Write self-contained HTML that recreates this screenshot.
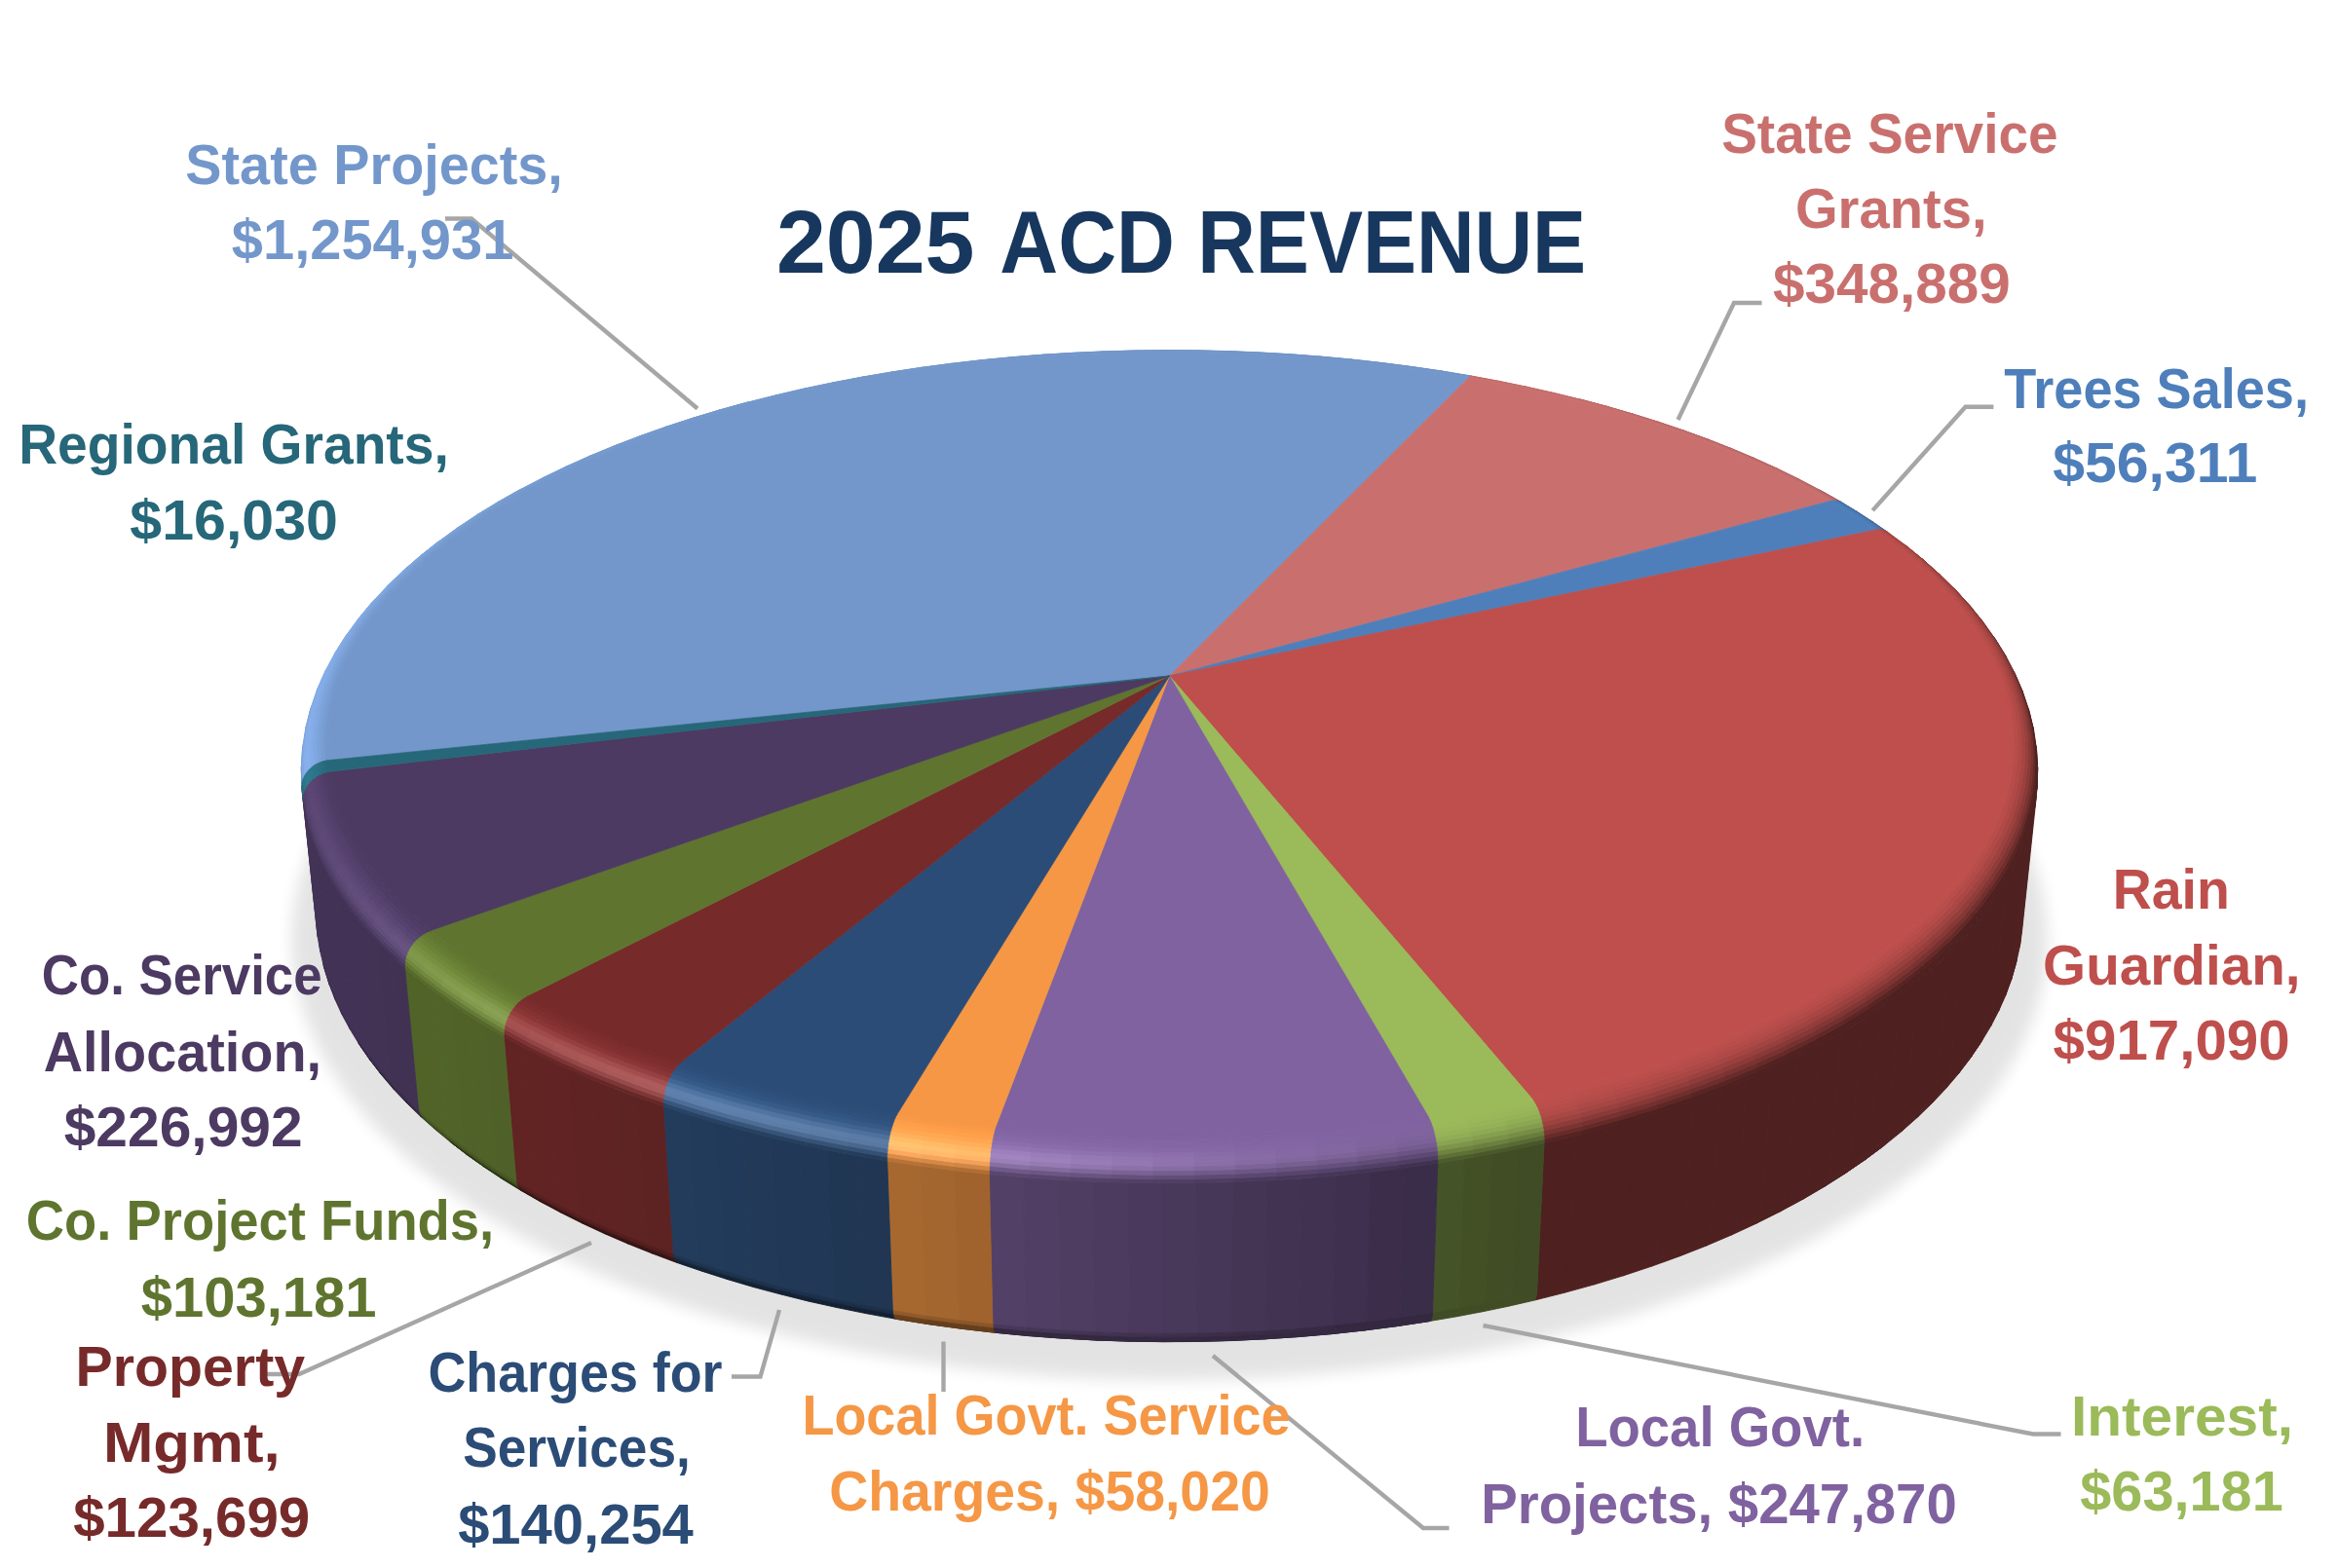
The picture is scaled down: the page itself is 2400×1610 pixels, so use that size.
<!DOCTYPE html>
<html lang="en"><head><meta charset="utf-8"><title>2025 ACD Revenue</title>
<style>html,body{margin:0;padding:0;background:#fff}svg{display:block}</style></head>
<body>
<svg width="2400" height="1610" viewBox="0 0 2400 1610">
<defs>
<filter id="fsh" x="-10%" y="-10%" width="120%" height="130%"><feGaussianBlur stdDeviation="8"/></filter>
</defs>
<rect width="2400" height="1610" fill="#fff"/>
<path d="M2061.8,870.1L2059.1,862.7L2056.1,855.3L2052.9,848.0L2049.4,840.7L2045.7,833.5L2041.7,826.4L2037.6,819.3L2033.2,812.2L2028.6,805.2L2023.8,798.3L2018.7,791.5L2013.5,784.7L2008.0,777.9L2002.3,771.3L1996.5,764.6L1990.4,758.1L1984.1,751.6L1977.7,745.3L1971.0,738.9L1964.2,732.7L1957.2,726.5L1950.0,720.4L1942.7,714.4L1935.1,708.4L1927.4,702.5L1919.5,696.7L1911.5,691.0L1903.3,685.4L1895.0,679.8L1886.5,674.3L1877.8,668.9L1869.0,663.6L1860.1,658.4L1851.0,653.2L1841.7,648.1L1832.4,643.2L1822.9,638.3L1813.3,633.4L1803.5,628.7L1793.6,624.1L1783.7,619.5L1773.5,615.0L1763.3,610.7L1753.0,606.4L1742.5,602.2L1732.0,598.0L1721.3,594.0L1710.6,590.1L1699.7,586.2L1688.7,582.5L1677.7,578.8L1666.6,575.2L1655.3,571.7L1644.0,568.3L1632.6,565.0L1621.2,561.8L1609.6,558.7L1598.0,555.7L1586.3,552.7L1574.5,549.9L1562.7,547.1L1550.8,544.5L1538.8,541.9L1526.8,539.4L1514.7,537.0L1502.6,534.7L1490.4,532.5L1478.1,530.4L1465.9,528.4L1453.5,526.5L1441.1,524.7L1428.7,522.9L1416.2,521.3L1403.7,519.7L1391.2,518.3L1378.6,516.9L1366.0,515.7L1353.4,514.5L1340.8,513.4L1328.1,512.4L1315.4,511.5L1302.7,510.7L1289.9,510.0L1277.2,509.4L1264.4,508.9L1251.7,508.5L1238.9,508.1L1226.1,507.9L1213.3,507.8L1200.5,507.7L1187.7,507.8L1174.9,507.9L1162.1,508.1L1149.3,508.5L1136.6,508.9L1123.8,509.4L1111.1,510.0L1098.3,510.7L1085.6,511.5L1072.9,512.4L1060.2,513.4L1047.6,514.5L1035.0,515.7L1022.4,516.9L1009.8,518.3L997.3,519.7L984.8,521.3L972.3,522.9L959.9,524.7L947.5,526.5L935.1,528.4L922.9,530.4L910.6,532.5L898.4,534.7L886.3,537.0L874.2,539.4L862.2,541.9L850.2,544.5L838.3,547.1L826.5,549.9L814.7,552.7L803.0,555.7L791.4,558.7L779.8,561.8L768.4,565.0L757.0,568.3L745.7,571.7L734.4,575.2L723.3,578.8L712.3,582.5L701.3,586.2L690.4,590.1L679.7,594.0L669.0,598.0L658.5,602.2L648.0,606.4L637.7,610.7L627.5,615.0L617.3,619.5L607.4,624.1L597.5,628.7L587.7,633.4L578.1,638.3L568.6,643.2L559.3,648.1L550.0,653.2L540.9,658.4L532.0,663.6L523.2,668.9L514.5,674.3L506.0,679.8L497.7,685.4L489.5,691.0L481.5,696.7L473.6,702.5L465.9,708.4L458.3,714.4L451.0,720.4L443.8,726.5L436.8,732.7L430.0,738.9L423.3,745.3L416.9,751.6L410.6,758.1L404.5,764.6L398.7,771.3L393.0,777.9L387.5,784.7L382.3,791.5L377.2,798.3L372.4,805.2L367.8,812.2L363.4,819.3L359.3,826.4L355.3,833.5L351.6,840.7L348.1,848.0L344.9,855.3L341.9,862.7L339.2,870.1L336.6,877.5L334.4,885.0L332.4,892.5L330.6,900.1L329.2,907.7L327.9,915.4L327.0,923.1L326.3,930.8L325.8,938.5L325.7,946.3L325.8,954.1L326.2,961.9L326.9,969.7L327.8,977.6L329.1,985.5L330.6,993.3L332.4,1001.2L334.5,1009.1L336.9,1017.0L339.6,1024.9L342.6,1032.8L345.9,1040.7L349.5,1048.6L353.4,1056.5L357.6,1064.3L362.0,1072.2L366.8,1080.0L371.9,1087.8L377.4,1095.6L383.1,1103.3L389.1,1111.0L395.4,1118.7L402.1,1126.3L409.0,1133.9L416.3,1141.5L423.8,1149.0L431.7,1156.4L439.8,1163.8L448.3,1171.1L457.1,1178.4L466.2,1185.6L475.6,1192.7L485.2,1199.7L495.2,1206.7L505.5,1213.6L516.1,1220.4L526.9,1227.1L538.0,1233.7L549.5,1240.2L561.2,1246.6L573.2,1252.9L585.4,1259.1L598.0,1265.2L610.8,1271.2L623.8,1277.1L637.2,1282.8L650.7,1288.5L664.6,1294.0L678.6,1299.3L693.0,1304.5L707.5,1309.6L722.3,1314.6L737.3,1319.4L752.5,1324.1L767.9,1328.6L783.5,1332.9L799.4,1337.1L815.4,1341.2L831.6,1345.1L848.0,1348.8L864.5,1352.3L881.2,1355.7L898.1,1358.9L915.1,1362.0L932.3,1364.9L949.5,1367.5L966.9,1370.1L984.5,1372.4L1002.1,1374.6L1019.8,1376.5L1037.6,1378.3L1055.5,1379.9L1073.5,1381.4L1091.5,1382.6L1109.6,1383.6L1127.7,1384.5L1145.9,1385.2L1164.1,1385.6L1182.3,1385.9L1200.5,1386.0L1218.7,1385.9L1236.9,1385.6L1255.1,1385.2L1273.3,1384.5L1291.4,1383.6L1309.5,1382.6L1327.5,1381.4L1345.5,1379.9L1363.4,1378.3L1381.2,1376.5L1398.9,1374.6L1416.5,1372.4L1434.1,1370.1L1451.5,1367.5L1468.7,1364.9L1485.9,1362.0L1502.9,1358.9L1519.8,1355.7L1536.5,1352.3L1553.0,1348.8L1569.4,1345.1L1585.6,1341.2L1601.6,1337.1L1617.5,1332.9L1633.1,1328.6L1648.5,1324.1L1663.7,1319.4L1678.7,1314.6L1693.5,1309.6L1708.0,1304.5L1722.4,1299.3L1736.4,1294.0L1750.3,1288.5L1763.8,1282.8L1777.2,1277.1L1790.2,1271.2L1803.0,1265.2L1815.6,1259.1L1827.8,1252.9L1839.8,1246.6L1851.5,1240.2L1863.0,1233.7L1874.1,1227.1L1884.9,1220.4L1895.5,1213.6L1905.8,1206.7L1915.8,1199.7L1925.4,1192.7L1934.8,1185.6L1943.9,1178.4L1952.7,1171.1L1961.2,1163.8L1969.3,1156.4L1977.2,1149.0L1984.7,1141.5L1992.0,1133.9L1998.9,1126.3L2005.6,1118.7L2011.9,1111.0L2017.9,1103.3L2023.6,1095.6L2029.1,1087.8L2034.2,1080.0L2039.0,1072.2L2043.4,1064.3L2047.6,1056.5L2051.5,1048.6L2055.1,1040.7L2058.4,1032.8L2061.4,1024.9L2064.1,1017.0L2066.5,1009.1L2068.6,1001.2L2070.4,993.3L2071.9,985.5L2073.2,977.6L2074.1,969.7L2074.8,961.9L2075.2,954.1L2075.3,946.3L2075.2,938.5L2074.7,930.8L2074.0,923.1L2073.1,915.4L2071.8,907.7L2070.4,900.1L2068.6,892.5L2066.6,885.0L2064.4,877.5L2061.8,870.1Z" fill="#000" opacity="0.105" filter="url(#fsh)" transform="translate(1200.5,964.9) scale(1.03) translate(-1200.5,-946.9)"/>
<g stroke-linejoin="round">
<path d="M1585.1,1173.7L1617.4,1166.0L1609.4,1318.8L1577.7,1326.8Z" fill="#4E201F" stroke="#4E201F" stroke-width="0.9"/>
<path d="M1577.7,1326.8L1609.4,1318.8L1608.9,1322.7L1577.2,1330.7Z" fill="#4E201F" stroke="#4E201F" stroke-width="0.9"/>
<path d="M1577.2,1330.7L1608.9,1322.7L1607.7,1325.6L1576.1,1333.6Z" fill="#4E201F" stroke="#4E201F" stroke-width="0.9"/>
<path d="M1576.1,1333.6L1607.7,1325.6L1606.0,1327.3L1574.6,1335.2Z" fill="#4E201F" stroke="#4E201F" stroke-width="0.9"/>
<path d="M1617.4,1166.0L1648.9,1157.8L1640.4,1310.3L1609.4,1318.8Z" fill="#4E201F" stroke="#4E201F" stroke-width="0.9"/>
<path d="M1609.4,1318.8L1640.4,1310.3L1639.8,1314.2L1608.9,1322.7Z" fill="#4E201F" stroke="#4E201F" stroke-width="0.9"/>
<path d="M1608.9,1322.7L1639.8,1314.2L1638.6,1317.1L1607.7,1325.6Z" fill="#4E201F" stroke="#4E201F" stroke-width="0.9"/>
<path d="M1607.7,1325.6L1638.6,1317.1L1636.8,1318.8L1606.0,1327.3Z" fill="#4E201F" stroke="#4E201F" stroke-width="0.9"/>
<path d="M1648.9,1157.8L1679.6,1148.9L1670.5,1301.1L1640.4,1310.3Z" fill="#4E201F" stroke="#4E201F" stroke-width="0.9"/>
<path d="M1640.4,1310.3L1670.5,1301.1L1669.9,1305.0L1639.8,1314.2Z" fill="#4E201F" stroke="#4E201F" stroke-width="0.9"/>
<path d="M1639.8,1314.2L1669.9,1305.0L1668.6,1308.0L1638.6,1317.1Z" fill="#4E201F" stroke="#4E201F" stroke-width="0.9"/>
<path d="M1638.6,1317.1L1668.6,1308.0L1666.7,1309.7L1636.8,1318.8Z" fill="#4E201F" stroke="#4E201F" stroke-width="0.9"/>
<path d="M1679.6,1148.9L1709.5,1139.6L1699.8,1291.4L1670.5,1301.1Z" fill="#4E201F" stroke="#4E201F" stroke-width="0.9"/>
<path d="M1670.5,1301.1L1699.8,1291.4L1699.2,1295.3L1669.9,1305.0Z" fill="#4E201F" stroke="#4E201F" stroke-width="0.9"/>
<path d="M1669.9,1305.0L1699.2,1295.3L1697.8,1298.3L1668.6,1308.0Z" fill="#4E201F" stroke="#4E201F" stroke-width="0.9"/>
<path d="M1668.6,1308.0L1697.8,1298.3L1695.7,1300.1L1666.7,1309.7Z" fill="#4E201F" stroke="#4E201F" stroke-width="0.9"/>
<path d="M1709.5,1139.6L1738.4,1129.7L1728.2,1281.2L1699.8,1291.4Z" fill="#4E201F" stroke="#4E201F" stroke-width="0.9"/>
<path d="M1699.8,1291.4L1728.2,1281.2L1727.5,1285.1L1699.2,1295.3Z" fill="#4E201F" stroke="#4E201F" stroke-width="0.9"/>
<path d="M1699.2,1295.3L1727.5,1285.1L1726.1,1288.1L1697.8,1298.3Z" fill="#4E201F" stroke="#4E201F" stroke-width="0.9"/>
<path d="M1697.8,1298.3L1726.1,1288.1L1723.9,1289.9L1695.7,1300.1Z" fill="#4E201F" stroke="#4E201F" stroke-width="0.9"/>
<path d="M1738.4,1129.7L1766.3,1119.3L1755.7,1270.4L1728.2,1281.2Z" fill="#4E201F" stroke="#4E201F" stroke-width="0.9"/>
<path d="M1728.2,1281.2L1755.7,1270.4L1754.9,1274.3L1727.5,1285.1Z" fill="#4E201F" stroke="#4E201F" stroke-width="0.9"/>
<path d="M1727.5,1285.1L1754.9,1274.3L1753.4,1277.3L1726.1,1288.1Z" fill="#4E201F" stroke="#4E201F" stroke-width="0.9"/>
<path d="M1726.1,1288.1L1753.4,1277.3L1751.2,1279.2L1723.9,1289.9Z" fill="#4E201F" stroke="#4E201F" stroke-width="0.9"/>
<path d="M1766.3,1119.3L1793.2,1108.4L1782.1,1259.2L1755.7,1270.4Z" fill="#4E201F" stroke="#4E201F" stroke-width="0.9"/>
<path d="M1755.7,1270.4L1782.1,1259.2L1781.4,1263.1L1754.9,1274.3Z" fill="#4E201F" stroke="#4E201F" stroke-width="0.9"/>
<path d="M1754.9,1274.3L1781.4,1263.1L1779.8,1266.1L1753.4,1277.3Z" fill="#4E201F" stroke="#4E201F" stroke-width="0.9"/>
<path d="M1753.4,1277.3L1779.8,1266.1L1777.4,1268.0L1751.2,1279.2Z" fill="#4E201F" stroke="#4E201F" stroke-width="0.9"/>
<path d="M1793.2,1108.4L1819.1,1097.1L1807.6,1247.4L1782.1,1259.2Z" fill="#4E201F" stroke="#4E201F" stroke-width="0.9"/>
<path d="M1782.1,1259.2L1807.6,1247.4L1806.8,1251.3L1781.4,1263.1Z" fill="#4E201F" stroke="#4E201F" stroke-width="0.9"/>
<path d="M1781.4,1263.1L1806.8,1251.3L1805.1,1254.4L1779.8,1266.1Z" fill="#4E201F" stroke="#4E201F" stroke-width="0.9"/>
<path d="M1779.8,1266.1L1805.1,1254.4L1802.7,1256.3L1777.4,1268.0Z" fill="#4E201F" stroke="#4E201F" stroke-width="0.9"/>
<path d="M1819.1,1097.1L1843.9,1085.4L1832.0,1235.3L1807.6,1247.4Z" fill="#4E201F" stroke="#4E201F" stroke-width="0.9"/>
<path d="M1807.6,1247.4L1832.0,1235.3L1831.2,1239.2L1806.8,1251.3Z" fill="#4E201F" stroke="#4E201F" stroke-width="0.9"/>
<path d="M1806.8,1251.3L1831.2,1239.2L1829.4,1242.2L1805.1,1254.4Z" fill="#4E201F" stroke="#4E201F" stroke-width="0.9"/>
<path d="M1805.1,1254.4L1829.4,1242.2L1826.9,1244.2L1802.7,1256.3Z" fill="#4E201F" stroke="#4E201F" stroke-width="0.9"/>
<path d="M1843.9,1085.4L1867.6,1073.3L1855.3,1222.7L1832.0,1235.3Z" fill="#4E201F" stroke="#4E201F" stroke-width="0.9"/>
<path d="M1832.0,1235.3L1855.3,1222.7L1854.5,1226.6L1831.2,1239.2Z" fill="#4E201F" stroke="#4E201F" stroke-width="0.9"/>
<path d="M1831.2,1239.2L1854.5,1226.6L1852.7,1229.7L1829.4,1242.2Z" fill="#4E201F" stroke="#4E201F" stroke-width="0.9"/>
<path d="M1829.4,1242.2L1852.7,1229.7L1850.1,1231.7L1826.9,1244.2Z" fill="#4E201F" stroke="#4E201F" stroke-width="0.9"/>
<path d="M1867.6,1073.3L1890.2,1060.8L1877.5,1209.7L1855.3,1222.7Z" fill="#4E201F" stroke="#4E201F" stroke-width="0.9"/>
<path d="M1855.3,1222.7L1877.5,1209.7L1876.7,1213.6L1854.5,1226.6Z" fill="#4E201F" stroke="#4E201F" stroke-width="0.9"/>
<path d="M1854.5,1226.6L1876.7,1213.6L1874.8,1216.7L1852.7,1229.7Z" fill="#4E201F" stroke="#4E201F" stroke-width="0.9"/>
<path d="M1852.7,1229.7L1874.8,1216.7L1872.1,1218.8L1850.1,1231.7Z" fill="#4E201F" stroke="#4E201F" stroke-width="0.9"/>
<path d="M1890.2,1060.8L1911.6,1047.9L1898.6,1196.4L1877.5,1209.7Z" fill="#4E201F" stroke="#4E201F" stroke-width="0.9"/>
<path d="M1877.5,1209.7L1898.6,1196.4L1897.7,1200.3L1876.7,1213.6Z" fill="#4E201F" stroke="#4E201F" stroke-width="0.9"/>
<path d="M1876.7,1213.6L1897.7,1200.3L1895.8,1203.4L1874.8,1216.7Z" fill="#4E201F" stroke="#4E201F" stroke-width="0.9"/>
<path d="M1874.8,1216.7L1895.8,1203.4L1893.1,1205.5L1872.1,1218.8Z" fill="#4E201F" stroke="#4E201F" stroke-width="0.9"/>
<path d="M1911.6,1047.9L1931.8,1034.8L1918.6,1182.8L1898.6,1196.4Z" fill="#4E201F" stroke="#4E201F" stroke-width="0.9"/>
<path d="M1898.6,1196.4L1918.6,1182.8L1917.6,1186.7L1897.7,1200.3Z" fill="#4E201F" stroke="#4E201F" stroke-width="0.9"/>
<path d="M1897.7,1200.3L1917.6,1186.7L1915.7,1189.8L1895.8,1203.4Z" fill="#4E201F" stroke="#4E201F" stroke-width="0.9"/>
<path d="M1895.8,1203.4L1915.7,1189.8L1912.9,1191.9L1893.1,1205.5Z" fill="#4E201F" stroke="#4E201F" stroke-width="0.9"/>
<path d="M1931.8,1034.8L1950.9,1021.3L1937.3,1168.8L1918.6,1182.8Z" fill="#4E201F" stroke="#4E201F" stroke-width="0.9"/>
<path d="M1918.6,1182.8L1937.3,1168.8L1936.4,1172.7L1917.6,1186.7Z" fill="#4E201F" stroke="#4E201F" stroke-width="0.9"/>
<path d="M1917.6,1186.7L1936.4,1172.7L1934.4,1175.9L1915.7,1189.8Z" fill="#4E201F" stroke="#4E201F" stroke-width="0.9"/>
<path d="M1915.7,1189.8L1934.4,1175.9L1931.6,1178.1L1912.9,1191.9Z" fill="#4E201F" stroke="#4E201F" stroke-width="0.9"/>
<path d="M1950.9,1021.3L1968.8,1007.6L1954.9,1154.6L1937.3,1168.8Z" fill="#4E201F" stroke="#4E201F" stroke-width="0.9"/>
<path d="M1937.3,1168.8L1954.9,1154.6L1954.0,1158.5L1936.4,1172.7Z" fill="#4E201F" stroke="#4E201F" stroke-width="0.9"/>
<path d="M1936.4,1172.7L1954.0,1158.5L1952.0,1161.7L1934.4,1175.9Z" fill="#4E201F" stroke="#4E201F" stroke-width="0.9"/>
<path d="M1968.8,1007.6L1985.4,993.7L1971.4,1140.1L1954.9,1154.6Z" fill="#4E201F" stroke="#4E201F" stroke-width="0.9"/>
<path d="M1954.9,1154.6L1971.4,1140.1L1970.4,1144.0L1954.0,1158.5Z" fill="#4E201F" stroke="#4E201F" stroke-width="0.9"/>
<path d="M1954.0,1158.5L1970.4,1144.0L1968.3,1147.2L1952.0,1161.7Z" fill="#4E201F" stroke="#4E201F" stroke-width="0.9"/>
<path d="M1985.4,993.7L2000.8,979.5L1986.6,1125.4L1971.4,1140.1Z" fill="#4E201F" stroke="#4E201F" stroke-width="0.9"/>
<path d="M1971.4,1140.1L1986.6,1125.4L1985.6,1129.3L1970.4,1144.0Z" fill="#4E201F" stroke="#4E201F" stroke-width="0.9"/>
<path d="M1970.4,1144.0L1985.6,1129.3L1983.5,1132.5L1968.3,1147.2Z" fill="#4E201F" stroke="#4E201F" stroke-width="0.9"/>
<path d="M2000.8,979.5L2015.0,965.2L2000.6,1110.5L1986.6,1125.4Z" fill="#4E201F" stroke="#4E201F" stroke-width="0.9"/>
<path d="M1986.6,1125.4L2000.6,1110.5L1999.6,1114.4L1985.6,1129.3Z" fill="#4E201F" stroke="#4E201F" stroke-width="0.9"/>
<path d="M1985.6,1129.3L1999.6,1114.4L1997.5,1117.6L1983.5,1132.5Z" fill="#4E201F" stroke="#4E201F" stroke-width="0.9"/>
<path d="M2015.0,965.2L2028.0,950.7L2013.4,1095.5L2000.6,1110.5Z" fill="#4E201F" stroke="#4E201F" stroke-width="0.9"/>
<path d="M2000.6,1110.5L2013.4,1095.5L2012.4,1099.3L1999.6,1114.4Z" fill="#4E201F" stroke="#4E201F" stroke-width="0.9"/>
<path d="M1999.6,1114.4L2012.4,1099.3L2010.3,1102.6L1997.5,1117.6Z" fill="#4E201F" stroke="#4E201F" stroke-width="0.9"/>
<path d="M2028.0,950.7L2039.7,936.1L2025.0,1080.3L2013.4,1095.5Z" fill="#4E201F" stroke="#4E201F" stroke-width="0.9"/>
<path d="M2013.4,1095.5L2025.0,1080.3L2024.0,1084.1L2012.4,1099.3Z" fill="#4E201F" stroke="#4E201F" stroke-width="0.9"/>
<path d="M2012.4,1099.3L2024.0,1084.1L2021.9,1087.4L2010.3,1102.6Z" fill="#4E201F" stroke="#4E201F" stroke-width="0.9"/>
<path d="M2039.7,936.1L2050.2,921.3L2035.5,1065.0L2025.0,1080.3Z" fill="#4E201F" stroke="#4E201F" stroke-width="0.9"/>
<path d="M2025.0,1080.3L2035.5,1065.0L2034.4,1068.8L2024.0,1084.1Z" fill="#4E201F" stroke="#4E201F" stroke-width="0.9"/>
<path d="M2024.0,1084.1L2034.4,1068.8L2032.3,1072.1L2021.9,1087.4Z" fill="#4E201F" stroke="#4E201F" stroke-width="0.9"/>
<path d="M2050.2,921.3L2059.5,906.5L2044.7,1049.6L2035.5,1065.0Z" fill="#4E201F" stroke="#4E201F" stroke-width="0.9"/>
<path d="M2035.5,1065.0L2044.7,1049.6L2043.7,1053.4L2034.4,1068.8Z" fill="#4E201F" stroke="#4E201F" stroke-width="0.9"/>
<path d="M2059.5,906.5L2067.6,891.6L2052.7,1034.1L2044.7,1049.6Z" fill="#4E201F" stroke="#4E201F" stroke-width="0.9"/>
<path d="M2044.7,1049.6L2052.7,1034.1L2051.7,1037.9L2043.7,1053.4Z" fill="#4E201F" stroke="#4E201F" stroke-width="0.9"/>
<path d="M2067.6,891.6L2074.5,876.7L2059.6,1018.6L2052.7,1034.1Z" fill="#4E201F" stroke="#4E201F" stroke-width="0.9"/>
<path d="M2052.7,1034.1L2059.6,1018.6L2058.6,1022.4L2051.7,1037.9Z" fill="#4E201F" stroke="#4E201F" stroke-width="0.9"/>
<path d="M2074.5,876.7L2080.2,861.8L2065.3,1003.0L2059.6,1018.6Z" fill="#4E201F" stroke="#4E201F" stroke-width="0.9"/>
<path d="M2059.6,1018.6L2065.3,1003.0L2064.3,1006.9L2058.6,1022.4Z" fill="#4E201F" stroke="#4E201F" stroke-width="0.9"/>
<path d="M2080.2,861.8L2084.8,846.9L2069.8,987.5L2065.3,1003.0Z" fill="#4E201F" stroke="#4E201F" stroke-width="0.9"/>
<path d="M2065.3,1003.0L2069.8,987.5L2068.8,991.3L2064.3,1006.9Z" fill="#4E201F" stroke="#4E201F" stroke-width="0.9"/>
<path d="M2084.8,846.9L2088.1,831.9L2073.3,972.0L2069.8,987.5Z" fill="#4E201F" stroke="#4E201F" stroke-width="0.9"/>
<path d="M2088.1,831.9L2090.4,817.1L2075.5,956.5L2073.3,972.0Z" fill="#4E201F" stroke="#4E201F" stroke-width="0.9"/>
<path d="M1475.8,1194.3L1503.7,1189.8L1497.9,1343.4L1470.5,1348.1Z" fill="#455328" stroke="#455328" stroke-width="0.9"/>
<path d="M1470.5,1348.1L1497.9,1343.4L1497.5,1347.3L1470.1,1352.0Z" fill="#404C25" stroke="#404C25" stroke-width="0.9"/>
<path d="M1470.1,1352.0L1497.5,1347.3L1496.6,1350.2L1469.3,1354.8Z" fill="#404C24" stroke="#404C24" stroke-width="0.9"/>
<path d="M1469.3,1354.8L1496.6,1350.2L1495.4,1351.8L1468.2,1356.4Z" fill="#404C24" stroke="#404C24" stroke-width="0.9"/>
<path d="M1503.7,1189.8L1531.2,1184.8L1524.9,1338.3L1497.9,1343.4Z" fill="#435026" stroke="#435026" stroke-width="0.9"/>
<path d="M1497.9,1343.4L1524.9,1338.3L1524.5,1342.2L1497.5,1347.3Z" fill="#404C24" stroke="#404C24" stroke-width="0.9"/>
<path d="M1497.5,1347.3L1524.5,1342.2L1523.5,1345.1L1496.6,1350.2Z" fill="#404C24" stroke="#404C24" stroke-width="0.9"/>
<path d="M1496.6,1350.2L1523.5,1345.1L1522.2,1346.7L1495.4,1351.8Z" fill="#404C24" stroke="#404C24" stroke-width="0.9"/>
<path d="M1531.2,1184.8L1558.4,1179.5L1551.5,1332.7L1524.9,1338.3Z" fill="#414E25" stroke="#414E25" stroke-width="0.9"/>
<path d="M1524.9,1338.3L1551.5,1332.7L1551.0,1336.7L1524.5,1342.2Z" fill="#404C24" stroke="#404C24" stroke-width="0.9"/>
<path d="M1524.5,1342.2L1551.0,1336.7L1550.0,1339.5L1523.5,1345.1Z" fill="#404C24" stroke="#404C24" stroke-width="0.9"/>
<path d="M1523.5,1345.1L1550.0,1339.5L1548.6,1341.2L1522.2,1346.7Z" fill="#404C24" stroke="#404C24" stroke-width="0.9"/>
<path d="M1558.4,1179.5L1585.1,1173.7L1577.7,1326.8L1551.5,1332.7Z" fill="#404C25" stroke="#404C25" stroke-width="0.9"/>
<path d="M1551.5,1332.7L1577.7,1326.8L1577.2,1330.7L1551.0,1336.7Z" fill="#404C24" stroke="#404C24" stroke-width="0.9"/>
<path d="M1551.0,1336.7L1577.2,1330.7L1576.1,1333.6L1550.0,1339.5Z" fill="#404C24" stroke="#404C24" stroke-width="0.9"/>
<path d="M1550.0,1339.5L1576.1,1333.6L1574.6,1335.2L1548.6,1341.2Z" fill="#404C24" stroke="#404C24" stroke-width="0.9"/>
<path d="M1015.4,1205.7L1050.6,1208.8L1053.5,1363.2L1019.0,1359.9Z" fill="#524066" stroke="#524066" stroke-width="0.9"/>
<path d="M1019.0,1359.9L1053.5,1363.2L1053.7,1367.1L1019.2,1363.8Z" fill="#473758" stroke="#473758" stroke-width="0.9"/>
<path d="M1019.2,1363.8L1053.7,1367.1L1054.1,1369.9L1019.8,1366.6Z" fill="#342841" stroke="#342841" stroke-width="0.9"/>
<path d="M1019.8,1366.6L1054.1,1369.9L1054.7,1371.4L1020.5,1368.1Z" fill="#342841" stroke="#342841" stroke-width="0.9"/>
<path d="M1020.5,1368.1L1054.7,1371.4L1055.5,1371.6L1021.5,1368.3Z" fill="#342841" stroke="#342841" stroke-width="0.9"/>
<path d="M1050.6,1208.8L1086.1,1211.3L1088.3,1365.8L1053.5,1363.2Z" fill="#503E64" stroke="#503E64" stroke-width="0.9"/>
<path d="M1053.5,1363.2L1088.3,1365.8L1088.5,1369.7L1053.7,1367.1Z" fill="#453556" stroke="#453556" stroke-width="0.9"/>
<path d="M1053.7,1367.1L1088.5,1369.7L1088.8,1372.5L1054.1,1369.9Z" fill="#342841" stroke="#342841" stroke-width="0.9"/>
<path d="M1054.1,1369.9L1088.8,1372.5L1089.2,1374.0L1054.7,1371.4Z" fill="#342841" stroke="#342841" stroke-width="0.9"/>
<path d="M1054.7,1371.4L1089.2,1374.0L1089.8,1374.1L1055.5,1371.6Z" fill="#342841" stroke="#342841" stroke-width="0.9"/>
<path d="M1086.1,1211.3L1121.8,1213.2L1123.3,1367.7L1088.3,1365.8Z" fill="#4E3D61" stroke="#4E3D61" stroke-width="0.9"/>
<path d="M1088.3,1365.8L1123.3,1367.7L1123.4,1371.6L1088.5,1369.7Z" fill="#433454" stroke="#433454" stroke-width="0.9"/>
<path d="M1088.5,1369.7L1123.4,1371.6L1123.6,1374.4L1088.8,1372.5Z" fill="#342841" stroke="#342841" stroke-width="0.9"/>
<path d="M1088.8,1372.5L1123.6,1374.4L1124.0,1375.9L1089.2,1374.0Z" fill="#342841" stroke="#342841" stroke-width="0.9"/>
<path d="M1089.2,1374.0L1124.0,1375.9L1124.4,1376.0L1089.8,1374.1Z" fill="#342841" stroke="#342841" stroke-width="0.9"/>
<path d="M1121.8,1213.2L1157.6,1214.3L1158.5,1368.9L1123.3,1367.7Z" fill="#4C3B5F" stroke="#4C3B5F" stroke-width="0.9"/>
<path d="M1123.3,1367.7L1158.5,1368.9L1158.5,1372.8L1123.4,1371.6Z" fill="#413252" stroke="#413252" stroke-width="0.9"/>
<path d="M1123.4,1371.6L1158.5,1372.8L1158.6,1375.6L1123.6,1374.4Z" fill="#342841" stroke="#342841" stroke-width="0.9"/>
<path d="M1123.6,1374.4L1158.6,1375.6L1158.8,1377.1L1124.0,1375.9Z" fill="#342841" stroke="#342841" stroke-width="0.9"/>
<path d="M1124.0,1375.9L1158.8,1377.1L1159.0,1377.2L1124.4,1376.0Z" fill="#342841" stroke="#342841" stroke-width="0.9"/>
<path d="M1157.6,1214.3L1193.5,1214.8L1193.7,1369.3L1158.5,1368.9Z" fill="#4A395D" stroke="#4A395D" stroke-width="0.9"/>
<path d="M1158.5,1368.9L1193.7,1369.3L1193.7,1373.2L1158.5,1372.8Z" fill="#40314F" stroke="#40314F" stroke-width="0.9"/>
<path d="M1158.5,1372.8L1193.7,1373.2L1193.7,1376.0L1158.6,1375.6Z" fill="#342841" stroke="#342841" stroke-width="0.9"/>
<path d="M1158.6,1375.6L1193.7,1376.0L1193.7,1377.6L1158.8,1377.1Z" fill="#342841" stroke="#342841" stroke-width="0.9"/>
<path d="M1158.8,1377.1L1193.7,1377.6L1193.8,1377.7L1159.0,1377.2Z" fill="#342841" stroke="#342841" stroke-width="0.9"/>
<path d="M1193.5,1214.8L1229.5,1214.6L1228.9,1369.1L1193.7,1369.3Z" fill="#48385A" stroke="#48385A" stroke-width="0.9"/>
<path d="M1193.7,1369.3L1228.9,1369.1L1228.9,1373.0L1193.7,1373.2Z" fill="#3E304D" stroke="#3E304D" stroke-width="0.9"/>
<path d="M1193.7,1373.2L1228.9,1373.0L1228.8,1375.8L1193.7,1376.0Z" fill="#342841" stroke="#342841" stroke-width="0.9"/>
<path d="M1193.7,1376.0L1228.8,1375.8L1228.7,1377.3L1193.7,1377.6Z" fill="#342841" stroke="#342841" stroke-width="0.9"/>
<path d="M1193.7,1377.6L1228.7,1377.3L1228.5,1377.5L1193.8,1377.7Z" fill="#342841" stroke="#342841" stroke-width="0.9"/>
<path d="M1229.5,1214.6L1265.3,1213.7L1264.1,1368.2L1228.9,1369.1Z" fill="#463658" stroke="#463658" stroke-width="0.9"/>
<path d="M1228.9,1369.1L1264.1,1368.2L1264.0,1372.1L1228.9,1373.0Z" fill="#3C2E4B" stroke="#3C2E4B" stroke-width="0.9"/>
<path d="M1228.9,1373.0L1264.0,1372.1L1263.8,1374.9L1228.8,1375.8Z" fill="#342841" stroke="#342841" stroke-width="0.9"/>
<path d="M1228.8,1375.8L1263.8,1374.9L1263.6,1376.4L1228.7,1377.3Z" fill="#342841" stroke="#342841" stroke-width="0.9"/>
<path d="M1228.7,1377.3L1263.6,1376.4L1263.2,1376.6L1228.5,1377.5Z" fill="#342841" stroke="#342841" stroke-width="0.9"/>
<path d="M1265.3,1213.7L1301.1,1212.1L1299.2,1366.6L1264.1,1368.2Z" fill="#443555" stroke="#443555" stroke-width="0.9"/>
<path d="M1264.1,1368.2L1299.2,1366.6L1299.0,1370.5L1264.0,1372.1Z" fill="#3A2D48" stroke="#3A2D48" stroke-width="0.9"/>
<path d="M1264.0,1372.1L1299.0,1370.5L1298.7,1373.3L1263.8,1374.9Z" fill="#342841" stroke="#342841" stroke-width="0.9"/>
<path d="M1263.8,1374.9L1298.7,1373.3L1298.3,1374.8L1263.6,1376.4Z" fill="#342841" stroke="#342841" stroke-width="0.9"/>
<path d="M1263.6,1376.4L1298.3,1374.8L1297.8,1374.9L1263.2,1376.6Z" fill="#342841" stroke="#342841" stroke-width="0.9"/>
<path d="M1301.1,1212.1L1336.7,1209.9L1334.0,1364.3L1299.2,1366.6Z" fill="#423353" stroke="#423353" stroke-width="0.9"/>
<path d="M1299.2,1366.6L1334.0,1364.3L1333.9,1368.2L1299.0,1370.5Z" fill="#382B46" stroke="#382B46" stroke-width="0.9"/>
<path d="M1299.0,1370.5L1333.9,1368.2L1333.5,1371.0L1298.7,1373.3Z" fill="#342841" stroke="#342841" stroke-width="0.9"/>
<path d="M1298.7,1373.3L1333.5,1371.0L1332.9,1372.5L1298.3,1374.8Z" fill="#342841" stroke="#342841" stroke-width="0.9"/>
<path d="M1298.3,1374.8L1332.9,1372.5L1332.2,1372.6L1297.8,1374.9Z" fill="#342841" stroke="#342841" stroke-width="0.9"/>
<path d="M1336.7,1209.9L1372.0,1207.0L1368.7,1361.2L1334.0,1364.3Z" fill="#403250" stroke="#403250" stroke-width="0.9"/>
<path d="M1334.0,1364.3L1368.7,1361.2L1368.4,1365.1L1333.9,1368.2Z" fill="#362A44" stroke="#362A44" stroke-width="0.9"/>
<path d="M1333.9,1368.2L1368.4,1365.1L1368.0,1368.0L1333.5,1371.0Z" fill="#342841" stroke="#342841" stroke-width="0.9"/>
<path d="M1333.5,1371.0L1368.0,1368.0L1367.3,1369.5L1332.9,1372.5Z" fill="#342841" stroke="#342841" stroke-width="0.9"/>
<path d="M1332.9,1372.5L1367.3,1369.5L1366.4,1369.7L1332.2,1372.6Z" fill="#342841" stroke="#342841" stroke-width="0.9"/>
<path d="M1372.0,1207.0L1407.0,1203.4L1403.0,1357.5L1368.7,1361.2Z" fill="#3E304E" stroke="#3E304E" stroke-width="0.9"/>
<path d="M1368.7,1361.2L1403.0,1357.5L1402.7,1361.4L1368.4,1365.1Z" fill="#342841" stroke="#342841" stroke-width="0.9"/>
<path d="M1368.4,1365.1L1402.7,1361.4L1402.1,1364.3L1368.0,1368.0Z" fill="#342841" stroke="#342841" stroke-width="0.9"/>
<path d="M1368.0,1368.0L1402.1,1364.3L1401.3,1365.8L1367.3,1369.5Z" fill="#342841" stroke="#342841" stroke-width="0.9"/>
<path d="M1367.3,1369.5L1401.3,1365.8L1400.2,1366.0L1366.4,1369.7Z" fill="#342841" stroke="#342841" stroke-width="0.9"/>
<path d="M1407.0,1203.4L1441.6,1199.1L1436.9,1353.1L1403.0,1357.5Z" fill="#3C2E4B" stroke="#3C2E4B" stroke-width="0.9"/>
<path d="M1403.0,1357.5L1436.9,1353.1L1436.6,1357.0L1402.7,1361.4Z" fill="#342841" stroke="#342841" stroke-width="0.9"/>
<path d="M1402.7,1361.4L1436.6,1357.0L1435.9,1359.9L1402.1,1364.3Z" fill="#342841" stroke="#342841" stroke-width="0.9"/>
<path d="M1402.1,1364.3L1435.9,1359.9L1435.0,1361.4L1401.3,1365.8Z" fill="#342841" stroke="#342841" stroke-width="0.9"/>
<path d="M1401.3,1365.8L1435.0,1361.4L1433.7,1361.7L1400.2,1366.0Z" fill="#342841" stroke="#342841" stroke-width="0.9"/>
<path d="M1441.6,1199.1L1475.8,1194.3L1470.5,1348.1L1436.9,1353.1Z" fill="#3A2D49" stroke="#3A2D49" stroke-width="0.9"/>
<path d="M1436.9,1353.1L1470.5,1348.1L1470.1,1352.0L1436.6,1357.0Z" fill="#342841" stroke="#342841" stroke-width="0.9"/>
<path d="M1436.6,1357.0L1470.1,1352.0L1469.3,1354.8L1435.9,1359.9Z" fill="#342841" stroke="#342841" stroke-width="0.9"/>
<path d="M1435.9,1359.9L1469.3,1354.8L1468.2,1356.4L1435.0,1361.4Z" fill="#342841" stroke="#342841" stroke-width="0.9"/>
<path d="M1435.0,1361.4L1468.2,1356.4L1466.8,1356.7L1433.7,1361.7Z" fill="#342841" stroke="#342841" stroke-width="0.9"/>
<path d="M910.7,1192.0L945.1,1197.2L950.1,1351.1L916.3,1345.7Z" fill="#A76830" stroke="#A76830" stroke-width="0.9"/>
<path d="M916.3,1345.7L950.1,1351.1L950.4,1355.0L916.6,1349.6Z" fill="#925A29" stroke="#925A29" stroke-width="0.9"/>
<path d="M916.6,1349.6L950.4,1355.0L951.1,1357.9L917.4,1352.5Z" fill="#69411D" stroke="#69411D" stroke-width="0.9"/>
<path d="M917.4,1352.5L951.1,1357.9L952.1,1359.4L918.6,1354.1Z" fill="#643E1C" stroke="#643E1C" stroke-width="0.9"/>
<path d="M918.6,1354.1L952.1,1359.4L953.4,1359.7L920.1,1354.3Z" fill="#643E1C" stroke="#643E1C" stroke-width="0.9"/>
<path d="M945.1,1197.2L980.1,1201.8L984.3,1355.8L950.1,1351.1Z" fill="#A4662F" stroke="#A4662F" stroke-width="0.9"/>
<path d="M950.1,1351.1L984.3,1355.8L984.6,1359.7L950.4,1355.0Z" fill="#8F5828" stroke="#8F5828" stroke-width="0.9"/>
<path d="M950.4,1355.0L984.6,1359.7L985.2,1362.6L951.1,1357.9Z" fill="#663F1D" stroke="#663F1D" stroke-width="0.9"/>
<path d="M951.1,1357.9L985.2,1362.6L986.1,1364.1L952.1,1359.4Z" fill="#643E1C" stroke="#643E1C" stroke-width="0.9"/>
<path d="M952.1,1359.4L986.1,1364.1L987.2,1364.3L953.4,1359.7Z" fill="#643E1C" stroke="#643E1C" stroke-width="0.9"/>
<path d="M980.1,1201.8L1015.4,1205.7L1019.0,1359.9L984.3,1355.8Z" fill="#A0632E" stroke="#A0632E" stroke-width="0.9"/>
<path d="M984.3,1355.8L1019.0,1359.9L1019.2,1363.8L984.6,1359.7Z" fill="#8B5628" stroke="#8B5628" stroke-width="0.9"/>
<path d="M984.6,1359.7L1019.2,1363.8L1019.8,1366.6L985.2,1362.6Z" fill="#643E1C" stroke="#643E1C" stroke-width="0.9"/>
<path d="M985.2,1362.6L1019.8,1366.6L1020.5,1368.1L986.1,1364.1Z" fill="#643E1C" stroke="#643E1C" stroke-width="0.9"/>
<path d="M986.1,1364.1L1020.5,1368.1L1021.5,1368.3L987.2,1364.3Z" fill="#643E1C" stroke="#643E1C" stroke-width="0.9"/>
<path d="M680.7,1136.0L707.2,1144.6L716.5,1296.6L690.5,1287.7Z" fill="#233C5C" stroke="#233C5C" stroke-width="0.9"/>
<path d="M690.5,1287.7L716.5,1296.6L717.2,1300.5L691.2,1291.6Z" fill="#1E3451" stroke="#1E3451" stroke-width="0.9"/>
<path d="M691.2,1291.6L717.2,1300.5L718.5,1303.5L692.6,1294.6Z" fill="#16263C" stroke="#16263C" stroke-width="0.9"/>
<path d="M692.6,1294.6L718.5,1303.5L720.5,1305.2L694.7,1296.4Z" fill="#121F30" stroke="#121F30" stroke-width="0.9"/>
<path d="M707.2,1144.6L734.4,1152.8L743.2,1305.1L716.5,1296.6Z" fill="#223B5B" stroke="#223B5B" stroke-width="0.9"/>
<path d="M716.5,1296.6L743.2,1305.1L743.8,1309.0L717.2,1300.5Z" fill="#1D334F" stroke="#1D334F" stroke-width="0.9"/>
<path d="M717.2,1300.5L743.8,1309.0L745.1,1311.9L718.5,1303.5Z" fill="#15263B" stroke="#15263B" stroke-width="0.9"/>
<path d="M718.5,1303.5L745.1,1311.9L747.0,1313.7L720.5,1305.2Z" fill="#121F30" stroke="#121F30" stroke-width="0.9"/>
<path d="M734.4,1152.8L762.2,1160.5L770.6,1313.1L743.2,1305.1Z" fill="#223A59" stroke="#223A59" stroke-width="0.9"/>
<path d="M743.2,1305.1L770.6,1313.1L771.2,1317.0L743.8,1309.0Z" fill="#1D334E" stroke="#1D334E" stroke-width="0.9"/>
<path d="M743.8,1309.0L771.2,1317.0L772.4,1319.9L745.1,1311.9Z" fill="#15253A" stroke="#15253A" stroke-width="0.9"/>
<path d="M745.1,1311.9L772.4,1319.9L774.1,1321.7L747.0,1313.7Z" fill="#121F30" stroke="#121F30" stroke-width="0.9"/>
<path d="M762.2,1160.5L790.8,1167.8L798.6,1320.7L770.6,1313.1Z" fill="#223A58" stroke="#223A58" stroke-width="0.9"/>
<path d="M770.6,1313.1L798.6,1320.7L799.1,1324.6L771.2,1317.0Z" fill="#1C324D" stroke="#1C324D" stroke-width="0.9"/>
<path d="M771.2,1317.0L799.1,1324.6L800.3,1327.5L772.4,1319.9Z" fill="#152438" stroke="#152438" stroke-width="0.9"/>
<path d="M772.4,1319.9L800.3,1327.5L801.9,1329.1L774.1,1321.7Z" fill="#121F30" stroke="#121F30" stroke-width="0.9"/>
<path d="M790.8,1167.8L819.9,1174.6L827.2,1327.7L798.6,1320.7Z" fill="#213957" stroke="#213957" stroke-width="0.9"/>
<path d="M798.6,1320.7L827.2,1327.7L827.7,1331.6L799.1,1324.6Z" fill="#1C314C" stroke="#1C314C" stroke-width="0.9"/>
<path d="M799.1,1324.6L827.7,1331.6L828.8,1334.5L800.3,1327.5Z" fill="#142437" stroke="#142437" stroke-width="0.9"/>
<path d="M800.3,1327.5L828.8,1334.5L830.3,1336.2L801.9,1329.1Z" fill="#121F30" stroke="#121F30" stroke-width="0.9"/>
<path d="M819.9,1174.6L849.7,1180.9L856.4,1334.2L827.2,1327.7Z" fill="#213856" stroke="#213856" stroke-width="0.9"/>
<path d="M827.2,1327.7L856.4,1334.2L856.8,1338.1L827.7,1331.6Z" fill="#1B304B" stroke="#1B304B" stroke-width="0.9"/>
<path d="M827.7,1331.6L856.8,1338.1L857.8,1341.0L828.8,1334.5Z" fill="#142336" stroke="#142336" stroke-width="0.9"/>
<path d="M828.8,1334.5L857.8,1341.0L859.2,1342.6L830.3,1336.2Z" fill="#121F30" stroke="#121F30" stroke-width="0.9"/>
<path d="M849.7,1180.9L879.9,1186.7L886.1,1340.2L856.4,1334.2Z" fill="#203754" stroke="#203754" stroke-width="0.9"/>
<path d="M856.4,1334.2L886.1,1340.2L886.5,1344.1L856.8,1338.1Z" fill="#1B2F49" stroke="#1B2F49" stroke-width="0.9"/>
<path d="M856.8,1338.1L886.5,1344.1L887.4,1347.0L857.8,1341.0Z" fill="#132235" stroke="#132235" stroke-width="0.9"/>
<path d="M857.8,1341.0L887.4,1347.0L888.7,1348.6L859.2,1342.6Z" fill="#121F30" stroke="#121F30" stroke-width="0.9"/>
<path d="M879.9,1186.7L910.7,1192.0L916.3,1345.7L886.1,1340.2Z" fill="#203653" stroke="#203653" stroke-width="0.9"/>
<path d="M886.1,1340.2L916.3,1345.7L916.6,1349.6L886.5,1344.1Z" fill="#1B2F48" stroke="#1B2F48" stroke-width="0.9"/>
<path d="M886.5,1344.1L916.6,1349.6L917.4,1352.5L887.4,1347.0Z" fill="#132134" stroke="#132134" stroke-width="0.9"/>
<path d="M887.4,1347.0L917.4,1352.5L918.6,1354.1L888.7,1348.6Z" fill="#121F30" stroke="#121F30" stroke-width="0.9"/>
<path d="M517.2,1064.4L537.9,1075.7L550.2,1225.2L529.8,1213.5Z" fill="#622323" stroke="#622323" stroke-width="0.9"/>
<path d="M529.8,1213.5L550.2,1225.2L551.0,1229.1L530.7,1217.4Z" fill="#581F1F" stroke="#581F1F" stroke-width="0.9"/>
<path d="M530.7,1217.4L551.0,1229.1L552.8,1232.2L532.5,1220.5Z" fill="#421717" stroke="#421717" stroke-width="0.9"/>
<path d="M532.5,1220.5L552.8,1232.2L555.4,1234.2L535.1,1222.6Z" fill="#311111" stroke="#311111" stroke-width="0.9"/>
<path d="M537.9,1075.7L559.6,1086.6L571.4,1236.5L550.2,1225.2Z" fill="#622323" stroke="#622323" stroke-width="0.9"/>
<path d="M550.2,1225.2L571.4,1236.5L572.2,1240.4L551.0,1229.1Z" fill="#571F1F" stroke="#571F1F" stroke-width="0.9"/>
<path d="M551.0,1229.1L572.2,1240.4L574.0,1243.5L552.8,1232.2Z" fill="#421717" stroke="#421717" stroke-width="0.9"/>
<path d="M552.8,1232.2L574.0,1243.5L576.5,1245.4L555.4,1234.2Z" fill="#311111" stroke="#311111" stroke-width="0.9"/>
<path d="M559.6,1086.6L582.1,1097.2L593.6,1247.5L571.4,1236.5Z" fill="#612323" stroke="#612323" stroke-width="0.9"/>
<path d="M571.4,1236.5L593.6,1247.5L594.4,1251.4L572.2,1240.4Z" fill="#561F1F" stroke="#561F1F" stroke-width="0.9"/>
<path d="M572.2,1240.4L594.4,1251.4L596.0,1254.4L574.0,1243.5Z" fill="#411717" stroke="#411717" stroke-width="0.9"/>
<path d="M574.0,1243.5L596.0,1254.4L598.5,1256.4L576.5,1245.4Z" fill="#311111" stroke="#311111" stroke-width="0.9"/>
<path d="M582.1,1097.2L605.5,1107.5L616.6,1258.2L593.6,1247.5Z" fill="#602323" stroke="#602323" stroke-width="0.9"/>
<path d="M593.6,1247.5L616.6,1258.2L617.4,1262.1L594.4,1251.4Z" fill="#551E1E" stroke="#551E1E" stroke-width="0.9"/>
<path d="M594.4,1251.4L617.4,1262.1L619.0,1265.1L596.0,1254.4Z" fill="#401717" stroke="#401717" stroke-width="0.9"/>
<path d="M596.0,1254.4L619.0,1265.1L621.3,1267.0L598.5,1256.4Z" fill="#311111" stroke="#311111" stroke-width="0.9"/>
<path d="M605.5,1107.5L629.7,1117.4L640.4,1268.4L616.6,1258.2Z" fill="#5F2323" stroke="#5F2323" stroke-width="0.9"/>
<path d="M616.6,1258.2L640.4,1268.4L641.2,1272.3L617.4,1262.1Z" fill="#541E1E" stroke="#541E1E" stroke-width="0.9"/>
<path d="M617.4,1262.1L641.2,1272.3L642.7,1275.3L619.0,1265.1Z" fill="#3F1616" stroke="#3F1616" stroke-width="0.9"/>
<path d="M619.0,1265.1L642.7,1275.3L645.0,1277.2L621.3,1267.0Z" fill="#311111" stroke="#311111" stroke-width="0.9"/>
<path d="M629.7,1117.4L654.8,1126.9L665.1,1278.3L640.4,1268.4Z" fill="#5E2323" stroke="#5E2323" stroke-width="0.9"/>
<path d="M640.4,1268.4L665.1,1278.3L665.8,1282.2L641.2,1272.3Z" fill="#531E1E" stroke="#531E1E" stroke-width="0.9"/>
<path d="M641.2,1272.3L665.8,1282.2L667.3,1285.1L642.7,1275.3Z" fill="#3E1616" stroke="#3E1616" stroke-width="0.9"/>
<path d="M642.7,1275.3L667.3,1285.1L669.5,1287.0L645.0,1277.2Z" fill="#311111" stroke="#311111" stroke-width="0.9"/>
<path d="M654.8,1126.9L680.7,1136.0L690.5,1287.7L665.1,1278.3Z" fill="#5D2222" stroke="#5D2222" stroke-width="0.9"/>
<path d="M665.1,1278.3L690.5,1287.7L691.2,1291.6L665.8,1282.2Z" fill="#521D1D" stroke="#521D1D" stroke-width="0.9"/>
<path d="M665.8,1282.2L691.2,1291.6L692.6,1294.6L667.3,1285.1Z" fill="#3D1616" stroke="#3D1616" stroke-width="0.9"/>
<path d="M667.3,1285.1L692.6,1294.6L694.7,1296.4L669.5,1287.0Z" fill="#311111" stroke="#311111" stroke-width="0.9"/>
<path d="M415.6,993.7L430.2,1006.0L444.1,1152.9L429.7,1140.1Z" fill="#516428" stroke="#516428" stroke-width="0.9"/>
<path d="M429.7,1140.1L444.1,1152.9L445.0,1156.8L430.6,1144.0Z" fill="#495A24" stroke="#495A24" stroke-width="0.9"/>
<path d="M430.6,1144.0L445.0,1156.8L447.1,1160.0L432.7,1147.2Z" fill="#38451C" stroke="#38451C" stroke-width="0.9"/>
<path d="M430.2,1006.0L445.8,1018.1L459.4,1165.5L444.1,1152.9Z" fill="#516328" stroke="#516328" stroke-width="0.9"/>
<path d="M444.1,1152.9L459.4,1165.5L460.4,1169.4L445.0,1156.8Z" fill="#495924" stroke="#495924" stroke-width="0.9"/>
<path d="M445.0,1156.8L460.4,1169.4L462.3,1172.5L447.1,1160.0Z" fill="#38441B" stroke="#38441B" stroke-width="0.9"/>
<path d="M445.8,1018.1L462.3,1030.1L475.7,1177.9L459.4,1165.5Z" fill="#506328" stroke="#506328" stroke-width="0.9"/>
<path d="M459.4,1165.5L475.7,1177.9L476.6,1181.8L460.4,1169.4Z" fill="#485924" stroke="#485924" stroke-width="0.9"/>
<path d="M460.4,1169.4L476.6,1181.8L478.5,1184.9L462.3,1172.5Z" fill="#37441B" stroke="#37441B" stroke-width="0.9"/>
<path d="M462.3,1172.5L478.5,1184.9L481.4,1187.1L465.2,1174.7Z" fill="#273013" stroke="#273013" stroke-width="0.9"/>
<path d="M462.3,1030.1L479.7,1041.8L492.8,1190.0L475.7,1177.9Z" fill="#506228" stroke="#506228" stroke-width="0.9"/>
<path d="M475.7,1177.9L492.8,1190.0L493.7,1193.9L476.6,1181.8Z" fill="#485824" stroke="#485824" stroke-width="0.9"/>
<path d="M476.6,1181.8L493.7,1193.9L495.6,1197.0L478.5,1184.9Z" fill="#37431B" stroke="#37431B" stroke-width="0.9"/>
<path d="M478.5,1184.9L495.6,1197.0L498.4,1199.1L481.4,1187.1Z" fill="#273013" stroke="#273013" stroke-width="0.9"/>
<path d="M479.7,1041.8L498.0,1053.2L510.9,1201.9L492.8,1190.0Z" fill="#506228" stroke="#506228" stroke-width="0.9"/>
<path d="M492.8,1190.0L510.9,1201.9L511.7,1205.8L493.7,1193.9Z" fill="#475823" stroke="#475823" stroke-width="0.9"/>
<path d="M493.7,1193.9L511.7,1205.8L513.6,1208.9L495.6,1197.0Z" fill="#36431B" stroke="#36431B" stroke-width="0.9"/>
<path d="M495.6,1197.0L513.6,1208.9L516.3,1211.0L498.4,1199.1Z" fill="#273013" stroke="#273013" stroke-width="0.9"/>
<path d="M498.0,1053.2L517.2,1064.4L529.8,1213.5L510.9,1201.9Z" fill="#4F6128" stroke="#4F6128" stroke-width="0.9"/>
<path d="M510.9,1201.9L529.8,1213.5L530.7,1217.4L511.7,1205.8Z" fill="#475723" stroke="#475723" stroke-width="0.9"/>
<path d="M511.7,1205.8L530.7,1217.4L532.5,1220.5L513.6,1208.9Z" fill="#36421B" stroke="#36421B" stroke-width="0.9"/>
<path d="M513.6,1208.9L532.5,1220.5L535.1,1222.6L516.3,1211.0Z" fill="#273013" stroke="#273013" stroke-width="0.9"/>
<path d="M311.3,822.6L313.9,837.0L328.8,977.2L326.2,962.2Z" fill="#423255" stroke="#423255" stroke-width="0.9"/>
<path d="M313.9,837.0L317.5,851.4L332.4,992.3L328.8,977.2Z" fill="#423255" stroke="#423255" stroke-width="0.9"/>
<path d="M317.5,851.4L322.2,865.9L337.2,1007.3L332.4,992.3Z" fill="#423255" stroke="#423255" stroke-width="0.9"/>
<path d="M332.4,992.3L337.2,1007.3L338.2,1011.2L333.5,996.1Z" fill="#3C2E4D" stroke="#3C2E4D" stroke-width="0.9"/>
<path d="M322.2,865.9L328.1,880.4L343.0,1022.4L337.2,1007.3Z" fill="#423255" stroke="#423255" stroke-width="0.9"/>
<path d="M337.2,1007.3L343.0,1022.4L344.0,1026.2L338.2,1011.2Z" fill="#3C2E4D" stroke="#3C2E4D" stroke-width="0.9"/>
<path d="M328.1,880.4L335.0,894.9L349.9,1037.4L343.0,1022.4Z" fill="#423255" stroke="#423255" stroke-width="0.9"/>
<path d="M343.0,1022.4L349.9,1037.4L350.9,1041.3L344.0,1026.2Z" fill="#3C2E4D" stroke="#3C2E4D" stroke-width="0.9"/>
<path d="M335.0,894.9L343.1,909.3L357.9,1052.4L349.9,1037.4Z" fill="#423255" stroke="#423255" stroke-width="0.9"/>
<path d="M349.9,1037.4L357.9,1052.4L359.0,1056.3L350.9,1041.3Z" fill="#3C2E4D" stroke="#3C2E4D" stroke-width="0.9"/>
<path d="M343.1,909.3L352.3,923.6L367.1,1067.3L357.9,1052.4Z" fill="#423255" stroke="#423255" stroke-width="0.9"/>
<path d="M357.9,1052.4L367.1,1067.3L368.1,1071.2L359.0,1056.3Z" fill="#3C2E4D" stroke="#3C2E4D" stroke-width="0.9"/>
<path d="M352.3,923.6L362.7,937.9L377.3,1082.2L367.1,1067.3Z" fill="#423255" stroke="#423255" stroke-width="0.9"/>
<path d="M367.1,1067.3L377.3,1082.2L378.4,1086.0L368.1,1071.2Z" fill="#3C2E4D" stroke="#3C2E4D" stroke-width="0.9"/>
<path d="M368.1,1071.2L378.4,1086.0L380.5,1089.3L370.2,1074.5Z" fill="#2E233B" stroke="#2E233B" stroke-width="0.9"/>
<path d="M362.7,937.9L374.2,952.1L388.7,1096.9L377.3,1082.2Z" fill="#423255" stroke="#423255" stroke-width="0.9"/>
<path d="M377.3,1082.2L388.7,1096.9L389.7,1100.8L378.4,1086.0Z" fill="#3B2D4D" stroke="#3B2D4D" stroke-width="0.9"/>
<path d="M378.4,1086.0L389.7,1100.8L391.9,1104.0L380.5,1089.3Z" fill="#2E233B" stroke="#2E233B" stroke-width="0.9"/>
<path d="M374.2,952.1L386.9,966.1L401.3,1111.5L388.7,1096.9Z" fill="#423254" stroke="#423254" stroke-width="0.9"/>
<path d="M388.7,1096.9L401.3,1111.5L402.2,1115.4L389.7,1100.8Z" fill="#3B2D4C" stroke="#3B2D4C" stroke-width="0.9"/>
<path d="M389.7,1100.8L402.2,1115.4L404.3,1118.6L391.9,1104.0Z" fill="#2E233B" stroke="#2E233B" stroke-width="0.9"/>
<path d="M386.9,966.1L400.7,980.0L414.9,1125.9L401.3,1111.5Z" fill="#413254" stroke="#413254" stroke-width="0.9"/>
<path d="M401.3,1111.5L414.9,1125.9L415.9,1129.8L402.2,1115.4Z" fill="#3B2D4C" stroke="#3B2D4C" stroke-width="0.9"/>
<path d="M402.2,1115.4L415.9,1129.8L418.0,1133.0L404.3,1118.6Z" fill="#2D233A" stroke="#2D233A" stroke-width="0.9"/>
<path d="M400.7,980.0L415.6,993.7L429.7,1140.1L414.9,1125.9Z" fill="#413254" stroke="#413254" stroke-width="0.9"/>
<path d="M414.9,1125.9L429.7,1140.1L430.6,1144.0L415.9,1129.8Z" fill="#3B2D4C" stroke="#3B2D4C" stroke-width="0.9"/>
<path d="M415.9,1129.8L430.6,1144.0L432.7,1147.2L418.0,1133.0Z" fill="#2D223A" stroke="#2D223A" stroke-width="0.9"/>
<path d="M310.0,810.4L311.3,822.6L326.2,962.2L324.8,949.5Z" fill="#423255" stroke="#423255" stroke-width="0.9"/>
</g>
<g stroke-linejoin="round">
<path d="M309.3,788.3L309.9,806.9L310.0,810.4L309.4,791.8Z" fill="#698ABA" stroke="#698ABA" stroke-width="0.9"/>
<path d="M1585.1,1169.7L1625.0,1160.1L1624.9,1164.1L1585.1,1173.7Z" fill="#542322" stroke="#542322" stroke-width="0.9"/>
<path d="M1625.0,1160.1L1663.6,1149.7L1663.6,1153.7L1624.9,1164.1Z" fill="#502120" stroke="#502120" stroke-width="0.9"/>
<path d="M1663.6,1149.7L1701.0,1138.4L1700.9,1142.3L1663.6,1153.7Z" fill="#4E201F" stroke="#4E201F" stroke-width="0.9"/>
<path d="M1701.0,1138.4L1736.9,1126.3L1736.9,1130.2L1700.9,1142.3Z" fill="#4E201F" stroke="#4E201F" stroke-width="0.9"/>
<path d="M1736.9,1126.3L1771.4,1113.4L1771.3,1117.3L1736.9,1130.2Z" fill="#4E201F" stroke="#4E201F" stroke-width="0.9"/>
<path d="M1771.4,1113.4L1804.3,1099.8L1804.2,1103.7L1771.3,1117.3Z" fill="#4E201F" stroke="#4E201F" stroke-width="0.9"/>
<path d="M1804.3,1099.8L1835.6,1085.6L1835.5,1089.5L1804.2,1103.7Z" fill="#4E201F" stroke="#4E201F" stroke-width="0.9"/>
<path d="M1835.6,1085.6L1865.3,1070.7L1865.2,1074.6L1835.5,1089.5Z" fill="#4E201F" stroke="#4E201F" stroke-width="0.9"/>
<path d="M1865.3,1070.7L1893.2,1055.3L1893.1,1059.1L1865.2,1074.6Z" fill="#4E201F" stroke="#4E201F" stroke-width="0.9"/>
<path d="M1893.2,1055.3L1919.3,1039.3L1919.2,1043.1L1893.1,1059.1Z" fill="#4E201F" stroke="#4E201F" stroke-width="0.9"/>
<path d="M1919.3,1039.3L1943.6,1022.9L1943.5,1026.7L1919.2,1043.1Z" fill="#4E201F" stroke="#4E201F" stroke-width="0.9"/>
<path d="M1943.6,1022.9L1966.1,1006.0L1966.0,1009.8L1943.5,1026.7Z" fill="#4E201F" stroke="#4E201F" stroke-width="0.9"/>
<path d="M1966.1,1006.0L1986.8,988.8L1986.7,992.6L1966.0,1009.8Z" fill="#4E201F" stroke="#4E201F" stroke-width="0.9"/>
<path d="M1986.8,988.8L2005.5,971.3L2005.4,975.0L1986.7,992.6Z" fill="#4E201F" stroke="#4E201F" stroke-width="0.9"/>
<path d="M2005.5,971.3L2022.4,953.5L2022.3,957.2L2005.4,975.0Z" fill="#4E201F" stroke="#4E201F" stroke-width="0.9"/>
<path d="M2022.4,953.5L2037.5,935.5L2037.3,939.2L2022.3,957.2Z" fill="#4E201F" stroke="#4E201F" stroke-width="0.9"/>
<path d="M2037.5,935.5L2050.6,917.3L2050.5,921.0L2037.3,939.2Z" fill="#4E201F" stroke="#4E201F" stroke-width="0.9"/>
<path d="M2050.6,917.3L2061.9,899.0L2061.8,902.6L2050.5,921.0Z" fill="#4E201F" stroke="#4E201F" stroke-width="0.9"/>
<path d="M2061.9,899.0L2071.3,880.6L2071.2,884.2L2061.8,902.6Z" fill="#4E201F" stroke="#4E201F" stroke-width="0.9"/>
<path d="M2071.3,880.6L2079.0,862.1L2078.8,865.7L2071.2,884.2Z" fill="#4E201F" stroke="#4E201F" stroke-width="0.9"/>
<path d="M2079.0,862.1L2084.8,843.7L2084.7,847.2L2078.8,865.7Z" fill="#4E201F" stroke="#4E201F" stroke-width="0.9"/>
<path d="M2084.8,843.7L2088.8,825.3L2088.7,828.8L2084.7,847.2Z" fill="#4E201F" stroke="#4E201F" stroke-width="0.9"/>
<path d="M2088.8,825.3L2091.1,806.9L2091.0,810.5L2088.7,828.8Z" fill="#4E201F" stroke="#4E201F" stroke-width="0.9"/>
<path d="M2091.1,806.9L2091.7,788.7L2091.6,792.2L2091.0,810.5Z" fill="#4E201F" stroke="#4E201F" stroke-width="0.9"/>
<path d="M1475.8,1190.2L1513.0,1184.1L1512.9,1188.2L1475.8,1194.3Z" fill="#4D5C2C" stroke="#4D5C2C" stroke-width="0.9"/>
<path d="M1513.0,1184.1L1549.4,1177.3L1549.4,1181.3L1512.9,1188.2Z" fill="#4A592B" stroke="#4A592B" stroke-width="0.9"/>
<path d="M1549.4,1177.3L1585.1,1169.7L1585.1,1173.7L1549.4,1181.3Z" fill="#475629" stroke="#475629" stroke-width="0.9"/>
<path d="M1015.4,1201.6L1057.0,1205.3L1057.0,1209.3L1015.4,1205.7Z" fill="#5A4770" stroke="#5A4770" stroke-width="0.9"/>
<path d="M1057.0,1205.3L1099.0,1208.0L1099.0,1212.1L1057.0,1209.3Z" fill="#58456D" stroke="#58456D" stroke-width="0.9"/>
<path d="M1099.0,1208.0L1141.3,1209.8L1141.3,1213.9L1099.0,1212.1Z" fill="#55426A" stroke="#55426A" stroke-width="0.9"/>
<path d="M1141.3,1209.8L1183.7,1210.7L1183.7,1214.7L1141.3,1213.9Z" fill="#534067" stroke="#534067" stroke-width="0.9"/>
<path d="M1183.7,1210.7L1226.2,1210.6L1226.2,1214.6L1183.7,1214.7Z" fill="#503E64" stroke="#503E64" stroke-width="0.9"/>
<path d="M1226.2,1210.6L1268.6,1209.5L1268.6,1213.6L1226.2,1214.6Z" fill="#4E3C61" stroke="#4E3C61" stroke-width="0.9"/>
<path d="M1268.6,1209.5L1310.8,1207.5L1310.8,1211.6L1268.6,1213.6Z" fill="#4B3A5E" stroke="#4B3A5E" stroke-width="0.9"/>
<path d="M1310.8,1207.5L1352.8,1204.6L1352.8,1208.6L1310.8,1211.6Z" fill="#49385B" stroke="#49385B" stroke-width="0.9"/>
<path d="M1352.8,1204.6L1394.3,1200.7L1394.3,1204.8L1352.8,1208.6Z" fill="#463658" stroke="#463658" stroke-width="0.9"/>
<path d="M1394.3,1200.7L1435.4,1195.9L1435.3,1200.0L1394.3,1204.8Z" fill="#443455" stroke="#443455" stroke-width="0.9"/>
<path d="M1435.4,1195.9L1475.8,1190.2L1475.8,1194.3L1435.3,1200.0Z" fill="#413252" stroke="#413252" stroke-width="0.9"/>
<path d="M910.6,1188.0L945.1,1193.2L945.1,1197.2L910.7,1192.0Z" fill="#B67237" stroke="#B67237" stroke-width="0.9"/>
<path d="M945.1,1193.2L980.0,1197.7L980.1,1201.8L945.1,1197.2Z" fill="#B37035" stroke="#B37035" stroke-width="0.9"/>
<path d="M980.0,1197.7L1015.4,1201.6L1015.4,1205.7L980.1,1201.8Z" fill="#AF6E34" stroke="#AF6E34" stroke-width="0.9"/>
<path d="M680.7,1132.0L716.1,1143.4L716.2,1147.4L680.7,1136.0Z" fill="#284365" stroke="#284365" stroke-width="0.9"/>
<path d="M716.1,1143.4L752.8,1154.0L752.9,1158.0L716.2,1147.4Z" fill="#284263" stroke="#284263" stroke-width="0.9"/>
<path d="M752.8,1154.0L790.7,1163.8L790.8,1167.8L752.9,1158.0Z" fill="#274162" stroke="#274162" stroke-width="0.9"/>
<path d="M790.7,1163.8L829.7,1172.7L829.8,1176.7L790.8,1167.8Z" fill="#264060" stroke="#264060" stroke-width="0.9"/>
<path d="M829.7,1172.7L869.7,1180.8L869.8,1184.8L829.8,1176.7Z" fill="#263E5E" stroke="#263E5E" stroke-width="0.9"/>
<path d="M869.7,1180.8L910.6,1188.0L910.7,1192.0L869.8,1184.8Z" fill="#253D5C" stroke="#253D5C" stroke-width="0.9"/>
<path d="M517.2,1060.6L541.4,1073.7L541.5,1077.5L517.2,1064.4Z" fill="#6A2727" stroke="#6A2727" stroke-width="0.9"/>
<path d="M541.4,1073.7L566.9,1086.3L567.0,1090.2L541.5,1077.5Z" fill="#6A2727" stroke="#6A2727" stroke-width="0.9"/>
<path d="M566.9,1086.3L593.6,1098.5L593.7,1102.4L567.0,1090.2Z" fill="#692727" stroke="#692727" stroke-width="0.9"/>
<path d="M593.6,1098.5L621.5,1110.2L621.6,1114.1L593.7,1102.4Z" fill="#682727" stroke="#682727" stroke-width="0.9"/>
<path d="M621.5,1110.2L650.5,1121.4L650.6,1125.3L621.6,1114.1Z" fill="#672727" stroke="#672727" stroke-width="0.9"/>
<path d="M650.5,1121.4L680.7,1132.0L680.7,1136.0L650.6,1125.3Z" fill="#662727" stroke="#662727" stroke-width="0.9"/>
<path d="M415.5,990.0L433.2,1004.7L433.3,1008.5L415.6,993.7Z" fill="#576A2B" stroke="#576A2B" stroke-width="0.9"/>
<path d="M433.2,1004.7L452.2,1019.1L452.3,1022.9L433.3,1008.5Z" fill="#566A2B" stroke="#566A2B" stroke-width="0.9"/>
<path d="M452.2,1019.1L472.5,1033.3L472.6,1037.1L452.3,1022.9Z" fill="#566A2C" stroke="#566A2C" stroke-width="0.9"/>
<path d="M472.5,1033.3L494.2,1047.1L494.3,1051.0L472.6,1037.1Z" fill="#56692C" stroke="#56692C" stroke-width="0.9"/>
<path d="M494.2,1047.1L517.2,1060.6L517.2,1064.4L494.3,1051.0Z" fill="#56692C" stroke="#56692C" stroke-width="0.9"/>
<path d="M311.2,819.0L314.4,836.3L314.5,839.9L311.3,822.6Z" fill="#46355A" stroke="#46355A" stroke-width="0.9"/>
<path d="M314.4,836.3L319.2,853.7L319.3,857.2L314.5,839.9Z" fill="#46355A" stroke="#46355A" stroke-width="0.9"/>
<path d="M319.2,853.7L325.5,871.0L325.6,874.6L319.3,857.2Z" fill="#46365A" stroke="#46365A" stroke-width="0.9"/>
<path d="M325.5,871.0L333.4,888.4L333.5,892.0L325.6,874.6Z" fill="#46365A" stroke="#46365A" stroke-width="0.9"/>
<path d="M333.4,888.4L343.0,905.6L343.1,909.3L333.5,892.0Z" fill="#46365A" stroke="#46365A" stroke-width="0.9"/>
<path d="M343.0,905.6L354.2,922.8L354.3,926.5L343.1,909.3Z" fill="#46365A" stroke="#46365A" stroke-width="0.9"/>
<path d="M354.2,922.8L367.0,939.9L367.1,943.6L354.3,926.5Z" fill="#46355A" stroke="#46355A" stroke-width="0.9"/>
<path d="M367.0,939.9L381.5,956.8L381.7,960.5L367.1,943.6Z" fill="#46355A" stroke="#46355A" stroke-width="0.9"/>
<path d="M381.5,956.8L397.7,973.5L397.8,977.2L381.7,960.5Z" fill="#46355A" stroke="#46355A" stroke-width="0.9"/>
<path d="M397.7,973.5L415.5,990.0L415.6,993.7L397.8,977.2Z" fill="#46355A" stroke="#46355A" stroke-width="0.9"/>
<path d="M309.9,806.9L311.2,819.0L311.3,822.6L310.0,810.4Z" fill="#235F6F" stroke="#235F6F" stroke-width="0.9"/>
<path d="M310.8,766.4L309.7,784.8L309.3,788.3L310.4,769.9Z" fill="#7397CB" stroke="#7397CB" stroke-width="0.9"/>
<path d="M309.7,784.8L310.3,803.4L309.9,806.9L309.3,788.3Z" fill="#7498CC" stroke="#7498CC" stroke-width="0.9"/>
<path d="M1584.9,1165.4L1624.7,1155.9L1625.0,1160.1L1585.1,1169.7Z" fill="#682B2A" stroke="#682B2A" stroke-width="0.9"/>
<path d="M1624.7,1155.9L1663.4,1145.5L1663.6,1149.7L1625.0,1160.1Z" fill="#642A28" stroke="#642A28" stroke-width="0.9"/>
<path d="M1663.4,1145.5L1700.7,1134.2L1701.0,1138.4L1663.6,1149.7Z" fill="#612827" stroke="#612827" stroke-width="0.9"/>
<path d="M1700.7,1134.2L1736.6,1122.1L1736.9,1126.3L1701.0,1138.4Z" fill="#5D2725" stroke="#5D2725" stroke-width="0.9"/>
<path d="M1736.6,1122.1L1771.1,1109.3L1771.4,1113.4L1736.9,1126.3Z" fill="#592524" stroke="#592524" stroke-width="0.9"/>
<path d="M1771.1,1109.3L1804.0,1095.7L1804.3,1099.8L1771.4,1113.4Z" fill="#562422" stroke="#562422" stroke-width="0.9"/>
<path d="M1804.0,1095.7L1835.3,1081.5L1835.6,1085.6L1804.3,1099.8Z" fill="#522221" stroke="#522221" stroke-width="0.9"/>
<path d="M1835.3,1081.5L1864.9,1066.7L1865.3,1070.7L1835.6,1085.6Z" fill="#4F2120" stroke="#4F2120" stroke-width="0.9"/>
<path d="M1864.9,1066.7L1892.8,1051.3L1893.2,1055.3L1865.3,1070.7Z" fill="#4E201F" stroke="#4E201F" stroke-width="0.9"/>
<path d="M1892.8,1051.3L1918.9,1035.3L1919.3,1039.3L1893.2,1055.3Z" fill="#4E201F" stroke="#4E201F" stroke-width="0.9"/>
<path d="M1918.9,1035.3L1943.2,1018.9L1943.6,1022.9L1919.3,1039.3Z" fill="#4E201F" stroke="#4E201F" stroke-width="0.9"/>
<path d="M1943.2,1018.9L1965.7,1002.1L1966.1,1006.0L1943.6,1022.9Z" fill="#4E201F" stroke="#4E201F" stroke-width="0.9"/>
<path d="M1965.7,1002.1L1986.4,985.0L1986.8,988.8L1966.1,1006.0Z" fill="#4E201F" stroke="#4E201F" stroke-width="0.9"/>
<path d="M1986.4,985.0L2005.1,967.5L2005.5,971.3L1986.8,988.8Z" fill="#4E201F" stroke="#4E201F" stroke-width="0.9"/>
<path d="M2005.1,967.5L2022.0,949.7L2022.4,953.5L2005.5,971.3Z" fill="#4E201F" stroke="#4E201F" stroke-width="0.9"/>
<path d="M2022.0,949.7L2037.0,931.7L2037.5,935.5L2022.4,953.5Z" fill="#4E201F" stroke="#4E201F" stroke-width="0.9"/>
<path d="M2037.0,931.7L2050.2,913.6L2050.6,917.3L2037.5,935.5Z" fill="#4E201F" stroke="#4E201F" stroke-width="0.9"/>
<path d="M2050.2,913.6L2061.5,895.3L2061.9,899.0L2050.6,917.3Z" fill="#4E201F" stroke="#4E201F" stroke-width="0.9"/>
<path d="M2061.5,895.3L2070.9,876.9L2071.3,880.6L2061.9,899.0Z" fill="#4E201F" stroke="#4E201F" stroke-width="0.9"/>
<path d="M2070.9,876.9L2078.5,858.5L2079.0,862.1L2071.3,880.6Z" fill="#4E201F" stroke="#4E201F" stroke-width="0.9"/>
<path d="M2078.5,858.5L2084.3,840.1L2084.8,843.7L2079.0,862.1Z" fill="#4E201F" stroke="#4E201F" stroke-width="0.9"/>
<path d="M2084.3,840.1L2088.4,821.7L2088.8,825.3L2084.8,843.7Z" fill="#4E201F" stroke="#4E201F" stroke-width="0.9"/>
<path d="M2088.4,821.7L2090.7,803.4L2091.1,806.9L2088.8,825.3Z" fill="#4E201F" stroke="#4E201F" stroke-width="0.9"/>
<path d="M2090.7,803.4L2091.3,785.3L2091.7,788.7L2091.1,806.9Z" fill="#4E201F" stroke="#4E201F" stroke-width="0.9"/>
<path d="M2091.3,785.3L2090.2,767.2L2090.7,770.7L2091.7,788.7Z" fill="#4E201F" stroke="#4E201F" stroke-width="0.9"/>
<path d="M1475.7,1186.0L1512.8,1179.9L1513.0,1184.1L1475.8,1190.2Z" fill="#5D7036" stroke="#5D7036" stroke-width="0.9"/>
<path d="M1512.8,1179.9L1549.2,1173.0L1549.4,1177.3L1513.0,1184.1Z" fill="#5B6D34" stroke="#5B6D34" stroke-width="0.9"/>
<path d="M1549.2,1173.0L1584.9,1165.4L1585.1,1169.7L1549.4,1177.3Z" fill="#586933" stroke="#586933" stroke-width="0.9"/>
<path d="M1015.5,1197.3L1057.1,1201.0L1057.0,1205.3L1015.4,1201.6Z" fill="#6F5988" stroke="#6F5988" stroke-width="0.9"/>
<path d="M1057.1,1201.0L1099.1,1203.7L1099.0,1208.0L1057.0,1205.3Z" fill="#6C5685" stroke="#6C5685" stroke-width="0.9"/>
<path d="M1099.1,1203.7L1141.3,1205.5L1141.3,1209.8L1099.0,1208.0Z" fill="#695381" stroke="#695381" stroke-width="0.9"/>
<path d="M1141.3,1205.5L1183.7,1206.4L1183.7,1210.7L1141.3,1209.8Z" fill="#65507D" stroke="#65507D" stroke-width="0.9"/>
<path d="M1183.7,1206.4L1226.2,1206.3L1226.2,1210.6L1183.7,1210.7Z" fill="#624D79" stroke="#624D79" stroke-width="0.9"/>
<path d="M1226.2,1206.3L1268.6,1205.2L1268.6,1209.5L1226.2,1210.6Z" fill="#5E4A75" stroke="#5E4A75" stroke-width="0.9"/>
<path d="M1268.6,1205.2L1310.8,1203.2L1310.8,1207.5L1268.6,1209.5Z" fill="#5B4771" stroke="#5B4771" stroke-width="0.9"/>
<path d="M1310.8,1203.2L1352.7,1200.3L1352.8,1204.6L1310.8,1207.5Z" fill="#58456D" stroke="#58456D" stroke-width="0.9"/>
<path d="M1352.7,1200.3L1394.2,1196.4L1394.3,1200.7L1352.8,1204.6Z" fill="#55426A" stroke="#55426A" stroke-width="0.9"/>
<path d="M1394.2,1196.4L1435.2,1191.6L1435.4,1195.9L1394.3,1200.7Z" fill="#524066" stroke="#524066" stroke-width="0.9"/>
<path d="M1435.2,1191.6L1475.7,1186.0L1475.8,1190.2L1435.4,1195.9Z" fill="#4F3E63" stroke="#4F3E63" stroke-width="0.9"/>
<path d="M910.8,1183.7L945.2,1188.9L945.1,1193.2L910.6,1188.0Z" fill="#D98C48" stroke="#D98C48" stroke-width="0.9"/>
<path d="M945.2,1188.9L980.2,1193.4L980.0,1197.7L945.1,1193.2Z" fill="#D58946" stroke="#D58946" stroke-width="0.9"/>
<path d="M980.2,1193.4L1015.5,1197.3L1015.4,1201.6L980.0,1197.7Z" fill="#D08644" stroke="#D08644" stroke-width="0.9"/>
<path d="M680.9,1127.9L716.4,1139.2L716.1,1143.4L680.7,1132.0Z" fill="#38567C" stroke="#38567C" stroke-width="0.9"/>
<path d="M716.4,1139.2L753.1,1149.8L752.8,1154.0L716.1,1143.4Z" fill="#38557B" stroke="#38557B" stroke-width="0.9"/>
<path d="M753.1,1149.8L790.9,1159.6L790.7,1163.8L752.8,1154.0Z" fill="#385479" stroke="#385479" stroke-width="0.9"/>
<path d="M790.9,1159.6L829.9,1168.5L829.7,1172.7L790.7,1163.8Z" fill="#375378" stroke="#375378" stroke-width="0.9"/>
<path d="M829.9,1168.5L869.9,1176.5L869.7,1180.8L829.7,1172.7Z" fill="#365275" stroke="#365275" stroke-width="0.9"/>
<path d="M869.9,1176.5L910.8,1183.7L910.6,1188.0L869.7,1180.8Z" fill="#345073" stroke="#345073" stroke-width="0.9"/>
<path d="M517.5,1056.6L541.7,1069.6L541.4,1073.7L517.2,1060.6Z" fill="#7D3333" stroke="#7D3333" stroke-width="0.9"/>
<path d="M541.7,1069.6L567.2,1082.2L566.9,1086.3L541.4,1073.7Z" fill="#7D3434" stroke="#7D3434" stroke-width="0.9"/>
<path d="M567.2,1082.2L593.9,1094.4L593.6,1098.5L566.9,1086.3Z" fill="#7D3535" stroke="#7D3535" stroke-width="0.9"/>
<path d="M593.9,1094.4L621.8,1106.1L621.5,1110.2L593.6,1098.5Z" fill="#7D3636" stroke="#7D3636" stroke-width="0.9"/>
<path d="M621.8,1106.1L650.8,1117.2L650.5,1121.4L621.5,1110.2Z" fill="#7D3636" stroke="#7D3636" stroke-width="0.9"/>
<path d="M650.8,1117.2L680.9,1127.9L680.7,1132.0L650.5,1121.4Z" fill="#7D3737" stroke="#7D3737" stroke-width="0.9"/>
<path d="M415.9,986.1L433.6,1000.8L433.2,1004.7L415.5,990.0Z" fill="#637833" stroke="#637833" stroke-width="0.9"/>
<path d="M433.6,1000.8L452.6,1015.2L452.2,1019.1L433.2,1004.7Z" fill="#637934" stroke="#637934" stroke-width="0.9"/>
<path d="M452.6,1015.2L472.9,1029.3L472.5,1033.3L452.2,1019.1Z" fill="#647935" stroke="#647935" stroke-width="0.9"/>
<path d="M472.9,1029.3L494.5,1043.1L494.2,1047.1L472.5,1033.3Z" fill="#647A36" stroke="#647A36" stroke-width="0.9"/>
<path d="M494.5,1043.1L517.5,1056.6L517.2,1060.6L494.2,1047.1Z" fill="#657A37" stroke="#657A37" stroke-width="0.9"/>
<path d="M311.6,815.5L314.8,832.8L314.4,836.3L311.2,819.0Z" fill="#4D3B63" stroke="#4D3B63" stroke-width="0.9"/>
<path d="M314.8,832.8L319.6,850.1L319.2,853.7L314.4,836.3Z" fill="#4D3B63" stroke="#4D3B63" stroke-width="0.9"/>
<path d="M319.6,850.1L325.9,867.4L325.5,871.0L319.2,853.7Z" fill="#4D3B63" stroke="#4D3B63" stroke-width="0.9"/>
<path d="M325.9,867.4L333.9,884.7L333.4,888.4L325.5,871.0Z" fill="#4D3B64" stroke="#4D3B64" stroke-width="0.9"/>
<path d="M333.9,884.7L343.4,901.9L343.0,905.6L333.4,888.4Z" fill="#4E3B64" stroke="#4E3B64" stroke-width="0.9"/>
<path d="M343.4,901.9L354.6,919.1L354.2,922.8L343.0,905.6Z" fill="#4E3C64" stroke="#4E3C64" stroke-width="0.9"/>
<path d="M354.6,919.1L367.5,936.1L367.0,939.9L354.2,922.8Z" fill="#4E3C64" stroke="#4E3C64" stroke-width="0.9"/>
<path d="M367.5,936.1L382.0,953.0L381.5,956.8L367.0,939.9Z" fill="#4E3C64" stroke="#4E3C64" stroke-width="0.9"/>
<path d="M382.0,953.0L398.1,969.7L397.7,973.5L381.5,956.8Z" fill="#4F3D65" stroke="#4F3D65" stroke-width="0.9"/>
<path d="M398.1,969.7L415.9,986.1L415.5,990.0L397.7,973.5Z" fill="#4F3D65" stroke="#4F3D65" stroke-width="0.9"/>
<path d="M310.3,803.4L311.6,815.5L311.2,819.0L309.9,806.9Z" fill="#26687A" stroke="#26687A" stroke-width="0.9"/>
<path d="M319.1,727.0L314.6,744.9L313.7,748.2L318.1,730.2Z" fill="#7AA0D7" stroke="#7AA0D7" stroke-width="0.9"/>
<path d="M314.6,744.9L311.8,763.1L310.8,766.4L313.7,748.2Z" fill="#7BA1D8" stroke="#7BA1D8" stroke-width="0.9"/>
<path d="M311.8,763.1L310.6,781.4L309.7,784.8L310.8,766.4Z" fill="#7BA2D9" stroke="#7BA2D9" stroke-width="0.9"/>
<path d="M310.6,781.4L311.2,799.9L310.3,803.4L309.7,784.8Z" fill="#7CA2DA" stroke="#7CA2DA" stroke-width="0.9"/>
<path d="M1584.4,1161.0L1624.2,1151.5L1624.7,1155.9L1584.9,1165.4Z" fill="#7B3432" stroke="#7B3432" stroke-width="0.9"/>
<path d="M1624.2,1151.5L1662.8,1141.1L1663.4,1145.5L1624.7,1155.9Z" fill="#773230" stroke="#773230" stroke-width="0.9"/>
<path d="M1662.8,1141.1L1700.1,1129.9L1700.7,1134.2L1663.4,1145.5Z" fill="#74302F" stroke="#74302F" stroke-width="0.9"/>
<path d="M1700.1,1129.9L1736.0,1117.8L1736.6,1122.1L1700.7,1134.2Z" fill="#702F2D" stroke="#702F2D" stroke-width="0.9"/>
<path d="M1736.0,1117.8L1770.4,1105.0L1771.1,1109.3L1736.6,1122.1Z" fill="#6D2D2C" stroke="#6D2D2C" stroke-width="0.9"/>
<path d="M1770.4,1105.0L1803.3,1091.5L1804.0,1095.7L1771.1,1109.3Z" fill="#692C2A" stroke="#692C2A" stroke-width="0.9"/>
<path d="M1803.3,1091.5L1834.5,1077.3L1835.3,1081.5L1804.0,1095.7Z" fill="#662A29" stroke="#662A29" stroke-width="0.9"/>
<path d="M1834.5,1077.3L1864.1,1062.5L1864.9,1066.7L1835.3,1081.5Z" fill="#632928" stroke="#632928" stroke-width="0.9"/>
<path d="M1864.1,1062.5L1892.0,1047.2L1892.8,1051.3L1864.9,1066.7Z" fill="#602826" stroke="#602826" stroke-width="0.9"/>
<path d="M1892.0,1047.2L1918.1,1031.3L1918.9,1035.3L1892.8,1051.3Z" fill="#5C2625" stroke="#5C2625" stroke-width="0.9"/>
<path d="M1918.1,1031.3L1942.4,1014.9L1943.2,1018.9L1918.9,1035.3Z" fill="#592524" stroke="#592524" stroke-width="0.9"/>
<path d="M1942.4,1014.9L1964.8,998.2L1965.7,1002.1L1943.2,1018.9Z" fill="#562423" stroke="#562423" stroke-width="0.9"/>
<path d="M1964.8,998.2L1985.5,981.0L1986.4,985.0L1965.7,1002.1Z" fill="#542321" stroke="#542321" stroke-width="0.9"/>
<path d="M1985.5,981.0L2004.2,963.6L2005.1,967.5L1986.4,985.0Z" fill="#512220" stroke="#512220" stroke-width="0.9"/>
<path d="M2004.2,963.6L2021.1,945.9L2022.0,949.7L2005.1,967.5Z" fill="#4E201F" stroke="#4E201F" stroke-width="0.9"/>
<path d="M2021.1,945.9L2036.1,928.0L2037.0,931.7L2022.0,949.7Z" fill="#4E201F" stroke="#4E201F" stroke-width="0.9"/>
<path d="M2036.1,928.0L2049.2,909.8L2050.2,913.6L2037.0,931.7Z" fill="#4E201F" stroke="#4E201F" stroke-width="0.9"/>
<path d="M2049.2,909.8L2060.5,891.6L2061.5,895.3L2050.2,913.6Z" fill="#4E201F" stroke="#4E201F" stroke-width="0.9"/>
<path d="M2060.5,891.6L2070.0,873.3L2070.9,876.9L2061.5,895.3Z" fill="#4E201F" stroke="#4E201F" stroke-width="0.9"/>
<path d="M2070.0,873.3L2077.6,854.9L2078.5,858.5L2070.9,876.9Z" fill="#4E201F" stroke="#4E201F" stroke-width="0.9"/>
<path d="M2077.6,854.9L2083.4,836.6L2084.3,840.1L2078.5,858.5Z" fill="#4E201F" stroke="#4E201F" stroke-width="0.9"/>
<path d="M2083.4,836.6L2087.4,818.2L2088.4,821.7L2084.3,840.1Z" fill="#4E201F" stroke="#4E201F" stroke-width="0.9"/>
<path d="M2087.4,818.2L2089.8,800.0L2090.7,803.4L2088.4,821.7Z" fill="#4E201F" stroke="#4E201F" stroke-width="0.9"/>
<path d="M2089.8,800.0L2090.4,781.9L2091.3,785.3L2090.7,803.4Z" fill="#4E201F" stroke="#4E201F" stroke-width="0.9"/>
<path d="M2090.4,781.9L2089.3,763.9L2090.2,767.2L2091.3,785.3Z" fill="#4E201F" stroke="#4E201F" stroke-width="0.9"/>
<path d="M2089.3,763.9L2086.6,746.0L2087.6,749.3L2090.2,767.2Z" fill="#4E201F" stroke="#4E201F" stroke-width="0.9"/>
<path d="M2086.6,746.0L2082.4,728.4L2083.3,731.7L2087.6,749.3Z" fill="#4E201F" stroke="#4E201F" stroke-width="0.9"/>
<path d="M1475.3,1181.5L1512.4,1175.4L1512.8,1179.9L1475.7,1186.0Z" fill="#6E8340" stroke="#6E8340" stroke-width="0.9"/>
<path d="M1512.4,1175.4L1548.8,1168.6L1549.2,1173.0L1512.8,1179.9Z" fill="#6B803E" stroke="#6B803E" stroke-width="0.9"/>
<path d="M1548.8,1168.6L1584.4,1161.0L1584.9,1165.4L1549.2,1173.0Z" fill="#687C3C" stroke="#687C3C" stroke-width="0.9"/>
<path d="M1015.7,1192.8L1057.3,1196.5L1057.1,1201.0L1015.5,1197.3Z" fill="#886FA3" stroke="#886FA3" stroke-width="0.9"/>
<path d="M1057.3,1196.5L1099.2,1199.2L1099.1,1203.7L1057.1,1201.0Z" fill="#836B9E" stroke="#836B9E" stroke-width="0.9"/>
<path d="M1099.2,1199.2L1141.4,1201.0L1141.3,1205.5L1099.1,1203.7Z" fill="#7E6699" stroke="#7E6699" stroke-width="0.9"/>
<path d="M1141.4,1201.0L1183.8,1201.8L1183.7,1206.4L1141.3,1205.5Z" fill="#7A6294" stroke="#7A6294" stroke-width="0.9"/>
<path d="M1183.8,1201.8L1226.2,1201.7L1226.2,1206.3L1183.7,1206.4Z" fill="#755E8F" stroke="#755E8F" stroke-width="0.9"/>
<path d="M1226.2,1201.7L1268.5,1200.7L1268.6,1205.2L1226.2,1206.3Z" fill="#715A8A" stroke="#715A8A" stroke-width="0.9"/>
<path d="M1268.5,1200.7L1310.6,1198.7L1310.8,1203.2L1268.6,1205.2Z" fill="#6C5685" stroke="#6C5685" stroke-width="0.9"/>
<path d="M1310.6,1198.7L1352.5,1195.8L1352.7,1200.3L1310.8,1203.2Z" fill="#685280" stroke="#685280" stroke-width="0.9"/>
<path d="M1352.5,1195.8L1394.0,1191.9L1394.2,1196.4L1352.7,1200.3Z" fill="#654F7C" stroke="#654F7C" stroke-width="0.9"/>
<path d="M1394.0,1191.9L1434.9,1187.1L1435.2,1191.6L1394.2,1196.4Z" fill="#614C78" stroke="#614C78" stroke-width="0.9"/>
<path d="M1434.9,1187.1L1475.3,1181.5L1475.7,1186.0L1435.2,1191.6Z" fill="#5E4974" stroke="#5E4974" stroke-width="0.9"/>
<path d="M911.2,1179.2L945.5,1184.4L945.2,1188.9L910.8,1183.7Z" fill="#FDA85E" stroke="#FDA85E" stroke-width="0.9"/>
<path d="M945.5,1184.4L980.4,1188.9L980.2,1193.4L945.2,1188.9Z" fill="#F8A55C" stroke="#F8A55C" stroke-width="0.9"/>
<path d="M980.4,1188.9L1015.7,1192.8L1015.5,1197.3L980.2,1193.4Z" fill="#F3A159" stroke="#F3A159" stroke-width="0.9"/>
<path d="M681.6,1123.5L717.0,1134.9L716.4,1139.2L680.9,1127.9Z" fill="#4D6D96" stroke="#4D6D96" stroke-width="0.9"/>
<path d="M717.0,1134.9L753.6,1145.4L753.1,1149.8L716.4,1139.2Z" fill="#4E6D96" stroke="#4E6D96" stroke-width="0.9"/>
<path d="M753.6,1145.4L791.4,1155.2L790.9,1159.6L753.1,1149.8Z" fill="#4D6D95" stroke="#4D6D95" stroke-width="0.9"/>
<path d="M791.4,1155.2L830.4,1164.1L829.9,1168.5L790.9,1159.6Z" fill="#4D6C93" stroke="#4D6C93" stroke-width="0.9"/>
<path d="M830.4,1164.1L870.3,1172.1L869.9,1176.5L829.9,1168.5Z" fill="#4B6A91" stroke="#4B6A91" stroke-width="0.9"/>
<path d="M870.3,1172.1L911.2,1179.2L910.8,1183.7L869.9,1176.5Z" fill="#49678E" stroke="#49678E" stroke-width="0.9"/>
<path d="M518.3,1052.5L542.5,1065.5L541.7,1069.6L517.5,1056.6Z" fill="#914242" stroke="#914242" stroke-width="0.9"/>
<path d="M542.5,1065.5L568.0,1078.0L567.2,1082.2L541.7,1069.6Z" fill="#934545" stroke="#934545" stroke-width="0.9"/>
<path d="M568.0,1078.0L594.6,1090.2L593.9,1094.4L567.2,1082.2Z" fill="#954747" stroke="#954747" stroke-width="0.9"/>
<path d="M594.6,1090.2L622.5,1101.8L621.8,1106.1L593.9,1094.4Z" fill="#964848" stroke="#964848" stroke-width="0.9"/>
<path d="M622.5,1101.8L651.5,1113.0L650.8,1117.2L621.8,1106.1Z" fill="#974A4A" stroke="#974A4A" stroke-width="0.9"/>
<path d="M651.5,1113.0L681.6,1123.5L680.9,1127.9L650.8,1117.2Z" fill="#974B4B" stroke="#974B4B" stroke-width="0.9"/>
<path d="M416.8,982.2L434.5,996.8L433.6,1000.8L415.9,986.1Z" fill="#70873D" stroke="#70873D" stroke-width="0.9"/>
<path d="M434.5,996.8L453.4,1011.2L452.6,1015.2L433.6,1000.8Z" fill="#71893F" stroke="#71893F" stroke-width="0.9"/>
<path d="M453.4,1011.2L473.7,1025.3L472.9,1029.3L452.6,1015.2Z" fill="#738A41" stroke="#738A41" stroke-width="0.9"/>
<path d="M473.7,1025.3L495.4,1039.1L494.5,1043.1L472.9,1029.3Z" fill="#758C43" stroke="#758C43" stroke-width="0.9"/>
<path d="M495.4,1039.1L518.3,1052.5L517.5,1056.6L494.5,1043.1Z" fill="#778E45" stroke="#778E45" stroke-width="0.9"/>
<path d="M312.6,812.0L315.8,829.2L314.8,832.8L311.6,815.5Z" fill="#523F6A" stroke="#523F6A" stroke-width="0.9"/>
<path d="M315.8,829.2L320.5,846.5L319.6,850.1L314.8,832.8Z" fill="#533F6A" stroke="#533F6A" stroke-width="0.9"/>
<path d="M320.5,846.5L326.9,863.8L325.9,867.4L319.6,850.1Z" fill="#53406B" stroke="#53406B" stroke-width="0.9"/>
<path d="M326.9,863.8L334.8,881.0L333.9,884.7L325.9,867.4Z" fill="#54406B" stroke="#54406B" stroke-width="0.9"/>
<path d="M334.8,881.0L344.4,898.2L343.4,901.9L333.9,884.7Z" fill="#54416C" stroke="#54416C" stroke-width="0.9"/>
<path d="M344.4,898.2L355.6,915.4L354.6,919.1L343.4,901.9Z" fill="#55426D" stroke="#55426D" stroke-width="0.9"/>
<path d="M355.6,915.4L368.4,932.3L367.5,936.1L354.6,919.1Z" fill="#56436E" stroke="#56436E" stroke-width="0.9"/>
<path d="M368.4,932.3L382.9,949.2L382.0,953.0L367.5,936.1Z" fill="#57446F" stroke="#57446F" stroke-width="0.9"/>
<path d="M382.9,949.2L399.0,965.8L398.1,969.7L382.0,953.0Z" fill="#584570" stroke="#584570" stroke-width="0.9"/>
<path d="M399.0,965.8L416.8,982.2L415.9,986.1L398.1,969.7Z" fill="#5A4771" stroke="#5A4771" stroke-width="0.9"/>
<path d="M311.2,799.9L312.6,812.0L311.6,815.5L310.3,803.4Z" fill="#296F82" stroke="#296F82" stroke-width="0.9"/>
<path d="M334.1,688.9L326.5,706.2L325.1,709.3L332.7,691.9Z" fill="#7EA6DF" stroke="#7EA6DF" stroke-width="0.9"/>
<path d="M326.5,706.2L320.5,723.9L319.1,727.0L325.1,709.3Z" fill="#7FA7E0" stroke="#7FA7E0" stroke-width="0.9"/>
<path d="M320.5,723.9L316.0,741.8L314.6,744.9L319.1,727.0Z" fill="#80A7E1" stroke="#80A7E1" stroke-width="0.9"/>
<path d="M316.0,741.8L313.2,759.9L311.8,763.1L314.6,744.9Z" fill="#80A8E2" stroke="#80A8E2" stroke-width="0.9"/>
<path d="M313.2,759.9L312.1,778.2L310.6,781.4L311.8,763.1Z" fill="#81A9E3" stroke="#81A9E3" stroke-width="0.9"/>
<path d="M312.1,778.2L312.7,796.6L311.2,799.9L310.6,781.4Z" fill="#81AAE4" stroke="#81AAE4" stroke-width="0.9"/>
<path d="M1583.7,1156.5L1623.4,1147.0L1624.2,1151.5L1584.4,1161.0Z" fill="#8D3C3A" stroke="#8D3C3A" stroke-width="0.9"/>
<path d="M1623.4,1147.0L1661.9,1136.7L1662.8,1141.1L1624.2,1151.5Z" fill="#893A38" stroke="#893A38" stroke-width="0.9"/>
<path d="M1661.9,1136.7L1699.2,1125.5L1700.1,1129.9L1662.8,1141.1Z" fill="#853836" stroke="#853836" stroke-width="0.9"/>
<path d="M1699.2,1125.5L1735.0,1113.5L1736.0,1117.8L1700.1,1129.9Z" fill="#823634" stroke="#823634" stroke-width="0.9"/>
<path d="M1735.0,1113.5L1769.4,1100.7L1770.4,1105.0L1736.0,1117.8Z" fill="#7E3533" stroke="#7E3533" stroke-width="0.9"/>
<path d="M1769.4,1100.7L1802.2,1087.2L1803.3,1091.5L1770.4,1105.0Z" fill="#7B3331" stroke="#7B3331" stroke-width="0.9"/>
<path d="M1802.2,1087.2L1833.4,1073.1L1834.5,1077.3L1803.3,1091.5Z" fill="#783230" stroke="#783230" stroke-width="0.9"/>
<path d="M1833.4,1073.1L1862.9,1058.4L1864.1,1062.5L1834.5,1077.3Z" fill="#75312F" stroke="#75312F" stroke-width="0.9"/>
<path d="M1862.9,1058.4L1890.7,1043.0L1892.0,1047.2L1864.1,1062.5Z" fill="#72302E" stroke="#72302E" stroke-width="0.9"/>
<path d="M1890.7,1043.0L1916.8,1027.2L1918.1,1031.3L1892.0,1047.2Z" fill="#6F2E2D" stroke="#6F2E2D" stroke-width="0.9"/>
<path d="M1916.8,1027.2L1941.0,1010.9L1942.4,1014.9L1918.1,1031.3Z" fill="#6D2D2B" stroke="#6D2D2B" stroke-width="0.9"/>
<path d="M1941.0,1010.9L1963.5,994.2L1964.8,998.2L1942.4,1014.9Z" fill="#6A2C2A" stroke="#6A2C2A" stroke-width="0.9"/>
<path d="M1963.5,994.2L1984.1,977.1L1985.5,981.0L1964.8,998.2Z" fill="#672B29" stroke="#672B29" stroke-width="0.9"/>
<path d="M1984.1,977.1L2002.8,959.8L2004.2,963.6L1985.5,981.0Z" fill="#652A28" stroke="#652A28" stroke-width="0.9"/>
<path d="M2002.8,959.8L2019.7,942.1L2021.1,945.9L2004.2,963.6Z" fill="#622927" stroke="#622927" stroke-width="0.9"/>
<path d="M2019.7,942.1L2034.6,924.2L2036.1,928.0L2021.1,945.9Z" fill="#602826" stroke="#602826" stroke-width="0.9"/>
<path d="M2034.6,924.2L2047.8,906.2L2049.2,909.8L2036.1,928.0Z" fill="#5D2725" stroke="#5D2725" stroke-width="0.9"/>
<path d="M2047.8,906.2L2059.0,888.0L2060.5,891.6L2049.2,909.8Z" fill="#5B2624" stroke="#5B2624" stroke-width="0.9"/>
<path d="M2059.0,888.0L2068.5,869.7L2070.0,873.3L2060.5,891.6Z" fill="#592524" stroke="#592524" stroke-width="0.9"/>
<path d="M2068.5,869.7L2076.1,851.4L2077.6,854.9L2070.0,873.3Z" fill="#572423" stroke="#572423" stroke-width="0.9"/>
<path d="M2076.1,851.4L2081.9,833.1L2083.4,836.6L2077.6,854.9Z" fill="#552322" stroke="#552322" stroke-width="0.9"/>
<path d="M2081.9,833.1L2086.0,814.9L2087.4,818.2L2083.4,836.6Z" fill="#532321" stroke="#532321" stroke-width="0.9"/>
<path d="M2086.0,814.9L2088.3,796.7L2089.8,800.0L2087.4,818.2Z" fill="#512221" stroke="#512221" stroke-width="0.9"/>
<path d="M2088.3,796.7L2088.9,778.6L2090.4,781.9L2089.8,800.0Z" fill="#502120" stroke="#502120" stroke-width="0.9"/>
<path d="M2088.9,778.6L2087.9,760.6L2089.3,763.9L2090.4,781.9Z" fill="#4E201F" stroke="#4E201F" stroke-width="0.9"/>
<path d="M2087.9,760.6L2085.2,742.9L2086.6,746.0L2089.3,763.9Z" fill="#4E201F" stroke="#4E201F" stroke-width="0.9"/>
<path d="M2085.2,742.9L2081.0,725.3L2082.4,728.4L2086.6,746.0Z" fill="#4E201F" stroke="#4E201F" stroke-width="0.9"/>
<path d="M2081.0,725.3L2075.2,708.0L2076.6,711.0L2082.4,728.4Z" fill="#4E201F" stroke="#4E201F" stroke-width="0.9"/>
<path d="M2075.2,708.0L2067.9,690.9L2069.3,693.9L2076.6,711.0Z" fill="#4E201F" stroke="#4E201F" stroke-width="0.9"/>
<path d="M1474.8,1176.9L1511.8,1170.8L1512.4,1175.4L1475.3,1181.5Z" fill="#7D954A" stroke="#7D954A" stroke-width="0.9"/>
<path d="M1511.8,1170.8L1548.1,1164.0L1548.8,1168.6L1512.4,1175.4Z" fill="#7A9148" stroke="#7A9148" stroke-width="0.9"/>
<path d="M1548.1,1164.0L1583.7,1156.5L1584.4,1161.0L1548.8,1168.6Z" fill="#768D45" stroke="#768D45" stroke-width="0.9"/>
<path d="M1016.1,1188.2L1057.6,1191.8L1057.3,1196.5L1015.7,1192.8Z" fill="#9B80B8" stroke="#9B80B8" stroke-width="0.9"/>
<path d="M1057.6,1191.8L1099.4,1194.5L1099.2,1199.2L1057.3,1196.5Z" fill="#967BB3" stroke="#967BB3" stroke-width="0.9"/>
<path d="M1099.4,1194.5L1141.5,1196.3L1141.4,1201.0L1099.2,1199.2Z" fill="#9076AD" stroke="#9076AD" stroke-width="0.9"/>
<path d="M1141.5,1196.3L1183.8,1197.2L1183.8,1201.8L1141.4,1201.0Z" fill="#8B71A7" stroke="#8B71A7" stroke-width="0.9"/>
<path d="M1183.8,1197.2L1226.1,1197.1L1226.2,1201.7L1183.8,1201.8Z" fill="#866DA2" stroke="#866DA2" stroke-width="0.9"/>
<path d="M1226.1,1197.1L1268.4,1196.0L1268.5,1200.7L1226.2,1201.7Z" fill="#81689C" stroke="#81689C" stroke-width="0.9"/>
<path d="M1268.4,1196.0L1310.4,1194.0L1310.6,1198.7L1268.5,1200.7Z" fill="#7C6397" stroke="#7C6397" stroke-width="0.9"/>
<path d="M1310.4,1194.0L1352.2,1191.1L1352.5,1195.8L1310.6,1198.7Z" fill="#775F92" stroke="#775F92" stroke-width="0.9"/>
<path d="M1352.2,1191.1L1393.6,1187.3L1394.0,1191.9L1352.5,1195.8Z" fill="#735B8D" stroke="#735B8D" stroke-width="0.9"/>
<path d="M1393.6,1187.3L1434.5,1182.5L1434.9,1187.1L1394.0,1191.9Z" fill="#6F5788" stroke="#6F5788" stroke-width="0.9"/>
<path d="M1434.5,1182.5L1474.8,1176.9L1475.3,1181.5L1434.9,1187.1Z" fill="#6B5484" stroke="#6B5484" stroke-width="0.9"/>
<path d="M911.7,1174.6L946.0,1179.8L945.5,1184.4L911.2,1179.2Z" fill="#FFBE6F" stroke="#FFBE6F" stroke-width="0.9"/>
<path d="M946.0,1179.8L980.8,1184.3L980.4,1188.9L945.5,1184.4Z" fill="#FFBA6C" stroke="#FFBA6C" stroke-width="0.9"/>
<path d="M980.8,1184.3L1016.1,1188.2L1015.7,1192.8L980.4,1188.9Z" fill="#FFB669" stroke="#FFB669" stroke-width="0.9"/>
<path d="M682.5,1119.2L717.9,1130.5L717.0,1134.9L681.6,1123.5Z" fill="#5D7EAA" stroke="#5D7EAA" stroke-width="0.9"/>
<path d="M717.9,1130.5L754.4,1141.0L753.6,1145.4L717.0,1134.9Z" fill="#5D7FAA" stroke="#5D7FAA" stroke-width="0.9"/>
<path d="M754.4,1141.0L792.2,1150.7L791.4,1155.2L753.6,1145.4Z" fill="#5D7EA9" stroke="#5D7EA9" stroke-width="0.9"/>
<path d="M792.2,1150.7L831.1,1159.5L830.4,1164.1L791.4,1155.2Z" fill="#5C7DA7" stroke="#5C7DA7" stroke-width="0.9"/>
<path d="M831.1,1159.5L870.9,1167.5L870.3,1172.1L830.4,1164.1Z" fill="#5B7BA5" stroke="#5B7BA5" stroke-width="0.9"/>
<path d="M870.9,1167.5L911.7,1174.6L911.2,1179.2L870.3,1172.1Z" fill="#5979A2" stroke="#5979A2" stroke-width="0.9"/>
<path d="M519.6,1048.3L543.7,1061.3L542.5,1065.5L518.3,1052.5Z" fill="#A24F4F" stroke="#A24F4F" stroke-width="0.9"/>
<path d="M543.7,1061.3L569.1,1073.8L568.0,1078.0L542.5,1065.5Z" fill="#A45151" stroke="#A45151" stroke-width="0.9"/>
<path d="M569.1,1073.8L595.8,1085.9L594.6,1090.2L568.0,1078.0Z" fill="#A65454" stroke="#A65454" stroke-width="0.9"/>
<path d="M595.8,1085.9L623.6,1097.5L622.5,1101.8L594.6,1090.2Z" fill="#A85757" stroke="#A85757" stroke-width="0.9"/>
<path d="M623.6,1097.5L652.5,1108.6L651.5,1113.0L622.5,1101.8Z" fill="#A95959" stroke="#A95959" stroke-width="0.9"/>
<path d="M652.5,1108.6L682.5,1119.2L681.6,1123.5L651.5,1113.0Z" fill="#AA5A5A" stroke="#AA5A5A" stroke-width="0.9"/>
<path d="M418.2,978.3L435.8,992.9L434.5,996.8L416.8,982.2Z" fill="#7B9346" stroke="#7B9346" stroke-width="0.9"/>
<path d="M435.8,992.9L454.8,1007.2L453.4,1011.2L434.5,996.8Z" fill="#7D9548" stroke="#7D9548" stroke-width="0.9"/>
<path d="M454.8,1007.2L475.0,1021.3L473.7,1025.3L453.4,1011.2Z" fill="#80984B" stroke="#80984B" stroke-width="0.9"/>
<path d="M475.0,1021.3L496.7,1035.0L495.4,1039.1L473.7,1025.3Z" fill="#829A4E" stroke="#829A4E" stroke-width="0.9"/>
<path d="M496.7,1035.0L519.6,1048.3L518.3,1052.5L495.4,1039.1Z" fill="#859D51" stroke="#859D51" stroke-width="0.9"/>
<path d="M314.0,808.7L317.3,825.8L315.8,829.2L312.6,812.0Z" fill="#57426F" stroke="#57426F" stroke-width="0.9"/>
<path d="M317.3,825.8L322.0,843.0L320.5,846.5L315.8,829.2Z" fill="#574370" stroke="#574370" stroke-width="0.9"/>
<path d="M322.0,843.0L328.3,860.3L326.9,863.8L320.5,846.5Z" fill="#584471" stroke="#584471" stroke-width="0.9"/>
<path d="M328.3,860.3L336.3,877.5L334.8,881.0L326.9,863.8Z" fill="#594572" stroke="#594572" stroke-width="0.9"/>
<path d="M336.3,877.5L345.8,894.6L344.4,898.2L334.8,881.0Z" fill="#5A4673" stroke="#5A4673" stroke-width="0.9"/>
<path d="M345.8,894.6L357.0,911.7L355.6,915.4L344.4,898.2Z" fill="#5B4774" stroke="#5B4774" stroke-width="0.9"/>
<path d="M357.0,911.7L369.8,928.6L368.4,932.3L355.6,915.4Z" fill="#5D4976" stroke="#5D4976" stroke-width="0.9"/>
<path d="M369.8,928.6L384.3,945.4L382.9,949.2L368.4,932.3Z" fill="#5F4B77" stroke="#5F4B77" stroke-width="0.9"/>
<path d="M384.3,945.4L400.4,961.9L399.0,965.8L382.9,949.2Z" fill="#614D79" stroke="#614D79" stroke-width="0.9"/>
<path d="M400.4,961.9L418.2,978.3L416.8,982.2L399.0,965.8Z" fill="#634F7C" stroke="#634F7C" stroke-width="0.9"/>
<path d="M312.7,796.6L314.0,808.7L312.6,812.0L311.2,799.9Z" fill="#2C7489" stroke="#2C7489" stroke-width="0.9"/>
<path d="M355.4,652.4L344.9,669.1L343.2,671.8L353.7,655.0Z" fill="#80A8E2" stroke="#80A8E2" stroke-width="0.9"/>
<path d="M344.9,669.1L335.9,686.1L334.1,688.9L343.2,671.8Z" fill="#81A9E4" stroke="#81A9E4" stroke-width="0.9"/>
<path d="M335.9,686.1L328.3,703.4L326.5,706.2L334.1,688.9Z" fill="#82AAE5" stroke="#82AAE5" stroke-width="0.9"/>
<path d="M328.3,703.4L322.3,721.0L320.5,723.9L326.5,706.2Z" fill="#82ABE6" stroke="#82ABE6" stroke-width="0.9"/>
<path d="M322.3,721.0L317.9,738.8L316.0,741.8L320.5,723.9Z" fill="#83ACE7" stroke="#83ACE7" stroke-width="0.9"/>
<path d="M317.9,738.8L315.1,756.9L313.2,759.9L316.0,741.8Z" fill="#84ADE8" stroke="#84ADE8" stroke-width="0.9"/>
<path d="M315.1,756.9L314.0,775.1L312.1,778.2L313.2,759.9Z" fill="#84ADE9" stroke="#84ADE9" stroke-width="0.9"/>
<path d="M314.0,775.1L314.6,793.5L312.7,796.6L312.1,778.2Z" fill="#85AEEA" stroke="#85AEEA" stroke-width="0.9"/>
<path d="M1582.7,1152.0L1622.4,1142.6L1623.4,1147.0L1583.7,1156.5Z" fill="#9C4340" stroke="#9C4340" stroke-width="0.9"/>
<path d="M1622.4,1142.6L1660.8,1132.2L1661.9,1136.7L1623.4,1147.0Z" fill="#98413E" stroke="#98413E" stroke-width="0.9"/>
<path d="M1660.8,1132.2L1697.9,1121.1L1699.2,1125.5L1661.9,1136.7Z" fill="#953F3D" stroke="#953F3D" stroke-width="0.9"/>
<path d="M1697.9,1121.1L1733.7,1109.1L1735.0,1113.5L1699.2,1125.5Z" fill="#913D3B" stroke="#913D3B" stroke-width="0.9"/>
<path d="M1733.7,1109.1L1767.9,1096.4L1769.4,1100.7L1735.0,1113.5Z" fill="#8E3C39" stroke="#8E3C39" stroke-width="0.9"/>
<path d="M1767.9,1096.4L1800.7,1083.0L1802.2,1087.2L1769.4,1100.7Z" fill="#8B3A38" stroke="#8B3A38" stroke-width="0.9"/>
<path d="M1800.7,1083.0L1831.8,1068.9L1833.4,1073.1L1802.2,1087.2Z" fill="#883937" stroke="#883937" stroke-width="0.9"/>
<path d="M1831.8,1068.9L1861.3,1054.2L1862.9,1058.4L1833.4,1073.1Z" fill="#863836" stroke="#863836" stroke-width="0.9"/>
<path d="M1861.3,1054.2L1889.1,1039.0L1890.7,1043.0L1862.9,1058.4Z" fill="#833735" stroke="#833735" stroke-width="0.9"/>
<path d="M1889.1,1039.0L1915.1,1023.2L1916.8,1027.2L1890.7,1043.0Z" fill="#813633" stroke="#813633" stroke-width="0.9"/>
<path d="M1915.1,1023.2L1939.3,1007.0L1941.0,1010.9L1916.8,1027.2Z" fill="#7E3432" stroke="#7E3432" stroke-width="0.9"/>
<path d="M1939.3,1007.0L1961.7,990.4L1963.5,994.2L1941.0,1010.9Z" fill="#7C3331" stroke="#7C3331" stroke-width="0.9"/>
<path d="M1961.7,990.4L1982.2,973.3L1984.1,977.1L1963.5,994.2Z" fill="#793231" stroke="#793231" stroke-width="0.9"/>
<path d="M1982.2,973.3L2000.9,956.0L2002.8,959.8L1984.1,977.1Z" fill="#773130" stroke="#773130" stroke-width="0.9"/>
<path d="M2000.9,956.0L2017.8,938.4L2019.7,942.1L2002.8,959.8Z" fill="#75312F" stroke="#75312F" stroke-width="0.9"/>
<path d="M2017.8,938.4L2032.7,920.6L2034.6,924.2L2019.7,942.1Z" fill="#73302E" stroke="#73302E" stroke-width="0.9"/>
<path d="M2032.7,920.6L2045.8,902.6L2047.8,906.2L2034.6,924.2Z" fill="#712F2D" stroke="#712F2D" stroke-width="0.9"/>
<path d="M2045.8,902.6L2057.1,884.5L2059.0,888.0L2047.8,906.2Z" fill="#6F2E2C" stroke="#6F2E2C" stroke-width="0.9"/>
<path d="M2057.1,884.5L2066.5,866.3L2068.5,869.7L2059.0,888.0Z" fill="#6D2D2B" stroke="#6D2D2B" stroke-width="0.9"/>
<path d="M2066.5,866.3L2074.1,848.1L2076.1,851.4L2068.5,869.7Z" fill="#6B2C2B" stroke="#6B2C2B" stroke-width="0.9"/>
<path d="M2074.1,848.1L2080.0,829.9L2081.9,833.1L2076.1,851.4Z" fill="#692C2A" stroke="#692C2A" stroke-width="0.9"/>
<path d="M2080.0,829.9L2084.0,811.7L2086.0,814.9L2081.9,833.1Z" fill="#682B29" stroke="#682B29" stroke-width="0.9"/>
<path d="M2084.0,811.7L2086.4,793.5L2088.3,796.7L2086.0,814.9Z" fill="#662A29" stroke="#662A29" stroke-width="0.9"/>
<path d="M2086.4,793.5L2087.0,775.5L2088.9,778.6L2088.3,796.7Z" fill="#652A28" stroke="#652A28" stroke-width="0.9"/>
<path d="M2087.0,775.5L2086.0,757.6L2087.9,760.6L2088.9,778.6Z" fill="#632928" stroke="#632928" stroke-width="0.9"/>
<path d="M2086.0,757.6L2083.3,739.9L2085.2,742.9L2087.9,760.6Z" fill="#622927" stroke="#622927" stroke-width="0.9"/>
<path d="M2083.3,739.9L2079.1,722.4L2081.0,725.3L2085.2,742.9Z" fill="#612827" stroke="#612827" stroke-width="0.9"/>
<path d="M2079.1,722.4L2073.3,705.2L2075.2,708.0L2081.0,725.3Z" fill="#602826" stroke="#602826" stroke-width="0.9"/>
<path d="M2073.3,705.2L2066.1,688.1L2067.9,690.9L2075.2,708.0Z" fill="#5F2726" stroke="#5F2726" stroke-width="0.9"/>
<path d="M2066.1,688.1L2057.4,671.4L2059.2,674.1L2067.9,690.9Z" fill="#5E2726" stroke="#5E2726" stroke-width="0.9"/>
<path d="M2057.4,671.4L2047.3,655.0L2049.1,657.6L2059.2,674.1Z" fill="#5D2725" stroke="#5D2725" stroke-width="0.9"/>
<path d="M1474.1,1172.3L1511.0,1166.3L1511.8,1170.8L1474.8,1176.9Z" fill="#89A352" stroke="#89A352" stroke-width="0.9"/>
<path d="M1511.0,1166.3L1547.3,1159.5L1548.1,1164.0L1511.8,1170.8Z" fill="#869F4F" stroke="#869F4F" stroke-width="0.9"/>
<path d="M1547.3,1159.5L1582.7,1152.0L1583.7,1156.5L1548.1,1164.0Z" fill="#839C4D" stroke="#839C4D" stroke-width="0.9"/>
<path d="M1016.5,1183.5L1057.9,1187.1L1057.6,1191.8L1016.1,1188.2Z" fill="#A185C0" stroke="#A185C0" stroke-width="0.9"/>
<path d="M1057.9,1187.1L1099.7,1189.9L1099.4,1194.5L1057.6,1191.8Z" fill="#9D81BB" stroke="#9D81BB" stroke-width="0.9"/>
<path d="M1099.7,1189.9L1141.7,1191.6L1141.5,1196.3L1099.4,1194.5Z" fill="#987CB6" stroke="#987CB6" stroke-width="0.9"/>
<path d="M1141.7,1191.6L1183.8,1192.5L1183.8,1197.2L1141.5,1196.3Z" fill="#9378B1" stroke="#9378B1" stroke-width="0.9"/>
<path d="M1183.8,1192.5L1226.0,1192.4L1226.1,1197.1L1183.8,1197.2Z" fill="#8E73AC" stroke="#8E73AC" stroke-width="0.9"/>
<path d="M1226.0,1192.4L1268.2,1191.3L1268.4,1196.0L1226.1,1197.1Z" fill="#8A6FA7" stroke="#8A6FA7" stroke-width="0.9"/>
<path d="M1268.2,1191.3L1310.1,1189.4L1310.4,1194.0L1268.4,1196.0Z" fill="#856BA2" stroke="#856BA2" stroke-width="0.9"/>
<path d="M1310.1,1189.4L1351.8,1186.5L1352.2,1191.1L1310.4,1194.0Z" fill="#81679D" stroke="#81679D" stroke-width="0.9"/>
<path d="M1351.8,1186.5L1393.1,1182.6L1393.6,1187.3L1352.2,1191.1Z" fill="#7D6399" stroke="#7D6399" stroke-width="0.9"/>
<path d="M1393.1,1182.6L1433.9,1177.9L1434.5,1182.5L1393.6,1187.3Z" fill="#796094" stroke="#796094" stroke-width="0.9"/>
<path d="M1433.9,1177.9L1474.1,1172.3L1474.8,1176.9L1434.5,1182.5Z" fill="#755C90" stroke="#755C90" stroke-width="0.9"/>
<path d="M912.4,1170.0L946.7,1175.2L946.0,1179.8L911.7,1174.6Z" fill="#FFC471" stroke="#FFC471" stroke-width="0.9"/>
<path d="M946.7,1175.2L981.4,1179.7L980.8,1184.3L946.0,1179.8Z" fill="#FFC06F" stroke="#FFC06F" stroke-width="0.9"/>
<path d="M981.4,1179.7L1016.5,1183.5L1016.1,1188.2L980.8,1184.3Z" fill="#FFBD6C" stroke="#FFBD6C" stroke-width="0.9"/>
<path d="M683.8,1114.8L719.1,1126.0L717.9,1130.5L682.5,1119.2Z" fill="#5D80AD" stroke="#5D80AD" stroke-width="0.9"/>
<path d="M719.1,1126.0L755.6,1136.5L754.4,1141.0L717.9,1130.5Z" fill="#5D80AD" stroke="#5D80AD" stroke-width="0.9"/>
<path d="M755.6,1136.5L793.2,1146.2L792.2,1150.7L754.4,1141.0Z" fill="#5D80AC" stroke="#5D80AC" stroke-width="0.9"/>
<path d="M793.2,1146.2L832.0,1155.0L831.1,1159.5L792.2,1150.7Z" fill="#5D7FAA" stroke="#5D7FAA" stroke-width="0.9"/>
<path d="M832.0,1155.0L871.8,1163.0L870.9,1167.5L831.1,1159.5Z" fill="#5B7DA8" stroke="#5B7DA8" stroke-width="0.9"/>
<path d="M871.8,1163.0L912.4,1170.0L911.7,1174.6L870.9,1167.5Z" fill="#597BA6" stroke="#597BA6" stroke-width="0.9"/>
<path d="M521.2,1044.2L545.3,1057.2L543.7,1061.3L519.6,1048.3Z" fill="#A65050" stroke="#A65050" stroke-width="0.9"/>
<path d="M545.3,1057.2L570.7,1069.6L569.1,1073.8L543.7,1061.3Z" fill="#A85353" stroke="#A85353" stroke-width="0.9"/>
<path d="M570.7,1069.6L597.2,1081.7L595.8,1085.9L569.1,1073.8Z" fill="#AA5555" stroke="#AA5555" stroke-width="0.9"/>
<path d="M597.2,1081.7L625.0,1093.2L623.6,1097.5L595.8,1085.9Z" fill="#AB5757" stroke="#AB5757" stroke-width="0.9"/>
<path d="M625.0,1093.2L653.9,1104.3L652.5,1108.6L623.6,1097.5Z" fill="#AD5959" stroke="#AD5959" stroke-width="0.9"/>
<path d="M653.9,1104.3L683.8,1114.8L682.5,1119.2L652.5,1108.6Z" fill="#AD5B5B" stroke="#AD5B5B" stroke-width="0.9"/>
<path d="M420.1,974.5L437.6,989.0L435.8,992.9L418.2,978.3Z" fill="#7F9849" stroke="#7F9849" stroke-width="0.9"/>
<path d="M437.6,989.0L456.5,1003.3L454.8,1007.2L435.8,992.9Z" fill="#819A4B" stroke="#819A4B" stroke-width="0.9"/>
<path d="M456.5,1003.3L476.8,1017.3L475.0,1021.3L454.8,1007.2Z" fill="#849D4E" stroke="#849D4E" stroke-width="0.9"/>
<path d="M476.8,1017.3L498.3,1030.9L496.7,1035.0L475.0,1021.3Z" fill="#869F51" stroke="#869F51" stroke-width="0.9"/>
<path d="M498.3,1030.9L521.2,1044.2L519.6,1048.3L496.7,1035.0Z" fill="#89A153" stroke="#89A153" stroke-width="0.9"/>
<path d="M316.0,805.5L319.2,822.6L317.3,825.8L314.0,808.7Z" fill="#594573" stroke="#594573" stroke-width="0.9"/>
<path d="M319.2,822.6L324.0,839.7L322.0,843.0L317.3,825.8Z" fill="#5A4674" stroke="#5A4674" stroke-width="0.9"/>
<path d="M324.0,839.7L330.3,856.9L328.3,860.3L322.0,843.0Z" fill="#5B4674" stroke="#5B4674" stroke-width="0.9"/>
<path d="M330.3,856.9L338.2,874.0L336.3,877.5L328.3,860.3Z" fill="#5C4876" stroke="#5C4876" stroke-width="0.9"/>
<path d="M338.2,874.0L347.8,891.1L345.8,894.6L336.3,877.5Z" fill="#5E4977" stroke="#5E4977" stroke-width="0.9"/>
<path d="M347.8,891.1L358.9,908.1L357.0,911.7L345.8,894.6Z" fill="#5F4A78" stroke="#5F4A78" stroke-width="0.9"/>
<path d="M358.9,908.1L371.8,925.0L369.8,928.6L357.0,911.7Z" fill="#614C7A" stroke="#614C7A" stroke-width="0.9"/>
<path d="M371.8,925.0L386.2,941.7L384.3,945.4L369.8,928.6Z" fill="#634E7C" stroke="#634E7C" stroke-width="0.9"/>
<path d="M386.2,941.7L402.3,958.2L400.4,961.9L384.3,945.4Z" fill="#65507E" stroke="#65507E" stroke-width="0.9"/>
<path d="M402.3,958.2L420.1,974.5L418.2,978.3L400.4,961.9Z" fill="#675380" stroke="#675380" stroke-width="0.9"/>
<path d="M314.6,793.5L316.0,805.5L314.0,808.7L312.7,796.6Z" fill="#2D788C" stroke="#2D788C" stroke-width="0.9"/>
<path d="M382.6,617.8L369.4,633.7L367.3,636.0L380.5,620.0Z" fill="#80A9E3" stroke="#80A9E3" stroke-width="0.9"/>
<path d="M369.4,633.7L357.6,650.0L355.4,652.4L367.3,636.0Z" fill="#81AAE4" stroke="#81AAE4" stroke-width="0.9"/>
<path d="M357.6,650.0L347.1,666.6L344.9,669.1L355.4,652.4Z" fill="#82ABE5" stroke="#82ABE5" stroke-width="0.9"/>
<path d="M347.1,666.6L338.1,683.6L335.9,686.1L344.9,669.1Z" fill="#83ABE6" stroke="#83ABE6" stroke-width="0.9"/>
<path d="M338.1,683.6L330.6,700.8L328.3,703.4L335.9,686.1Z" fill="#83ACE7" stroke="#83ACE7" stroke-width="0.9"/>
<path d="M330.6,700.8L324.6,718.4L322.3,721.0L328.3,703.4Z" fill="#84ADE8" stroke="#84ADE8" stroke-width="0.9"/>
<path d="M324.6,718.4L320.2,736.1L317.9,738.8L322.3,721.0Z" fill="#84AEE9" stroke="#84AEE9" stroke-width="0.9"/>
<path d="M320.2,736.1L317.5,754.1L315.1,756.9L317.9,738.8Z" fill="#85AEEA" stroke="#85AEEA" stroke-width="0.9"/>
<path d="M317.5,754.1L316.4,772.3L314.0,775.1L315.1,756.9Z" fill="#86AFEB" stroke="#86AFEB" stroke-width="0.9"/>
<path d="M316.4,772.3L317.0,790.6L314.6,793.5L314.0,775.1Z" fill="#86B0EC" stroke="#86B0EC" stroke-width="0.9"/>
<path d="M1581.6,1147.5L1621.1,1138.1L1622.4,1142.6L1582.7,1152.0Z" fill="#A74845" stroke="#A74845" stroke-width="0.9"/>
<path d="M1621.1,1138.1L1659.4,1127.9L1660.8,1132.2L1622.4,1142.6Z" fill="#A44643" stroke="#A44643" stroke-width="0.9"/>
<path d="M1659.4,1127.9L1696.4,1116.8L1697.9,1121.1L1660.8,1132.2Z" fill="#A14442" stroke="#A14442" stroke-width="0.9"/>
<path d="M1696.4,1116.8L1732.0,1104.9L1733.7,1109.1L1697.9,1121.1Z" fill="#9E4340" stroke="#9E4340" stroke-width="0.9"/>
<path d="M1732.0,1104.9L1766.2,1092.2L1767.9,1096.4L1733.7,1109.1Z" fill="#9C413F" stroke="#9C413F" stroke-width="0.9"/>
<path d="M1766.2,1092.2L1798.9,1078.9L1800.7,1083.0L1767.9,1096.4Z" fill="#99403E" stroke="#99403E" stroke-width="0.9"/>
<path d="M1798.9,1078.9L1829.9,1064.9L1831.8,1068.9L1800.7,1083.0Z" fill="#973F3D" stroke="#973F3D" stroke-width="0.9"/>
<path d="M1829.9,1064.9L1859.3,1050.2L1861.3,1054.2L1831.8,1068.9Z" fill="#943E3C" stroke="#943E3C" stroke-width="0.9"/>
<path d="M1859.3,1050.2L1887.0,1035.1L1889.1,1039.0L1861.3,1054.2Z" fill="#923D3B" stroke="#923D3B" stroke-width="0.9"/>
<path d="M1887.0,1035.1L1912.9,1019.4L1915.1,1023.2L1889.1,1039.0Z" fill="#903C3A" stroke="#903C3A" stroke-width="0.9"/>
<path d="M1912.9,1019.4L1937.1,1003.2L1939.3,1007.0L1915.1,1023.2Z" fill="#8E3B39" stroke="#8E3B39" stroke-width="0.9"/>
<path d="M1937.1,1003.2L1959.4,986.6L1961.7,990.4L1939.3,1007.0Z" fill="#8C3A38" stroke="#8C3A38" stroke-width="0.9"/>
<path d="M1959.4,986.6L1979.9,969.7L1982.2,973.3L1961.7,990.4Z" fill="#8A3937" stroke="#8A3937" stroke-width="0.9"/>
<path d="M1979.9,969.7L1998.6,952.4L2000.9,956.0L1982.2,973.3Z" fill="#883836" stroke="#883836" stroke-width="0.9"/>
<path d="M1998.6,952.4L2015.4,934.9L2017.8,938.4L2000.9,956.0Z" fill="#863835" stroke="#863835" stroke-width="0.9"/>
<path d="M2015.4,934.9L2030.4,917.2L2032.7,920.6L2017.8,938.4Z" fill="#843735" stroke="#843735" stroke-width="0.9"/>
<path d="M2030.4,917.2L2043.4,899.3L2045.8,902.6L2032.7,920.6Z" fill="#823634" stroke="#823634" stroke-width="0.9"/>
<path d="M2043.4,899.3L2054.7,881.3L2057.1,884.5L2045.8,902.6Z" fill="#803533" stroke="#803533" stroke-width="0.9"/>
<path d="M2054.7,881.3L2064.1,863.1L2066.5,866.3L2057.1,884.5Z" fill="#7F3533" stroke="#7F3533" stroke-width="0.9"/>
<path d="M2064.1,863.1L2071.7,845.0L2074.1,848.1L2066.5,866.3Z" fill="#7D3432" stroke="#7D3432" stroke-width="0.9"/>
<path d="M2071.7,845.0L2077.5,826.8L2080.0,829.9L2074.1,848.1Z" fill="#7C3332" stroke="#7C3332" stroke-width="0.9"/>
<path d="M2077.5,826.8L2081.6,808.7L2084.0,811.7L2080.0,829.9Z" fill="#7A3331" stroke="#7A3331" stroke-width="0.9"/>
<path d="M2081.6,808.7L2084.0,790.6L2086.4,793.5L2084.0,811.7Z" fill="#793230" stroke="#793230" stroke-width="0.9"/>
<path d="M2084.0,790.6L2084.6,772.7L2087.0,775.5L2086.4,793.5Z" fill="#783230" stroke="#783230" stroke-width="0.9"/>
<path d="M2084.6,772.7L2083.6,754.9L2086.0,757.6L2087.0,775.5Z" fill="#77312F" stroke="#77312F" stroke-width="0.9"/>
<path d="M2083.6,754.9L2081.0,737.2L2083.3,739.9L2086.0,757.6Z" fill="#76312F" stroke="#76312F" stroke-width="0.9"/>
<path d="M2081.0,737.2L2076.8,719.8L2079.1,722.4L2083.3,739.9Z" fill="#75312F" stroke="#75312F" stroke-width="0.9"/>
<path d="M2076.8,719.8L2071.1,702.6L2073.3,705.2L2079.1,722.4Z" fill="#74302E" stroke="#74302E" stroke-width="0.9"/>
<path d="M2071.1,702.6L2063.9,685.6L2066.1,688.1L2073.3,705.2Z" fill="#73302E" stroke="#73302E" stroke-width="0.9"/>
<path d="M2063.9,685.6L2055.2,669.0L2057.4,671.4L2066.1,688.1Z" fill="#72302E" stroke="#72302E" stroke-width="0.9"/>
<path d="M2055.2,669.0L2045.2,652.6L2047.3,655.0L2057.4,671.4Z" fill="#722F2D" stroke="#722F2D" stroke-width="0.9"/>
<path d="M2045.2,652.6L2033.8,636.6L2035.9,638.9L2047.3,655.0Z" fill="#712F2D" stroke="#712F2D" stroke-width="0.9"/>
<path d="M2033.8,636.6L2021.1,620.9L2023.2,623.1L2035.9,638.9Z" fill="#712F2D" stroke="#712F2D" stroke-width="0.9"/>
<path d="M2021.1,620.9L2007.2,605.5L2009.2,607.7L2023.2,623.1Z" fill="#702F2D" stroke="#702F2D" stroke-width="0.9"/>
<path d="M1473.2,1167.7L1510.1,1161.7L1511.0,1166.3L1474.1,1172.3Z" fill="#91AD56" stroke="#91AD56" stroke-width="0.9"/>
<path d="M1510.1,1161.7L1546.2,1155.0L1547.3,1159.5L1511.0,1166.3Z" fill="#8EAA54" stroke="#8EAA54" stroke-width="0.9"/>
<path d="M1546.2,1155.0L1581.6,1147.5L1582.7,1152.0L1547.3,1159.5Z" fill="#8CA752" stroke="#8CA752" stroke-width="0.9"/>
<path d="M1017.1,1178.9L1058.4,1182.5L1057.9,1187.1L1016.5,1183.5Z" fill="#9C7FBC" stroke="#9C7FBC" stroke-width="0.9"/>
<path d="M1058.4,1182.5L1100.0,1185.2L1099.7,1189.9L1057.9,1187.1Z" fill="#997CB9" stroke="#997CB9" stroke-width="0.9"/>
<path d="M1100.0,1185.2L1141.9,1187.0L1141.7,1191.6L1099.7,1189.9Z" fill="#9579B5" stroke="#9579B5" stroke-width="0.9"/>
<path d="M1141.9,1187.0L1183.9,1187.8L1183.8,1192.5L1141.7,1191.6Z" fill="#9276B1" stroke="#9276B1" stroke-width="0.9"/>
<path d="M1183.9,1187.8L1226.0,1187.7L1226.0,1192.4L1183.8,1192.5Z" fill="#8F72AE" stroke="#8F72AE" stroke-width="0.9"/>
<path d="M1226.0,1187.7L1268.0,1186.7L1268.2,1191.3L1226.0,1192.4Z" fill="#8B6FAA" stroke="#8B6FAA" stroke-width="0.9"/>
<path d="M1268.0,1186.7L1309.8,1184.7L1310.1,1189.4L1268.2,1191.3Z" fill="#886CA6" stroke="#886CA6" stroke-width="0.9"/>
<path d="M1309.8,1184.7L1351.4,1181.8L1351.8,1186.5L1310.1,1189.4Z" fill="#8469A2" stroke="#8469A2" stroke-width="0.9"/>
<path d="M1351.4,1181.8L1392.5,1178.0L1393.1,1182.6L1351.8,1186.5Z" fill="#81669F" stroke="#81669F" stroke-width="0.9"/>
<path d="M1392.5,1178.0L1433.2,1173.3L1433.9,1177.9L1393.1,1182.6Z" fill="#7E639B" stroke="#7E639B" stroke-width="0.9"/>
<path d="M1433.2,1173.3L1473.2,1167.7L1474.1,1172.3L1433.9,1177.9Z" fill="#7B6198" stroke="#7B6198" stroke-width="0.9"/>
<path d="M913.3,1165.5L947.5,1170.6L946.7,1175.2L912.4,1170.0Z" fill="#FFBD68" stroke="#FFBD68" stroke-width="0.9"/>
<path d="M947.5,1170.6L982.1,1175.1L981.4,1179.7L946.7,1175.2Z" fill="#FFBA66" stroke="#FFBA66" stroke-width="0.9"/>
<path d="M982.1,1175.1L1017.1,1178.9L1016.5,1183.5L981.4,1179.7Z" fill="#FFB764" stroke="#FFB764" stroke-width="0.9"/>
<path d="M685.4,1110.5L720.5,1121.7L719.1,1126.0L683.8,1114.8Z" fill="#5175A2" stroke="#5175A2" stroke-width="0.9"/>
<path d="M720.5,1121.7L756.9,1132.1L755.6,1136.5L719.1,1126.0Z" fill="#5175A2" stroke="#5175A2" stroke-width="0.9"/>
<path d="M756.9,1132.1L794.5,1141.7L793.2,1146.2L755.6,1136.5Z" fill="#5174A1" stroke="#5174A1" stroke-width="0.9"/>
<path d="M794.5,1141.7L833.2,1150.5L832.0,1155.0L793.2,1146.2Z" fill="#5073A0" stroke="#5073A0" stroke-width="0.9"/>
<path d="M833.2,1150.5L872.8,1158.5L871.8,1163.0L832.0,1155.0Z" fill="#4F729E" stroke="#4F729E" stroke-width="0.9"/>
<path d="M872.8,1158.5L913.3,1165.5L912.4,1170.0L871.8,1163.0Z" fill="#4E719C" stroke="#4E719C" stroke-width="0.9"/>
<path d="M523.2,1040.3L547.3,1053.1L545.3,1057.2L521.2,1044.2Z" fill="#9F4949" stroke="#9F4949" stroke-width="0.9"/>
<path d="M547.3,1053.1L572.6,1065.6L570.7,1069.6L545.3,1057.2Z" fill="#A14A4A" stroke="#A14A4A" stroke-width="0.9"/>
<path d="M572.6,1065.6L599.1,1077.5L597.2,1081.7L570.7,1069.6Z" fill="#A24C4C" stroke="#A24C4C" stroke-width="0.9"/>
<path d="M599.1,1077.5L626.7,1089.1L625.0,1093.2L597.2,1081.7Z" fill="#A24D4D" stroke="#A24D4D" stroke-width="0.9"/>
<path d="M626.7,1089.1L655.5,1100.1L653.9,1104.3L625.0,1093.2Z" fill="#A34E4E" stroke="#A34E4E" stroke-width="0.9"/>
<path d="M655.5,1100.1L685.4,1110.5L683.8,1114.8L653.9,1104.3Z" fill="#A34F4F" stroke="#A34F4F" stroke-width="0.9"/>
<path d="M422.3,970.8L439.9,985.3L437.6,989.0L420.1,974.5Z" fill="#7D9646" stroke="#7D9646" stroke-width="0.9"/>
<path d="M439.9,985.3L458.7,999.5L456.5,1003.3L437.6,989.0Z" fill="#7E9747" stroke="#7E9747" stroke-width="0.9"/>
<path d="M458.7,999.5L478.9,1013.4L476.8,1017.3L456.5,1003.3Z" fill="#809949" stroke="#809949" stroke-width="0.9"/>
<path d="M478.9,1013.4L500.4,1027.0L498.3,1030.9L476.8,1017.3Z" fill="#819A4B" stroke="#819A4B" stroke-width="0.9"/>
<path d="M500.4,1027.0L523.2,1040.3L521.2,1044.2L498.3,1030.9Z" fill="#839C4D" stroke="#839C4D" stroke-width="0.9"/>
<path d="M318.4,802.5L321.6,819.6L319.2,822.6L316.0,805.5Z" fill="#5A4674" stroke="#5A4674" stroke-width="0.9"/>
<path d="M321.6,819.6L326.4,836.6L324.0,839.7L319.2,822.6Z" fill="#5B4675" stroke="#5B4675" stroke-width="0.9"/>
<path d="M326.4,836.6L332.7,853.7L330.3,856.9L324.0,839.7Z" fill="#5C4775" stroke="#5C4775" stroke-width="0.9"/>
<path d="M332.7,853.7L340.6,870.8L338.2,874.0L330.3,856.9Z" fill="#5D4876" stroke="#5D4876" stroke-width="0.9"/>
<path d="M340.6,870.8L350.2,887.8L347.8,891.1L338.2,874.0Z" fill="#5E4977" stroke="#5E4977" stroke-width="0.9"/>
<path d="M350.2,887.8L361.3,904.7L358.9,908.1L347.8,891.1Z" fill="#5F4A79" stroke="#5F4A79" stroke-width="0.9"/>
<path d="M361.3,904.7L374.1,921.5L371.8,925.0L358.9,908.1Z" fill="#604C7A" stroke="#604C7A" stroke-width="0.9"/>
<path d="M374.1,921.5L388.6,938.2L386.2,941.7L371.8,925.0Z" fill="#624D7B" stroke="#624D7B" stroke-width="0.9"/>
<path d="M388.6,938.2L404.6,954.6L402.3,958.2L386.2,941.7Z" fill="#634F7D" stroke="#634F7D" stroke-width="0.9"/>
<path d="M404.6,954.6L422.3,970.8L420.1,974.5L402.3,958.2Z" fill="#65507E" stroke="#65507E" stroke-width="0.9"/>
<path d="M317.0,790.6L318.4,802.5L316.0,805.5L314.6,793.5Z" fill="#2E798E" stroke="#2E798E" stroke-width="0.9"/>
<path d="M449.8,556.3L431.9,570.5L429.7,572.3L447.7,558.0Z" fill="#7EA5DE" stroke="#7EA5DE" stroke-width="0.9"/>
<path d="M431.9,570.5L415.0,585.2L412.8,587.0L429.7,572.3Z" fill="#7FA6DF" stroke="#7FA6DF" stroke-width="0.9"/>
<path d="M415.0,585.2L399.4,600.3L397.1,602.2L412.8,587.0Z" fill="#7FA7E1" stroke="#7FA7E1" stroke-width="0.9"/>
<path d="M399.4,600.3L385.0,615.8L382.6,617.8L397.1,602.2Z" fill="#80A8E2" stroke="#80A8E2" stroke-width="0.9"/>
<path d="M385.0,615.8L371.9,631.7L369.4,633.7L382.6,617.8Z" fill="#81A9E3" stroke="#81A9E3" stroke-width="0.9"/>
<path d="M371.9,631.7L360.1,647.9L357.6,650.0L369.4,633.7Z" fill="#81AAE4" stroke="#81AAE4" stroke-width="0.9"/>
<path d="M360.1,647.9L349.7,664.5L347.1,666.6L357.6,650.0Z" fill="#82AAE5" stroke="#82AAE5" stroke-width="0.9"/>
<path d="M349.7,664.5L340.7,681.4L338.1,683.6L347.1,666.6Z" fill="#82ABE6" stroke="#82ABE6" stroke-width="0.9"/>
<path d="M340.7,681.4L333.3,698.6L330.6,700.8L338.1,683.6Z" fill="#83ACE7" stroke="#83ACE7" stroke-width="0.9"/>
<path d="M333.3,698.6L327.3,716.0L324.6,718.4L330.6,700.8Z" fill="#83ACE8" stroke="#83ACE8" stroke-width="0.9"/>
<path d="M327.3,716.0L323.0,733.7L320.2,736.1L324.6,718.4Z" fill="#84ADE9" stroke="#84ADE9" stroke-width="0.9"/>
<path d="M323.0,733.7L320.2,751.6L317.5,754.1L320.2,736.1Z" fill="#85AEE9" stroke="#85AEE9" stroke-width="0.9"/>
<path d="M320.2,751.6L319.2,769.7L316.4,772.3L317.5,754.1Z" fill="#85AEEA" stroke="#85AEEA" stroke-width="0.9"/>
<path d="M319.2,769.7L319.8,787.9L317.0,790.6L316.4,772.3Z" fill="#86AFEB" stroke="#86AFEB" stroke-width="0.9"/>
<path d="M1580.2,1143.2L1619.5,1133.9L1621.1,1138.1L1581.6,1147.5Z" fill="#B04B48" stroke="#B04B48" stroke-width="0.9"/>
<path d="M1619.5,1133.9L1657.7,1123.7L1659.4,1127.9L1621.1,1138.1Z" fill="#AD4947" stroke="#AD4947" stroke-width="0.9"/>
<path d="M1657.7,1123.7L1694.6,1112.6L1696.4,1116.8L1659.4,1127.9Z" fill="#AB4846" stroke="#AB4846" stroke-width="0.9"/>
<path d="M1694.6,1112.6L1730.1,1100.8L1732.0,1104.9L1696.4,1116.8Z" fill="#A94744" stroke="#A94744" stroke-width="0.9"/>
<path d="M1730.1,1100.8L1764.2,1088.2L1766.2,1092.2L1732.0,1104.9Z" fill="#A74643" stroke="#A74643" stroke-width="0.9"/>
<path d="M1764.2,1088.2L1796.7,1074.9L1798.9,1078.9L1766.2,1092.2Z" fill="#A44542" stroke="#A44542" stroke-width="0.9"/>
<path d="M1796.7,1074.9L1827.7,1061.0L1829.9,1064.9L1798.9,1078.9Z" fill="#A24441" stroke="#A24441" stroke-width="0.9"/>
<path d="M1827.7,1061.0L1857.0,1046.4L1859.3,1050.2L1829.9,1064.9Z" fill="#A14341" stroke="#A14341" stroke-width="0.9"/>
<path d="M1857.0,1046.4L1884.6,1031.3L1887.0,1035.1L1859.3,1050.2Z" fill="#9F4240" stroke="#9F4240" stroke-width="0.9"/>
<path d="M1884.6,1031.3L1910.5,1015.7L1912.9,1019.4L1887.0,1035.1Z" fill="#9D413F" stroke="#9D413F" stroke-width="0.9"/>
<path d="M1910.5,1015.7L1934.6,999.6L1937.1,1003.2L1912.9,1019.4Z" fill="#9B413E" stroke="#9B413E" stroke-width="0.9"/>
<path d="M1934.6,999.6L1956.8,983.1L1959.4,986.6L1937.1,1003.2Z" fill="#99403D" stroke="#99403D" stroke-width="0.9"/>
<path d="M1956.8,983.1L1977.3,966.3L1979.9,969.7L1959.4,986.6Z" fill="#983F3D" stroke="#983F3D" stroke-width="0.9"/>
<path d="M1977.3,966.3L1995.9,949.1L1998.6,952.4L1979.9,969.7Z" fill="#963E3C" stroke="#963E3C" stroke-width="0.9"/>
<path d="M1995.9,949.1L2012.7,931.7L2015.4,934.9L1998.6,952.4Z" fill="#943E3B" stroke="#943E3B" stroke-width="0.9"/>
<path d="M2012.7,931.7L2027.6,914.0L2030.4,917.2L2015.4,934.9Z" fill="#933D3B" stroke="#933D3B" stroke-width="0.9"/>
<path d="M2027.6,914.0L2040.6,896.2L2043.4,899.3L2030.4,917.2Z" fill="#923D3A" stroke="#923D3A" stroke-width="0.9"/>
<path d="M2040.6,896.2L2051.9,878.2L2054.7,881.3L2043.4,899.3Z" fill="#903C3A" stroke="#903C3A" stroke-width="0.9"/>
<path d="M2051.9,878.2L2061.3,860.2L2064.1,863.1L2054.7,881.3Z" fill="#8F3B39" stroke="#8F3B39" stroke-width="0.9"/>
<path d="M2061.3,860.2L2068.9,842.1L2071.7,845.0L2064.1,863.1Z" fill="#8E3B39" stroke="#8E3B39" stroke-width="0.9"/>
<path d="M2068.9,842.1L2074.7,824.0L2077.5,826.8L2071.7,845.0Z" fill="#8C3A38" stroke="#8C3A38" stroke-width="0.9"/>
<path d="M2074.7,824.0L2078.8,806.0L2081.6,808.7L2077.5,826.8Z" fill="#8B3A38" stroke="#8B3A38" stroke-width="0.9"/>
<path d="M2078.8,806.0L2081.2,788.0L2084.0,790.6L2081.6,808.7Z" fill="#8A3937" stroke="#8A3937" stroke-width="0.9"/>
<path d="M2081.2,788.0L2081.8,770.1L2084.6,772.7L2084.0,790.6Z" fill="#893937" stroke="#893937" stroke-width="0.9"/>
<path d="M2081.8,770.1L2080.8,752.4L2083.6,754.9L2084.6,772.7Z" fill="#883937" stroke="#883937" stroke-width="0.9"/>
<path d="M2080.8,752.4L2078.3,734.8L2081.0,737.2L2083.6,754.9Z" fill="#873836" stroke="#873836" stroke-width="0.9"/>
<path d="M2078.3,734.8L2074.1,717.5L2076.8,719.8L2081.0,737.2Z" fill="#873836" stroke="#873836" stroke-width="0.9"/>
<path d="M2074.1,717.5L2068.4,700.3L2071.1,702.6L2076.8,719.8Z" fill="#863836" stroke="#863836" stroke-width="0.9"/>
<path d="M2068.4,700.3L2061.2,683.5L2063.9,685.6L2071.1,702.6Z" fill="#853735" stroke="#853735" stroke-width="0.9"/>
<path d="M2061.2,683.5L2052.6,666.8L2055.2,669.0L2063.9,685.6Z" fill="#853735" stroke="#853735" stroke-width="0.9"/>
<path d="M2052.6,666.8L2042.7,650.5L2045.2,652.6L2055.2,669.0Z" fill="#843735" stroke="#843735" stroke-width="0.9"/>
<path d="M2042.7,650.5L2031.3,634.6L2033.8,636.6L2045.2,652.6Z" fill="#843735" stroke="#843735" stroke-width="0.9"/>
<path d="M2031.3,634.6L2018.7,618.9L2021.1,620.9L2033.8,636.6Z" fill="#833735" stroke="#833735" stroke-width="0.9"/>
<path d="M2018.7,618.9L2004.8,603.6L2007.2,605.5L2021.1,620.9Z" fill="#833734" stroke="#833734" stroke-width="0.9"/>
<path d="M2004.8,603.6L1989.7,588.7L1992.0,590.6L2007.2,605.5Z" fill="#833634" stroke="#833634" stroke-width="0.9"/>
<path d="M1989.7,588.7L1973.5,574.2L1975.7,576.0L1992.0,590.6Z" fill="#833634" stroke="#833634" stroke-width="0.9"/>
<path d="M1973.5,574.2L1956.2,560.1L1958.4,561.8L1975.7,576.0Z" fill="#833634" stroke="#833634" stroke-width="0.9"/>
<path d="M1472.2,1163.3L1508.9,1157.3L1510.1,1161.7L1473.2,1167.7Z" fill="#96B358" stroke="#96B358" stroke-width="0.9"/>
<path d="M1508.9,1157.3L1544.9,1150.6L1546.2,1155.0L1510.1,1161.7Z" fill="#94B157" stroke="#94B157" stroke-width="0.9"/>
<path d="M1544.9,1150.6L1580.2,1143.2L1581.6,1147.5L1546.2,1155.0Z" fill="#92AE55" stroke="#92AE55" stroke-width="0.9"/>
<path d="M1017.8,1174.4L1058.9,1178.0L1058.4,1182.5L1017.1,1178.9Z" fill="#9375B4" stroke="#9375B4" stroke-width="0.9"/>
<path d="M1058.9,1178.0L1100.4,1180.7L1100.0,1185.2L1058.4,1182.5Z" fill="#9173B2" stroke="#9173B2" stroke-width="0.9"/>
<path d="M1100.4,1180.7L1142.1,1182.5L1141.9,1187.0L1100.0,1185.2Z" fill="#8F71AF" stroke="#8F71AF" stroke-width="0.9"/>
<path d="M1142.1,1182.5L1184.0,1183.3L1183.9,1187.8L1141.9,1187.0Z" fill="#8D70AD" stroke="#8D70AD" stroke-width="0.9"/>
<path d="M1184.0,1183.3L1225.9,1183.2L1226.0,1187.7L1183.9,1187.8Z" fill="#8B6EAB" stroke="#8B6EAB" stroke-width="0.9"/>
<path d="M1225.9,1183.2L1267.7,1182.2L1268.0,1186.7L1226.0,1187.7Z" fill="#886CA8" stroke="#886CA8" stroke-width="0.9"/>
<path d="M1267.7,1182.2L1309.4,1180.2L1309.8,1184.7L1268.0,1186.7Z" fill="#866AA6" stroke="#866AA6" stroke-width="0.9"/>
<path d="M1309.4,1180.2L1350.8,1177.3L1351.4,1181.8L1309.8,1184.7Z" fill="#8468A3" stroke="#8468A3" stroke-width="0.9"/>
<path d="M1350.8,1177.3L1391.8,1173.6L1392.5,1178.0L1351.4,1181.8Z" fill="#8266A1" stroke="#8266A1" stroke-width="0.9"/>
<path d="M1391.8,1173.6L1432.3,1168.9L1433.2,1173.3L1392.5,1178.0Z" fill="#80649E" stroke="#80649E" stroke-width="0.9"/>
<path d="M1432.3,1168.9L1472.2,1163.3L1473.2,1167.7L1433.2,1173.3Z" fill="#7E629C" stroke="#7E629C" stroke-width="0.9"/>
<path d="M914.4,1161.1L948.4,1166.2L947.5,1170.6L913.3,1165.5Z" fill="#FFB15B" stroke="#FFB15B" stroke-width="0.9"/>
<path d="M948.4,1166.2L982.9,1170.6L982.1,1175.1L947.5,1170.6Z" fill="#FFAF5A" stroke="#FFAF5A" stroke-width="0.9"/>
<path d="M982.9,1170.6L1017.8,1174.4L1017.1,1178.9L982.1,1175.1Z" fill="#FFAE59" stroke="#FFAE59" stroke-width="0.9"/>
<path d="M687.3,1106.4L722.3,1117.5L720.5,1121.7L685.4,1110.5Z" fill="#426694" stroke="#426694" stroke-width="0.9"/>
<path d="M722.3,1117.5L758.5,1127.9L756.9,1132.1L720.5,1121.7Z" fill="#426694" stroke="#426694" stroke-width="0.9"/>
<path d="M758.5,1127.9L796.0,1137.5L794.5,1141.7L756.9,1132.1Z" fill="#426693" stroke="#426693" stroke-width="0.9"/>
<path d="M796.0,1137.5L834.5,1146.2L833.2,1150.5L794.5,1141.7Z" fill="#426592" stroke="#426592" stroke-width="0.9"/>
<path d="M834.5,1146.2L874.0,1154.1L872.8,1158.5L833.2,1150.5Z" fill="#416491" stroke="#416491" stroke-width="0.9"/>
<path d="M874.0,1154.1L914.4,1161.1L913.3,1165.5L872.8,1158.5Z" fill="#406390" stroke="#406390" stroke-width="0.9"/>
<path d="M525.6,1036.5L549.6,1049.3L547.3,1053.1L523.2,1040.3Z" fill="#953E3E" stroke="#953E3E" stroke-width="0.9"/>
<path d="M549.6,1049.3L574.8,1061.7L572.6,1065.6L547.3,1053.1Z" fill="#953F3F" stroke="#953F3F" stroke-width="0.9"/>
<path d="M574.8,1061.7L601.2,1073.6L599.1,1077.5L572.6,1065.6Z" fill="#954040" stroke="#954040" stroke-width="0.9"/>
<path d="M601.2,1073.6L628.8,1085.0L626.7,1089.1L599.1,1077.5Z" fill="#964040" stroke="#964040" stroke-width="0.9"/>
<path d="M628.8,1085.0L657.5,1096.0L655.5,1100.1L626.7,1089.1Z" fill="#964141" stroke="#964141" stroke-width="0.9"/>
<path d="M657.5,1096.0L687.3,1106.4L685.4,1110.5L655.5,1100.1Z" fill="#964141" stroke="#964141" stroke-width="0.9"/>
<path d="M425.0,967.4L442.5,981.8L439.9,985.3L422.3,970.8Z" fill="#768F40" stroke="#768F40" stroke-width="0.9"/>
<path d="M442.5,981.8L461.3,995.9L458.7,999.5L439.9,985.3Z" fill="#779040" stroke="#779040" stroke-width="0.9"/>
<path d="M461.3,995.9L481.4,1009.8L478.9,1013.4L458.7,999.5Z" fill="#789141" stroke="#789141" stroke-width="0.9"/>
<path d="M481.4,1009.8L502.9,1023.3L500.4,1027.0L478.9,1013.4Z" fill="#789142" stroke="#789142" stroke-width="0.9"/>
<path d="M502.9,1023.3L525.6,1036.5L523.2,1040.3L500.4,1027.0Z" fill="#799243" stroke="#799243" stroke-width="0.9"/>
<path d="M321.2,799.9L324.4,816.8L321.6,819.6L318.4,802.5Z" fill="#5A4573" stroke="#5A4573" stroke-width="0.9"/>
<path d="M324.4,816.8L329.2,833.8L326.4,836.6L321.6,819.6Z" fill="#5A4573" stroke="#5A4573" stroke-width="0.9"/>
<path d="M329.2,833.8L335.5,850.8L332.7,853.7L326.4,836.6Z" fill="#5B4674" stroke="#5B4674" stroke-width="0.9"/>
<path d="M335.5,850.8L343.5,867.8L340.6,870.8L332.7,853.7Z" fill="#5B4675" stroke="#5B4675" stroke-width="0.9"/>
<path d="M343.5,867.8L353.0,884.8L350.2,887.8L340.6,870.8Z" fill="#5C4775" stroke="#5C4775" stroke-width="0.9"/>
<path d="M353.0,884.8L364.1,901.6L361.3,904.7L350.2,887.8Z" fill="#5D4876" stroke="#5D4876" stroke-width="0.9"/>
<path d="M364.1,901.6L376.9,918.3L374.1,921.5L361.3,904.7Z" fill="#5D4977" stroke="#5D4977" stroke-width="0.9"/>
<path d="M376.9,918.3L391.3,934.9L388.6,938.2L374.1,921.5Z" fill="#5E4977" stroke="#5E4977" stroke-width="0.9"/>
<path d="M391.3,934.9L407.3,951.3L404.6,954.6L388.6,938.2Z" fill="#5F4A78" stroke="#5F4A78" stroke-width="0.9"/>
<path d="M407.3,951.3L425.0,967.4L422.3,970.8L404.6,954.6Z" fill="#604B79" stroke="#604B79" stroke-width="0.9"/>
<path d="M319.8,787.9L321.2,799.9L318.4,802.5L317.0,790.6Z" fill="#2D788D" stroke="#2D788D" stroke-width="0.9"/>
<path d="M534.1,502.6L512.2,515.0L510.0,516.2L532.0,503.7Z" fill="#7BA1D8" stroke="#7BA1D8" stroke-width="0.9"/>
<path d="M512.2,515.0L491.2,527.9L489.0,529.1L510.0,516.2Z" fill="#7BA2DA" stroke="#7BA2DA" stroke-width="0.9"/>
<path d="M491.2,527.9L471.2,541.2L468.9,542.4L489.0,529.1Z" fill="#7CA3DB" stroke="#7CA3DB" stroke-width="0.9"/>
<path d="M471.2,541.2L452.3,555.0L449.8,556.3L468.9,542.4Z" fill="#7DA4DC" stroke="#7DA4DC" stroke-width="0.9"/>
<path d="M452.3,555.0L434.4,569.2L431.9,570.5L449.8,556.3Z" fill="#7DA4DD" stroke="#7DA4DD" stroke-width="0.9"/>
<path d="M434.4,569.2L417.6,583.8L415.0,585.2L431.9,570.5Z" fill="#7EA5DE" stroke="#7EA5DE" stroke-width="0.9"/>
<path d="M417.6,583.8L402.0,598.9L399.4,600.3L415.0,585.2Z" fill="#7EA6DF" stroke="#7EA6DF" stroke-width="0.9"/>
<path d="M402.0,598.9L387.7,614.3L385.0,615.8L399.4,600.3Z" fill="#7FA7E0" stroke="#7FA7E0" stroke-width="0.9"/>
<path d="M387.7,614.3L374.6,630.1L371.9,631.7L385.0,615.8Z" fill="#7FA7E1" stroke="#7FA7E1" stroke-width="0.9"/>
<path d="M374.6,630.1L362.9,646.3L360.1,647.9L371.9,631.7Z" fill="#80A8E2" stroke="#80A8E2" stroke-width="0.9"/>
<path d="M362.9,646.3L352.6,662.8L349.7,664.5L360.1,647.9Z" fill="#80A8E2" stroke="#80A8E2" stroke-width="0.9"/>
<path d="M352.6,662.8L343.7,679.6L340.7,681.4L349.7,664.5Z" fill="#81A9E3" stroke="#81A9E3" stroke-width="0.9"/>
<path d="M343.7,679.6L336.2,696.7L333.3,698.6L340.7,681.4Z" fill="#81AAE4" stroke="#81AAE4" stroke-width="0.9"/>
<path d="M336.2,696.7L330.4,714.1L327.3,716.0L333.3,698.6Z" fill="#82AAE4" stroke="#82AAE4" stroke-width="0.9"/>
<path d="M330.4,714.1L326.0,731.7L323.0,733.7L327.3,716.0Z" fill="#82AAE5" stroke="#82AAE5" stroke-width="0.9"/>
<path d="M326.0,731.7L323.3,749.5L320.2,751.6L323.0,733.7Z" fill="#82ABE6" stroke="#82ABE6" stroke-width="0.9"/>
<path d="M323.3,749.5L322.3,767.5L319.2,769.7L320.2,751.6Z" fill="#83ABE6" stroke="#83ABE6" stroke-width="0.9"/>
<path d="M322.3,767.5L323.0,785.6L319.8,787.9L319.2,769.7Z" fill="#83ACE6" stroke="#83ACE6" stroke-width="0.9"/>
<path d="M1888.9,515.0L1868.2,503.3L1870.3,504.4L1891.1,516.2Z" fill="#9D5756" stroke="#9D5756" stroke-width="0.9"/>
<path d="M1935.4,545.2L1920.5,534.9L1922.8,536.1L1937.8,546.4Z" fill="#3D6391" stroke="#3D6391" stroke-width="0.9"/>
<path d="M1920.5,534.9L1905.0,524.8L1907.2,526.0L1922.8,536.1Z" fill="#3D6391" stroke="#3D6391" stroke-width="0.9"/>
<path d="M1905.0,524.8L1888.9,515.0L1891.1,516.2L1907.2,526.0Z" fill="#3D6391" stroke="#3D6391" stroke-width="0.9"/>
<path d="M1578.6,1139.1L1617.8,1129.8L1619.5,1133.9L1580.2,1143.2Z" fill="#B64D4A" stroke="#B64D4A" stroke-width="0.9"/>
<path d="M1617.8,1129.8L1655.8,1119.7L1657.7,1123.7L1619.5,1133.9Z" fill="#B44C49" stroke="#B44C49" stroke-width="0.9"/>
<path d="M1655.8,1119.7L1692.6,1108.7L1694.6,1112.6L1657.7,1123.7Z" fill="#B24B48" stroke="#B24B48" stroke-width="0.9"/>
<path d="M1692.6,1108.7L1728.0,1096.9L1730.1,1100.8L1694.6,1112.6Z" fill="#B14A47" stroke="#B14A47" stroke-width="0.9"/>
<path d="M1728.0,1096.9L1761.9,1084.4L1764.2,1088.2L1730.1,1100.8Z" fill="#AF4947" stroke="#AF4947" stroke-width="0.9"/>
<path d="M1761.9,1084.4L1794.3,1071.2L1796.7,1074.9L1764.2,1088.2Z" fill="#AD4946" stroke="#AD4946" stroke-width="0.9"/>
<path d="M1794.3,1071.2L1825.2,1057.3L1827.7,1061.0L1796.7,1074.9Z" fill="#AC4845" stroke="#AC4845" stroke-width="0.9"/>
<path d="M1825.2,1057.3L1854.4,1042.8L1857.0,1046.4L1827.7,1061.0Z" fill="#AA4744" stroke="#AA4744" stroke-width="0.9"/>
<path d="M1854.4,1042.8L1881.9,1027.8L1884.6,1031.3L1857.0,1046.4Z" fill="#A94644" stroke="#A94644" stroke-width="0.9"/>
<path d="M1881.9,1027.8L1907.7,1012.3L1910.5,1015.7L1884.6,1031.3Z" fill="#A74643" stroke="#A74643" stroke-width="0.9"/>
<path d="M1907.7,1012.3L1931.7,996.3L1934.6,999.6L1910.5,1015.7Z" fill="#A64543" stroke="#A64543" stroke-width="0.9"/>
<path d="M1931.7,996.3L1953.9,979.9L1956.8,983.1L1934.6,999.6Z" fill="#A54542" stroke="#A54542" stroke-width="0.9"/>
<path d="M1953.9,979.9L1974.3,963.1L1977.3,966.3L1956.8,983.1Z" fill="#A34441" stroke="#A34441" stroke-width="0.9"/>
<path d="M1974.3,963.1L1992.8,946.0L1995.9,949.1L1977.3,966.3Z" fill="#A24441" stroke="#A24441" stroke-width="0.9"/>
<path d="M1992.8,946.0L2009.6,928.7L2012.7,931.7L1995.9,949.1Z" fill="#A14340" stroke="#A14340" stroke-width="0.9"/>
<path d="M2009.6,928.7L2024.4,911.1L2027.6,914.0L2012.7,931.7Z" fill="#A04340" stroke="#A04340" stroke-width="0.9"/>
<path d="M2024.4,911.1L2037.5,893.4L2040.6,896.2L2027.6,914.0Z" fill="#9F4240" stroke="#9F4240" stroke-width="0.9"/>
<path d="M2037.5,893.4L2048.7,875.5L2051.9,878.2L2040.6,896.2Z" fill="#9E423F" stroke="#9E423F" stroke-width="0.9"/>
<path d="M2048.7,875.5L2058.1,857.6L2061.3,860.2L2051.9,878.2Z" fill="#9D413F" stroke="#9D413F" stroke-width="0.9"/>
<path d="M2058.1,857.6L2065.7,839.6L2068.9,842.1L2061.3,860.2Z" fill="#9C413E" stroke="#9C413E" stroke-width="0.9"/>
<path d="M2065.7,839.6L2071.5,821.6L2074.7,824.0L2068.9,842.1Z" fill="#9B403E" stroke="#9B403E" stroke-width="0.9"/>
<path d="M2071.5,821.6L2075.6,803.6L2078.8,806.0L2074.7,824.0Z" fill="#9A403E" stroke="#9A403E" stroke-width="0.9"/>
<path d="M2075.6,803.6L2078.0,785.7L2081.2,788.0L2078.8,806.0Z" fill="#99403D" stroke="#99403D" stroke-width="0.9"/>
<path d="M2078.0,785.7L2078.7,767.9L2081.8,770.1L2081.2,788.0Z" fill="#983F3D" stroke="#983F3D" stroke-width="0.9"/>
<path d="M2078.7,767.9L2077.7,750.3L2080.8,752.4L2081.8,770.1Z" fill="#983F3D" stroke="#983F3D" stroke-width="0.9"/>
<path d="M2077.7,750.3L2075.2,732.8L2078.3,734.8L2080.8,752.4Z" fill="#973F3C" stroke="#973F3C" stroke-width="0.9"/>
<path d="M2075.2,732.8L2071.1,715.5L2074.1,717.5L2078.3,734.8Z" fill="#963E3C" stroke="#963E3C" stroke-width="0.9"/>
<path d="M2071.1,715.5L2065.4,698.4L2068.4,700.3L2074.1,717.5Z" fill="#963E3C" stroke="#963E3C" stroke-width="0.9"/>
<path d="M2065.4,698.4L2058.3,681.6L2061.2,683.5L2068.4,700.3Z" fill="#953E3C" stroke="#953E3C" stroke-width="0.9"/>
<path d="M2058.3,681.6L2049.7,665.1L2052.6,666.8L2061.2,683.5Z" fill="#953E3C" stroke="#953E3C" stroke-width="0.9"/>
<path d="M2049.7,665.1L2039.8,648.9L2042.7,650.5L2052.6,666.8Z" fill="#943E3B" stroke="#943E3B" stroke-width="0.9"/>
<path d="M2039.8,648.9L2028.5,632.9L2031.3,634.6L2042.7,650.5Z" fill="#943E3B" stroke="#943E3B" stroke-width="0.9"/>
<path d="M2028.5,632.9L2016.0,617.4L2018.7,618.9L2031.3,634.6Z" fill="#943D3B" stroke="#943D3B" stroke-width="0.9"/>
<path d="M2016.0,617.4L2002.1,602.1L2004.8,603.6L2018.7,618.9Z" fill="#943D3B" stroke="#943D3B" stroke-width="0.9"/>
<path d="M2002.1,602.1L1987.1,587.3L1989.7,588.7L2004.8,603.6Z" fill="#933D3B" stroke="#933D3B" stroke-width="0.9"/>
<path d="M1987.1,587.3L1971.0,572.8L1973.5,574.2L1989.7,588.7Z" fill="#933D3B" stroke="#933D3B" stroke-width="0.9"/>
<path d="M1971.0,572.8L1953.7,558.8L1956.2,560.1L1973.5,574.2Z" fill="#933D3B" stroke="#933D3B" stroke-width="0.9"/>
<path d="M1953.7,558.8L1935.4,545.2L1937.8,546.4L1956.2,560.1Z" fill="#933D3B" stroke="#933D3B" stroke-width="0.9"/>
<path d="M1471.1,1159.1L1507.6,1153.2L1508.9,1157.3L1472.2,1163.3Z" fill="#99B759" stroke="#99B759" stroke-width="0.9"/>
<path d="M1507.6,1153.2L1543.5,1146.5L1544.9,1150.6L1508.9,1157.3Z" fill="#97B558" stroke="#97B558" stroke-width="0.9"/>
<path d="M1543.5,1146.5L1578.6,1139.1L1580.2,1143.2L1544.9,1150.6Z" fill="#96B357" stroke="#96B357" stroke-width="0.9"/>
<path d="M1018.6,1170.1L1059.5,1173.7L1058.9,1178.0L1017.8,1174.4Z" fill="#8C6DAD" stroke="#8C6DAD" stroke-width="0.9"/>
<path d="M1059.5,1173.7L1100.8,1176.4L1100.4,1180.7L1058.9,1178.0Z" fill="#8A6CAB" stroke="#8A6CAB" stroke-width="0.9"/>
<path d="M1100.8,1176.4L1142.3,1178.1L1142.1,1182.5L1100.4,1180.7Z" fill="#896BAA" stroke="#896BAA" stroke-width="0.9"/>
<path d="M1142.3,1178.1L1184.0,1179.0L1184.0,1183.3L1142.1,1182.5Z" fill="#886AA9" stroke="#886AA9" stroke-width="0.9"/>
<path d="M1184.0,1179.0L1225.8,1178.9L1225.9,1183.2L1184.0,1183.3Z" fill="#8769A7" stroke="#8769A7" stroke-width="0.9"/>
<path d="M1225.8,1178.9L1267.4,1177.8L1267.7,1182.2L1225.9,1183.2Z" fill="#8568A6" stroke="#8568A6" stroke-width="0.9"/>
<path d="M1267.4,1177.8L1308.9,1175.9L1309.4,1180.2L1267.7,1182.2Z" fill="#8467A4" stroke="#8467A4" stroke-width="0.9"/>
<path d="M1308.9,1175.9L1350.2,1173.0L1350.8,1177.3L1309.4,1180.2Z" fill="#8366A2" stroke="#8366A2" stroke-width="0.9"/>
<path d="M1350.2,1173.0L1391.0,1169.3L1391.8,1173.6L1350.8,1177.3Z" fill="#8165A1" stroke="#8165A1" stroke-width="0.9"/>
<path d="M1391.0,1169.3L1431.3,1164.6L1432.3,1168.9L1391.8,1173.6Z" fill="#80649F" stroke="#80649F" stroke-width="0.9"/>
<path d="M1431.3,1164.6L1471.1,1159.1L1472.2,1163.3L1432.3,1168.9Z" fill="#7F639E" stroke="#7F639E" stroke-width="0.9"/>
<path d="M915.6,1156.9L949.5,1161.9L948.4,1166.2L914.4,1161.1Z" fill="#FFA851" stroke="#FFA851" stroke-width="0.9"/>
<path d="M949.5,1161.9L983.8,1166.4L982.9,1170.6L948.4,1166.2Z" fill="#FFA751" stroke="#FFA751" stroke-width="0.9"/>
<path d="M983.8,1166.4L1018.6,1170.1L1017.8,1174.4L982.9,1170.6Z" fill="#FFA650" stroke="#FFA650" stroke-width="0.9"/>
<path d="M689.4,1102.5L724.2,1113.6L722.3,1117.5L687.3,1106.4Z" fill="#375B89" stroke="#375B89" stroke-width="0.9"/>
<path d="M724.2,1113.6L760.4,1123.9L758.5,1127.9L722.3,1117.5Z" fill="#375B89" stroke="#375B89" stroke-width="0.9"/>
<path d="M760.4,1123.9L797.7,1133.4L796.0,1137.5L758.5,1127.9Z" fill="#375B88" stroke="#375B88" stroke-width="0.9"/>
<path d="M797.7,1133.4L836.0,1142.1L834.5,1146.2L796.0,1137.5Z" fill="#375A87" stroke="#375A87" stroke-width="0.9"/>
<path d="M836.0,1142.1L875.4,1149.9L874.0,1154.1L834.5,1146.2Z" fill="#365A87" stroke="#365A87" stroke-width="0.9"/>
<path d="M875.4,1149.9L915.6,1156.9L914.4,1161.1L874.0,1154.1Z" fill="#365986" stroke="#365986" stroke-width="0.9"/>
<path d="M528.3,1033.0L552.2,1045.7L549.6,1049.3L525.6,1036.5Z" fill="#8B3636" stroke="#8B3636" stroke-width="0.9"/>
<path d="M552.2,1045.7L577.3,1058.0L574.8,1061.7L549.6,1049.3Z" fill="#8B3636" stroke="#8B3636" stroke-width="0.9"/>
<path d="M577.3,1058.0L603.6,1069.9L601.2,1073.6L574.8,1061.7Z" fill="#8B3636" stroke="#8B3636" stroke-width="0.9"/>
<path d="M603.6,1069.9L631.1,1081.3L628.8,1085.0L601.2,1073.6Z" fill="#8B3636" stroke="#8B3636" stroke-width="0.9"/>
<path d="M631.1,1081.3L659.7,1092.1L657.5,1096.0L628.8,1085.0Z" fill="#8B3636" stroke="#8B3636" stroke-width="0.9"/>
<path d="M659.7,1092.1L689.4,1102.5L687.3,1106.4L657.5,1096.0Z" fill="#8A3636" stroke="#8A3636" stroke-width="0.9"/>
<path d="M428.0,964.2L445.4,978.6L442.5,981.8L425.0,967.4Z" fill="#70893A" stroke="#70893A" stroke-width="0.9"/>
<path d="M445.4,978.6L464.2,992.6L461.3,995.9L442.5,981.8Z" fill="#70893A" stroke="#70893A" stroke-width="0.9"/>
<path d="M464.2,992.6L484.3,1006.4L481.4,1009.8L461.3,995.9Z" fill="#70893A" stroke="#70893A" stroke-width="0.9"/>
<path d="M484.3,1006.4L505.6,1019.9L502.9,1023.3L481.4,1009.8Z" fill="#70893B" stroke="#70893B" stroke-width="0.9"/>
<path d="M505.6,1019.9L528.3,1033.0L525.6,1036.5L502.9,1023.3Z" fill="#70893B" stroke="#70893B" stroke-width="0.9"/>
<path d="M324.4,797.5L327.6,814.4L324.4,816.8L321.2,799.9Z" fill="#574370" stroke="#574370" stroke-width="0.9"/>
<path d="M327.6,814.4L332.4,831.3L329.2,833.8L324.4,816.8Z" fill="#584371" stroke="#584371" stroke-width="0.9"/>
<path d="M332.4,831.3L338.7,848.3L335.5,850.8L329.2,833.8Z" fill="#584471" stroke="#584471" stroke-width="0.9"/>
<path d="M338.7,848.3L346.6,865.2L343.5,867.8L335.5,850.8Z" fill="#584471" stroke="#584471" stroke-width="0.9"/>
<path d="M346.6,865.2L356.2,882.0L353.0,884.8L343.5,867.8Z" fill="#594472" stroke="#594472" stroke-width="0.9"/>
<path d="M356.2,882.0L367.3,898.8L364.1,901.6L353.0,884.8Z" fill="#594572" stroke="#594572" stroke-width="0.9"/>
<path d="M367.3,898.8L380.0,915.4L376.9,918.3L364.1,901.6Z" fill="#594572" stroke="#594572" stroke-width="0.9"/>
<path d="M380.0,915.4L394.4,931.9L391.3,934.9L376.9,918.3Z" fill="#5A4572" stroke="#5A4572" stroke-width="0.9"/>
<path d="M394.4,931.9L410.4,948.2L407.3,951.3L391.3,934.9Z" fill="#5A4673" stroke="#5A4673" stroke-width="0.9"/>
<path d="M410.4,948.2L428.0,964.2L425.0,967.4L407.3,951.3Z" fill="#5A4673" stroke="#5A4673" stroke-width="0.9"/>
<path d="M323.0,785.6L324.4,797.5L321.2,799.9L319.8,787.9Z" fill="#2C768A" stroke="#2C768A" stroke-width="0.9"/>
<path d="M767.4,413.1L739.2,420.9L737.6,421.3L765.9,413.4Z" fill="#7499CE" stroke="#7499CE" stroke-width="0.9"/>
<path d="M739.2,420.9L711.5,429.2L709.9,429.7L737.6,421.3Z" fill="#759ACF" stroke="#759ACF" stroke-width="0.9"/>
<path d="M711.5,429.2L684.4,438.1L682.7,438.6L709.9,429.7Z" fill="#769BD0" stroke="#769BD0" stroke-width="0.9"/>
<path d="M684.4,438.1L658.0,447.5L656.1,448.0L682.7,438.6Z" fill="#769BD1" stroke="#769BD1" stroke-width="0.9"/>
<path d="M658.0,447.5L632.2,457.4L630.2,457.9L656.1,448.0Z" fill="#779CD2" stroke="#779CD2" stroke-width="0.9"/>
<path d="M632.2,457.4L607.1,467.8L605.0,468.3L630.2,457.9Z" fill="#779DD3" stroke="#779DD3" stroke-width="0.9"/>
<path d="M607.1,467.8L582.7,478.6L580.6,479.3L605.0,468.3Z" fill="#789ED4" stroke="#789ED4" stroke-width="0.9"/>
<path d="M582.7,478.6L559.2,490.0L556.9,490.7L580.6,479.3Z" fill="#799ED5" stroke="#799ED5" stroke-width="0.9"/>
<path d="M559.2,490.0L536.5,501.9L534.1,502.6L556.9,490.7Z" fill="#799FD6" stroke="#799FD6" stroke-width="0.9"/>
<path d="M536.5,501.9L514.6,514.2L512.2,515.0L534.1,502.6Z" fill="#7AA0D7" stroke="#7AA0D7" stroke-width="0.9"/>
<path d="M514.6,514.2L493.7,527.1L491.2,527.9L512.2,515.0Z" fill="#7AA0D7" stroke="#7AA0D7" stroke-width="0.9"/>
<path d="M493.7,527.1L473.8,540.3L471.2,541.2L491.2,527.9Z" fill="#7BA1D8" stroke="#7BA1D8" stroke-width="0.9"/>
<path d="M473.8,540.3L454.9,554.1L452.3,555.0L471.2,541.2Z" fill="#7BA1D9" stroke="#7BA1D9" stroke-width="0.9"/>
<path d="M454.9,554.1L437.1,568.2L434.4,569.2L452.3,555.0Z" fill="#7BA2DA" stroke="#7BA2DA" stroke-width="0.9"/>
<path d="M437.1,568.2L420.5,582.8L417.6,583.8L434.4,569.2Z" fill="#7CA3DB" stroke="#7CA3DB" stroke-width="0.9"/>
<path d="M420.5,582.8L405.0,597.8L402.0,598.9L417.6,583.8Z" fill="#7CA3DB" stroke="#7CA3DB" stroke-width="0.9"/>
<path d="M405.0,597.8L390.7,613.1L387.7,614.3L402.0,598.9Z" fill="#7DA4DC" stroke="#7DA4DC" stroke-width="0.9"/>
<path d="M390.7,613.1L377.7,628.9L374.6,630.1L387.7,614.3Z" fill="#7DA4DD" stroke="#7DA4DD" stroke-width="0.9"/>
<path d="M377.7,628.9L366.0,645.0L362.9,646.3L374.6,630.1Z" fill="#7DA5DD" stroke="#7DA5DD" stroke-width="0.9"/>
<path d="M366.0,645.0L355.8,661.4L352.6,662.8L362.9,646.3Z" fill="#7EA5DE" stroke="#7EA5DE" stroke-width="0.9"/>
<path d="M355.8,661.4L346.9,678.2L343.7,679.6L352.6,662.8Z" fill="#7EA5DE" stroke="#7EA5DE" stroke-width="0.9"/>
<path d="M346.9,678.2L339.5,695.2L336.2,696.7L343.7,679.6Z" fill="#7EA6DF" stroke="#7EA6DF" stroke-width="0.9"/>
<path d="M339.5,695.2L333.7,712.5L330.4,714.1L336.2,696.7Z" fill="#7FA6DF" stroke="#7FA6DF" stroke-width="0.9"/>
<path d="M333.7,712.5L329.4,730.0L326.0,731.7L330.4,714.1Z" fill="#7FA6E0" stroke="#7FA6E0" stroke-width="0.9"/>
<path d="M329.4,730.0L326.8,747.8L323.3,749.5L326.0,731.7Z" fill="#7FA7E0" stroke="#7FA7E0" stroke-width="0.9"/>
<path d="M326.8,747.8L325.8,765.7L322.3,767.5L323.3,749.5Z" fill="#7FA7E0" stroke="#7FA7E0" stroke-width="0.9"/>
<path d="M325.8,765.7L326.5,783.7L323.0,785.6L322.3,767.5Z" fill="#7FA7E1" stroke="#7FA7E1" stroke-width="0.9"/>
<path d="M1886.5,514.3L1865.8,502.6L1868.2,503.3L1888.9,515.0Z" fill="#AB5F5E" stroke="#AB5F5E" stroke-width="0.9"/>
<path d="M1865.8,502.6L1844.4,491.3L1846.7,492.0L1868.2,503.3Z" fill="#AC605E" stroke="#AC605E" stroke-width="0.9"/>
<path d="M1844.4,491.3L1822.3,480.5L1824.4,481.1L1846.7,492.0Z" fill="#AC605E" stroke="#AC605E" stroke-width="0.9"/>
<path d="M1822.3,480.5L1799.4,470.1L1801.5,470.7L1824.4,481.1Z" fill="#AC605E" stroke="#AC605E" stroke-width="0.9"/>
<path d="M1799.4,470.1L1775.9,460.2L1777.8,460.7L1801.5,470.7Z" fill="#AD605E" stroke="#AD605E" stroke-width="0.9"/>
<path d="M1775.9,460.2L1751.7,450.7L1753.6,451.2L1777.8,460.7Z" fill="#AD605F" stroke="#AD605F" stroke-width="0.9"/>
<path d="M1751.7,450.7L1726.9,441.7L1728.7,442.1L1753.6,451.2Z" fill="#AD615F" stroke="#AD615F" stroke-width="0.9"/>
<path d="M1726.9,441.7L1701.5,433.1L1703.2,433.5L1728.7,442.1Z" fill="#AE615F" stroke="#AE615F" stroke-width="0.9"/>
<path d="M1701.5,433.1L1675.6,425.0L1677.2,425.4L1703.2,433.5Z" fill="#AE615F" stroke="#AE615F" stroke-width="0.9"/>
<path d="M1675.6,425.0L1649.2,417.3L1650.7,417.7L1677.2,425.4Z" fill="#AF6160" stroke="#AF6160" stroke-width="0.9"/>
<path d="M1649.2,417.3L1622.4,410.1L1623.8,410.5L1650.7,417.7Z" fill="#AF6260" stroke="#AF6260" stroke-width="0.9"/>
<path d="M1932.8,544.3L1917.9,534.0L1920.5,534.9L1935.4,545.2Z" fill="#426C9F" stroke="#426C9F" stroke-width="0.9"/>
<path d="M1917.9,534.0L1902.5,524.0L1905.0,524.8L1920.5,534.9Z" fill="#426C9F" stroke="#426C9F" stroke-width="0.9"/>
<path d="M1902.5,524.0L1886.5,514.3L1888.9,515.0L1905.0,524.8Z" fill="#426C9F" stroke="#426C9F" stroke-width="0.9"/>
<path d="M1576.9,1135.3L1615.9,1126.1L1617.8,1129.8L1578.6,1139.1Z" fill="#BA4E4B" stroke="#BA4E4B" stroke-width="0.9"/>
<path d="M1615.9,1126.1L1653.8,1116.0L1655.8,1119.7L1617.8,1129.8Z" fill="#B84D4A" stroke="#B84D4A" stroke-width="0.9"/>
<path d="M1653.8,1116.0L1690.4,1105.1L1692.6,1108.7L1655.8,1119.7Z" fill="#B74D4A" stroke="#B74D4A" stroke-width="0.9"/>
<path d="M1690.4,1105.1L1725.6,1093.4L1728.0,1096.9L1692.6,1108.7Z" fill="#B64C49" stroke="#B64C49" stroke-width="0.9"/>
<path d="M1725.6,1093.4L1759.4,1080.9L1761.9,1084.4L1728.0,1096.9Z" fill="#B54C49" stroke="#B54C49" stroke-width="0.9"/>
<path d="M1759.4,1080.9L1791.7,1067.8L1794.3,1071.2L1761.9,1084.4Z" fill="#B44B48" stroke="#B44B48" stroke-width="0.9"/>
<path d="M1791.7,1067.8L1822.4,1054.0L1825.2,1057.3L1794.3,1071.2Z" fill="#B34B48" stroke="#B34B48" stroke-width="0.9"/>
<path d="M1822.4,1054.0L1851.5,1039.6L1854.4,1042.8L1825.2,1057.3Z" fill="#B24A47" stroke="#B24A47" stroke-width="0.9"/>
<path d="M1851.5,1039.6L1878.9,1024.6L1881.9,1027.8L1854.4,1042.8Z" fill="#B14A47" stroke="#B14A47" stroke-width="0.9"/>
<path d="M1878.9,1024.6L1904.6,1009.2L1907.7,1012.3L1881.9,1027.8Z" fill="#B04947" stroke="#B04947" stroke-width="0.9"/>
<path d="M1904.6,1009.2L1928.5,993.3L1931.7,996.3L1907.7,1012.3Z" fill="#AF4946" stroke="#AF4946" stroke-width="0.9"/>
<path d="M1928.5,993.3L1950.7,977.0L1953.9,979.9L1931.7,996.3Z" fill="#AE4846" stroke="#AE4846" stroke-width="0.9"/>
<path d="M1950.7,977.0L1971.0,960.3L1974.3,963.1L1953.9,979.9Z" fill="#AD4845" stroke="#AD4845" stroke-width="0.9"/>
<path d="M1971.0,960.3L1989.5,943.3L1992.8,946.0L1974.3,963.1Z" fill="#AC4845" stroke="#AC4845" stroke-width="0.9"/>
<path d="M1989.5,943.3L2006.2,926.1L2009.6,928.7L1992.8,946.0Z" fill="#AB4745" stroke="#AB4745" stroke-width="0.9"/>
<path d="M2006.2,926.1L2021.0,908.6L2024.4,911.1L2009.6,928.7Z" fill="#AA4744" stroke="#AA4744" stroke-width="0.9"/>
<path d="M2021.0,908.6L2034.0,891.0L2037.5,893.4L2024.4,911.1Z" fill="#AA4744" stroke="#AA4744" stroke-width="0.9"/>
<path d="M2034.0,891.0L2045.2,873.2L2048.7,875.5L2037.5,893.4Z" fill="#A94644" stroke="#A94644" stroke-width="0.9"/>
<path d="M2045.2,873.2L2054.6,855.3L2058.1,857.6L2048.7,875.5Z" fill="#A84643" stroke="#A84643" stroke-width="0.9"/>
<path d="M2054.6,855.3L2062.2,837.4L2065.7,839.6L2058.1,857.6Z" fill="#A74643" stroke="#A74643" stroke-width="0.9"/>
<path d="M2062.2,837.4L2068.0,819.5L2071.5,821.6L2065.7,839.6Z" fill="#A74543" stroke="#A74543" stroke-width="0.9"/>
<path d="M2068.0,819.5L2072.1,801.6L2075.6,803.6L2071.5,821.6Z" fill="#A64542" stroke="#A64542" stroke-width="0.9"/>
<path d="M2072.1,801.6L2074.5,783.8L2078.0,785.7L2075.6,803.6Z" fill="#A64542" stroke="#A64542" stroke-width="0.9"/>
<path d="M2074.5,783.8L2075.2,766.1L2078.7,767.9L2078.0,785.7Z" fill="#A54542" stroke="#A54542" stroke-width="0.9"/>
<path d="M2075.2,766.1L2074.3,748.5L2077.7,750.3L2078.7,767.9Z" fill="#A54442" stroke="#A54442" stroke-width="0.9"/>
<path d="M2074.3,748.5L2071.8,731.1L2075.2,732.8L2077.7,750.3Z" fill="#A44442" stroke="#A44442" stroke-width="0.9"/>
<path d="M2071.8,731.1L2067.7,713.9L2071.1,715.5L2075.2,732.8Z" fill="#A44441" stroke="#A44441" stroke-width="0.9"/>
<path d="M2067.7,713.9L2062.1,696.9L2065.4,698.4L2071.1,715.5Z" fill="#A34441" stroke="#A34441" stroke-width="0.9"/>
<path d="M2062.1,696.9L2055.0,680.2L2058.3,681.6L2065.4,698.4Z" fill="#A34441" stroke="#A34441" stroke-width="0.9"/>
<path d="M2055.0,680.2L2046.6,663.7L2049.7,665.1L2058.3,681.6Z" fill="#A34441" stroke="#A34441" stroke-width="0.9"/>
<path d="M2046.6,663.7L2036.7,647.6L2039.8,648.9L2049.7,665.1Z" fill="#A24341" stroke="#A24341" stroke-width="0.9"/>
<path d="M2036.7,647.6L2025.5,631.7L2028.5,632.9L2039.8,648.9Z" fill="#A24341" stroke="#A24341" stroke-width="0.9"/>
<path d="M2025.5,631.7L2013.0,616.2L2016.0,617.4L2028.5,632.9Z" fill="#A24341" stroke="#A24341" stroke-width="0.9"/>
<path d="M2013.0,616.2L1999.2,601.0L2002.1,602.1L2016.0,617.4Z" fill="#A24341" stroke="#A24341" stroke-width="0.9"/>
<path d="M1999.2,601.0L1984.3,586.3L1987.1,587.3L2002.1,602.1Z" fill="#A24341" stroke="#A24341" stroke-width="0.9"/>
<path d="M1984.3,586.3L1968.2,571.9L1971.0,572.8L1987.1,587.3Z" fill="#A24341" stroke="#A24341" stroke-width="0.9"/>
<path d="M1968.2,571.9L1951.0,557.9L1953.7,558.8L1971.0,572.8Z" fill="#A24341" stroke="#A24341" stroke-width="0.9"/>
<path d="M1951.0,557.9L1932.8,544.3L1935.4,545.2L1953.7,558.8Z" fill="#A24341" stroke="#A24341" stroke-width="0.9"/>
<path d="M1469.9,1155.2L1506.2,1149.3L1507.6,1153.2L1471.1,1159.1Z" fill="#9AB959" stroke="#9AB959" stroke-width="0.9"/>
<path d="M1506.2,1149.3L1541.9,1142.6L1543.5,1146.5L1507.6,1153.2Z" fill="#99B859" stroke="#99B859" stroke-width="0.9"/>
<path d="M1541.9,1142.6L1576.9,1135.3L1578.6,1139.1L1543.5,1146.5Z" fill="#98B758" stroke="#98B758" stroke-width="0.9"/>
<path d="M1019.4,1166.1L1060.1,1169.7L1059.5,1173.7L1018.6,1170.1Z" fill="#8769A8" stroke="#8769A8" stroke-width="0.9"/>
<path d="M1060.1,1169.7L1101.2,1172.3L1100.8,1176.4L1059.5,1173.7Z" fill="#8668A7" stroke="#8668A7" stroke-width="0.9"/>
<path d="M1101.2,1172.3L1142.6,1174.1L1142.3,1178.1L1100.8,1176.4Z" fill="#8568A6" stroke="#8568A6" stroke-width="0.9"/>
<path d="M1142.6,1174.1L1184.1,1174.9L1184.0,1179.0L1142.3,1178.1Z" fill="#8567A5" stroke="#8567A5" stroke-width="0.9"/>
<path d="M1184.1,1174.9L1225.6,1174.8L1225.8,1178.9L1184.0,1179.0Z" fill="#8466A5" stroke="#8466A5" stroke-width="0.9"/>
<path d="M1225.6,1174.8L1267.1,1173.8L1267.4,1177.8L1225.8,1178.9Z" fill="#8366A4" stroke="#8366A4" stroke-width="0.9"/>
<path d="M1267.1,1173.8L1308.4,1171.9L1308.9,1175.9L1267.4,1177.8Z" fill="#8265A3" stroke="#8265A3" stroke-width="0.9"/>
<path d="M1308.4,1171.9L1349.5,1169.0L1350.2,1173.0L1308.9,1175.9Z" fill="#8265A2" stroke="#8265A2" stroke-width="0.9"/>
<path d="M1349.5,1169.0L1390.1,1165.3L1391.0,1169.3L1350.2,1173.0Z" fill="#8164A1" stroke="#8164A1" stroke-width="0.9"/>
<path d="M1390.1,1165.3L1430.3,1160.7L1431.3,1164.6L1391.0,1169.3Z" fill="#8063A0" stroke="#8063A0" stroke-width="0.9"/>
<path d="M1430.3,1160.7L1469.9,1155.2L1471.1,1159.1L1431.3,1164.6Z" fill="#7F639F" stroke="#7F639F" stroke-width="0.9"/>
<path d="M916.9,1153.0L950.6,1158.0L949.5,1161.9L915.6,1156.9Z" fill="#FFA24C" stroke="#FFA24C" stroke-width="0.9"/>
<path d="M950.6,1158.0L984.8,1162.4L983.8,1166.4L949.5,1161.9Z" fill="#FFA14B" stroke="#FFA14B" stroke-width="0.9"/>
<path d="M984.8,1162.4L1019.4,1166.1L1018.6,1170.1L983.8,1166.4Z" fill="#FFA04B" stroke="#FFA04B" stroke-width="0.9"/>
<path d="M691.7,1098.9L726.4,1109.9L724.2,1113.6L689.4,1102.5Z" fill="#315582" stroke="#315582" stroke-width="0.9"/>
<path d="M726.4,1109.9L762.4,1120.2L760.4,1123.9L724.2,1113.6Z" fill="#315581" stroke="#315581" stroke-width="0.9"/>
<path d="M762.4,1120.2L799.5,1129.6L797.7,1133.4L760.4,1123.9Z" fill="#315481" stroke="#315481" stroke-width="0.9"/>
<path d="M799.5,1129.6L837.7,1138.3L836.0,1142.1L797.7,1133.4Z" fill="#315481" stroke="#315481" stroke-width="0.9"/>
<path d="M837.7,1138.3L876.8,1146.0L875.4,1149.9L836.0,1142.1Z" fill="#315480" stroke="#315480" stroke-width="0.9"/>
<path d="M876.8,1146.0L916.9,1153.0L915.6,1156.9L875.4,1149.9Z" fill="#305380" stroke="#305380" stroke-width="0.9"/>
<path d="M531.2,1029.8L555.0,1042.4L552.2,1045.7L528.3,1033.0Z" fill="#843131" stroke="#843131" stroke-width="0.9"/>
<path d="M555.0,1042.4L580.1,1054.7L577.3,1058.0L552.2,1045.7Z" fill="#843131" stroke="#843131" stroke-width="0.9"/>
<path d="M580.1,1054.7L606.3,1066.5L603.6,1069.9L577.3,1058.0Z" fill="#843131" stroke="#843131" stroke-width="0.9"/>
<path d="M606.3,1066.5L633.6,1077.8L631.1,1081.3L603.6,1069.9Z" fill="#843030" stroke="#843030" stroke-width="0.9"/>
<path d="M633.6,1077.8L662.1,1088.6L659.7,1092.1L631.1,1081.3Z" fill="#843030" stroke="#843030" stroke-width="0.9"/>
<path d="M662.1,1088.6L691.7,1098.9L689.4,1102.5L659.7,1092.1Z" fill="#833030" stroke="#833030" stroke-width="0.9"/>
<path d="M431.3,961.4L448.7,975.7L445.4,978.6L428.0,964.2Z" fill="#6A8336" stroke="#6A8336" stroke-width="0.9"/>
<path d="M448.7,975.7L467.3,989.7L464.2,992.6L445.4,978.6Z" fill="#6A8336" stroke="#6A8336" stroke-width="0.9"/>
<path d="M467.3,989.7L487.4,1003.4L484.3,1006.4L464.2,992.6Z" fill="#6A8336" stroke="#6A8336" stroke-width="0.9"/>
<path d="M487.4,1003.4L508.7,1016.8L505.6,1019.9L484.3,1006.4Z" fill="#6A8236" stroke="#6A8236" stroke-width="0.9"/>
<path d="M508.7,1016.8L531.2,1029.8L528.3,1033.0L505.6,1019.9Z" fill="#6A8236" stroke="#6A8236" stroke-width="0.9"/>
<path d="M327.9,795.6L331.1,812.4L327.6,814.4L324.4,797.5Z" fill="#55416D" stroke="#55416D" stroke-width="0.9"/>
<path d="M331.1,812.4L335.9,829.2L332.4,831.3L327.6,814.4Z" fill="#55416D" stroke="#55416D" stroke-width="0.9"/>
<path d="M335.9,829.2L342.2,846.0L338.7,848.3L332.4,831.3Z" fill="#55416D" stroke="#55416D" stroke-width="0.9"/>
<path d="M342.2,846.0L350.1,862.9L346.6,865.2L338.7,848.3Z" fill="#55416D" stroke="#55416D" stroke-width="0.9"/>
<path d="M350.1,862.9L359.6,879.6L356.2,882.0L346.6,865.2Z" fill="#55416D" stroke="#55416D" stroke-width="0.9"/>
<path d="M359.6,879.6L370.7,896.3L367.3,898.8L356.2,882.0Z" fill="#55416E" stroke="#55416E" stroke-width="0.9"/>
<path d="M370.7,896.3L383.4,912.9L380.0,915.4L367.3,898.8Z" fill="#55426E" stroke="#55426E" stroke-width="0.9"/>
<path d="M383.4,912.9L397.8,929.3L394.4,931.9L380.0,915.4Z" fill="#55426E" stroke="#55426E" stroke-width="0.9"/>
<path d="M397.8,929.3L413.7,945.5L410.4,948.2L394.4,931.9Z" fill="#56426E" stroke="#56426E" stroke-width="0.9"/>
<path d="M413.7,945.5L431.3,961.4L428.0,964.2L410.4,948.2Z" fill="#56426E" stroke="#56426E" stroke-width="0.9"/>
<path d="M326.5,783.7L327.9,795.6L324.4,797.5L323.0,785.6Z" fill="#2B7286" stroke="#2B7286" stroke-width="0.9"/>
<path d="M1509.8,386.3L1479.6,381.2L1480.6,381.0L1510.9,386.1Z" fill="#6C8DBE" stroke="#6C8DBE" stroke-width="0.9"/>
<path d="M1479.6,381.2L1449.0,376.7L1449.9,376.5L1480.6,381.0Z" fill="#6C8EBF" stroke="#6C8EBF" stroke-width="0.9"/>
<path d="M1449.0,376.7L1418.2,372.7L1418.9,372.5L1449.9,376.5Z" fill="#6C8EBF" stroke="#6C8EBF" stroke-width="0.9"/>
<path d="M1418.2,372.7L1387.1,369.2L1387.8,369.0L1418.9,372.5Z" fill="#6D8FC0" stroke="#6D8FC0" stroke-width="0.9"/>
<path d="M1387.1,369.2L1355.8,366.3L1356.4,366.1L1387.8,369.0Z" fill="#6D8FC0" stroke="#6D8FC0" stroke-width="0.9"/>
<path d="M1355.8,366.3L1324.4,363.9L1324.9,363.7L1356.4,366.1Z" fill="#6D8FC1" stroke="#6D8FC1" stroke-width="0.9"/>
<path d="M1324.4,363.9L1292.9,362.1L1293.2,361.9L1324.9,363.7Z" fill="#6E90C1" stroke="#6E90C1" stroke-width="0.9"/>
<path d="M1292.9,362.1L1261.2,360.8L1261.4,360.6L1293.2,361.9Z" fill="#6E90C2" stroke="#6E90C2" stroke-width="0.9"/>
<path d="M1261.2,360.8L1229.5,360.0L1229.6,359.8L1261.4,360.6Z" fill="#6E91C3" stroke="#6E91C3" stroke-width="0.9"/>
<path d="M1229.5,360.0L1197.7,359.8L1197.7,359.6L1229.6,359.8Z" fill="#6F91C3" stroke="#6F91C3" stroke-width="0.9"/>
<path d="M1197.7,359.8L1166.0,360.1L1165.9,359.9L1197.7,359.6Z" fill="#6F92C4" stroke="#6F92C4" stroke-width="0.9"/>
<path d="M1166.0,360.1L1134.3,361.0L1134.0,360.8L1165.9,359.9Z" fill="#6F92C5" stroke="#6F92C5" stroke-width="0.9"/>
<path d="M1134.3,361.0L1102.6,362.4L1102.3,362.2L1134.0,360.8Z" fill="#7093C5" stroke="#7093C5" stroke-width="0.9"/>
<path d="M1102.6,362.4L1071.1,364.3L1070.6,364.1L1102.3,362.2Z" fill="#7093C6" stroke="#7093C6" stroke-width="0.9"/>
<path d="M1071.1,364.3L1039.7,366.8L1039.1,366.6L1070.6,364.1Z" fill="#7194C7" stroke="#7194C7" stroke-width="0.9"/>
<path d="M1039.7,366.8L1008.4,369.8L1007.8,369.6L1039.1,366.6Z" fill="#7194C7" stroke="#7194C7" stroke-width="0.9"/>
<path d="M1008.4,369.8L977.4,373.4L976.6,373.2L1007.8,369.6Z" fill="#7195C8" stroke="#7195C8" stroke-width="0.9"/>
<path d="M977.4,373.4L946.6,377.4L945.7,377.3L976.6,373.2Z" fill="#7295C9" stroke="#7295C9" stroke-width="0.9"/>
<path d="M946.6,377.4L916.1,382.1L915.1,381.9L945.7,377.3Z" fill="#7296CA" stroke="#7296CA" stroke-width="0.9"/>
<path d="M916.1,382.1L885.9,387.2L884.8,387.1L915.1,381.9Z" fill="#7396CA" stroke="#7396CA" stroke-width="0.9"/>
<path d="M885.9,387.2L856.0,392.9L854.8,392.8L884.8,387.1Z" fill="#7397CB" stroke="#7397CB" stroke-width="0.9"/>
<path d="M856.0,392.9L826.6,399.1L825.2,399.0L854.8,392.8Z" fill="#7398CC" stroke="#7398CC" stroke-width="0.9"/>
<path d="M826.6,399.1L797.5,405.9L796.1,405.8L825.2,399.0Z" fill="#7498CC" stroke="#7498CC" stroke-width="0.9"/>
<path d="M797.5,405.9L768.9,413.1L767.4,413.1L796.1,405.8Z" fill="#7499CD" stroke="#7499CD" stroke-width="0.9"/>
<path d="M768.9,413.1L740.8,420.9L739.2,420.9L767.4,413.1Z" fill="#7599CE" stroke="#7599CE" stroke-width="0.9"/>
<path d="M740.8,420.9L713.3,429.2L711.5,429.2L739.2,420.9Z" fill="#759ACE" stroke="#759ACE" stroke-width="0.9"/>
<path d="M713.3,429.2L686.3,438.1L684.4,438.1L711.5,429.2Z" fill="#759ACF" stroke="#759ACF" stroke-width="0.9"/>
<path d="M686.3,438.1L659.9,447.4L658.0,447.5L684.4,438.1Z" fill="#769BD0" stroke="#769BD0" stroke-width="0.9"/>
<path d="M659.9,447.4L634.2,457.3L632.2,457.4L658.0,447.5Z" fill="#769BD0" stroke="#769BD0" stroke-width="0.9"/>
<path d="M634.2,457.3L609.3,467.6L607.1,467.8L632.2,457.4Z" fill="#769CD1" stroke="#769CD1" stroke-width="0.9"/>
<path d="M609.3,467.6L585.0,478.5L582.7,478.6L607.1,467.8Z" fill="#779CD2" stroke="#779CD2" stroke-width="0.9"/>
<path d="M585.0,478.5L561.6,489.8L559.2,490.0L582.7,478.6Z" fill="#779CD2" stroke="#779CD2" stroke-width="0.9"/>
<path d="M561.6,489.8L538.9,501.6L536.5,501.9L559.2,490.0Z" fill="#779DD3" stroke="#779DD3" stroke-width="0.9"/>
<path d="M538.9,501.6L517.2,513.9L514.6,514.2L536.5,501.9Z" fill="#789DD3" stroke="#789DD3" stroke-width="0.9"/>
<path d="M517.2,513.9L496.4,526.7L493.7,527.1L514.6,514.2Z" fill="#789ED4" stroke="#789ED4" stroke-width="0.9"/>
<path d="M496.4,526.7L476.6,539.9L473.8,540.3L493.7,527.1Z" fill="#789ED5" stroke="#789ED5" stroke-width="0.9"/>
<path d="M476.6,539.9L457.8,553.6L454.9,554.1L473.8,540.3Z" fill="#799ED5" stroke="#799ED5" stroke-width="0.9"/>
<path d="M457.8,553.6L440.1,567.7L437.1,568.2L454.9,554.1Z" fill="#799FD5" stroke="#799FD5" stroke-width="0.9"/>
<path d="M440.1,567.7L423.5,582.2L420.5,582.8L437.1,568.2Z" fill="#799FD6" stroke="#799FD6" stroke-width="0.9"/>
<path d="M423.5,582.2L408.1,597.1L405.0,597.8L420.5,582.8Z" fill="#7AA0D6" stroke="#7AA0D6" stroke-width="0.9"/>
<path d="M408.1,597.1L393.9,612.4L390.7,613.1L405.0,597.8Z" fill="#7AA0D7" stroke="#7AA0D7" stroke-width="0.9"/>
<path d="M393.9,612.4L381.0,628.1L377.7,628.9L390.7,613.1Z" fill="#7AA0D7" stroke="#7AA0D7" stroke-width="0.9"/>
<path d="M381.0,628.1L369.4,644.1L366.0,645.0L377.7,628.9Z" fill="#7AA0D8" stroke="#7AA0D8" stroke-width="0.9"/>
<path d="M369.4,644.1L359.2,660.5L355.8,661.4L366.0,645.0Z" fill="#7AA1D8" stroke="#7AA1D8" stroke-width="0.9"/>
<path d="M359.2,660.5L350.4,677.2L346.9,678.2L355.8,661.4Z" fill="#7BA1D8" stroke="#7BA1D8" stroke-width="0.9"/>
<path d="M350.4,677.2L343.1,694.1L339.5,695.2L346.9,678.2Z" fill="#7BA1D9" stroke="#7BA1D9" stroke-width="0.9"/>
<path d="M343.1,694.1L337.3,711.3L333.7,712.5L339.5,695.2Z" fill="#7BA1D9" stroke="#7BA1D9" stroke-width="0.9"/>
<path d="M337.3,711.3L333.0,728.8L329.4,730.0L333.7,712.5Z" fill="#7BA2D9" stroke="#7BA2D9" stroke-width="0.9"/>
<path d="M333.0,728.8L330.4,746.4L326.8,747.8L329.4,730.0Z" fill="#7BA2D9" stroke="#7BA2D9" stroke-width="0.9"/>
<path d="M330.4,746.4L329.5,764.3L325.8,765.7L326.8,747.8Z" fill="#7BA2D9" stroke="#7BA2D9" stroke-width="0.9"/>
<path d="M329.5,764.3L330.2,782.2L326.5,783.7L325.8,765.7Z" fill="#7BA2DA" stroke="#7BA2DA" stroke-width="0.9"/>
<path d="M1883.9,514.0L1863.4,502.3L1865.8,502.6L1886.5,514.3Z" fill="#B76664" stroke="#B76664" stroke-width="0.9"/>
<path d="M1863.4,502.3L1842.0,491.1L1844.4,491.3L1865.8,502.6Z" fill="#B86664" stroke="#B86664" stroke-width="0.9"/>
<path d="M1842.0,491.1L1820.0,480.3L1822.3,480.5L1844.4,491.3Z" fill="#B86665" stroke="#B86665" stroke-width="0.9"/>
<path d="M1820.0,480.3L1797.2,470.0L1799.4,470.1L1822.3,480.5Z" fill="#B86765" stroke="#B86765" stroke-width="0.9"/>
<path d="M1797.2,470.0L1773.8,460.1L1775.9,460.2L1799.4,470.1Z" fill="#B86765" stroke="#B86765" stroke-width="0.9"/>
<path d="M1773.8,460.1L1749.7,450.6L1751.7,450.7L1775.9,460.2Z" fill="#B86765" stroke="#B86765" stroke-width="0.9"/>
<path d="M1749.7,450.6L1725.0,441.6L1726.9,441.7L1751.7,450.7Z" fill="#B96765" stroke="#B96765" stroke-width="0.9"/>
<path d="M1725.0,441.6L1699.7,433.1L1701.5,433.1L1726.9,441.7Z" fill="#B96765" stroke="#B96765" stroke-width="0.9"/>
<path d="M1699.7,433.1L1673.9,425.0L1675.6,425.0L1701.5,433.1Z" fill="#B96765" stroke="#B96765" stroke-width="0.9"/>
<path d="M1673.9,425.0L1647.6,417.4L1649.2,417.3L1675.6,425.0Z" fill="#BA6766" stroke="#BA6766" stroke-width="0.9"/>
<path d="M1647.6,417.4L1620.9,410.2L1622.4,410.1L1649.2,417.3Z" fill="#BA6866" stroke="#BA6866" stroke-width="0.9"/>
<path d="M1620.9,410.2L1593.7,403.5L1595.1,403.4L1622.4,410.1Z" fill="#BA6866" stroke="#BA6866" stroke-width="0.9"/>
<path d="M1593.7,403.5L1566.1,397.3L1567.4,397.2L1595.1,403.4Z" fill="#BB6866" stroke="#BB6866" stroke-width="0.9"/>
<path d="M1566.1,397.3L1538.1,391.5L1539.3,391.4L1567.4,397.2Z" fill="#BB6866" stroke="#BB6866" stroke-width="0.9"/>
<path d="M1538.1,391.5L1509.8,386.3L1510.9,386.1L1539.3,391.4Z" fill="#BC6967" stroke="#BC6967" stroke-width="0.9"/>
<path d="M1930.0,543.9L1915.2,533.6L1917.9,534.0L1932.8,544.3Z" fill="#4774AA" stroke="#4774AA" stroke-width="0.9"/>
<path d="M1915.2,533.6L1899.8,523.7L1902.5,524.0L1917.9,534.0Z" fill="#4774AB" stroke="#4774AB" stroke-width="0.9"/>
<path d="M1899.8,523.7L1883.9,514.0L1886.5,514.3L1902.5,524.0Z" fill="#4774AB" stroke="#4774AB" stroke-width="0.9"/>
<path d="M1575.0,1131.9L1613.9,1122.7L1615.9,1126.1L1576.9,1135.3Z" fill="#BC4F4C" stroke="#BC4F4C" stroke-width="0.9"/>
<path d="M1613.9,1122.7L1651.6,1112.6L1653.8,1116.0L1615.9,1126.1Z" fill="#BB4E4B" stroke="#BB4E4B" stroke-width="0.9"/>
<path d="M1651.6,1112.6L1688.0,1101.8L1690.4,1105.1L1653.8,1116.0Z" fill="#BB4E4B" stroke="#BB4E4B" stroke-width="0.9"/>
<path d="M1688.0,1101.8L1723.1,1090.1L1725.6,1093.4L1690.4,1105.1Z" fill="#BA4E4B" stroke="#BA4E4B" stroke-width="0.9"/>
<path d="M1723.1,1090.1L1756.7,1077.8L1759.4,1080.9L1725.6,1093.4Z" fill="#B94D4A" stroke="#B94D4A" stroke-width="0.9"/>
<path d="M1756.7,1077.8L1788.9,1064.7L1791.7,1067.8L1759.4,1080.9Z" fill="#B94D4A" stroke="#B94D4A" stroke-width="0.9"/>
<path d="M1788.9,1064.7L1819.5,1051.0L1822.4,1054.0L1791.7,1067.8Z" fill="#B84D4A" stroke="#B84D4A" stroke-width="0.9"/>
<path d="M1819.5,1051.0L1848.4,1036.7L1851.5,1039.6L1822.4,1054.0Z" fill="#B74C4A" stroke="#B74C4A" stroke-width="0.9"/>
<path d="M1848.4,1036.7L1875.7,1021.9L1878.9,1024.6L1851.5,1039.6Z" fill="#B74C49" stroke="#B74C49" stroke-width="0.9"/>
<path d="M1875.7,1021.9L1901.3,1006.5L1904.6,1009.2L1878.9,1024.6Z" fill="#B64C49" stroke="#B64C49" stroke-width="0.9"/>
<path d="M1901.3,1006.5L1925.2,990.7L1928.5,993.3L1904.6,1009.2Z" fill="#B64C49" stroke="#B64C49" stroke-width="0.9"/>
<path d="M1925.2,990.7L1947.2,974.5L1950.7,977.0L1928.5,993.3Z" fill="#B54B49" stroke="#B54B49" stroke-width="0.9"/>
<path d="M1947.2,974.5L1967.5,957.9L1971.0,960.3L1950.7,977.0Z" fill="#B44B48" stroke="#B44B48" stroke-width="0.9"/>
<path d="M1967.5,957.9L1985.9,941.0L1989.5,943.3L1971.0,960.3Z" fill="#B44B48" stroke="#B44B48" stroke-width="0.9"/>
<path d="M1985.9,941.0L2002.5,923.8L2006.2,926.1L1989.5,943.3Z" fill="#B34B48" stroke="#B34B48" stroke-width="0.9"/>
<path d="M2002.5,923.8L2017.3,906.4L2021.0,908.6L2006.2,926.1Z" fill="#B34A48" stroke="#B34A48" stroke-width="0.9"/>
<path d="M2017.3,906.4L2030.3,888.9L2034.0,891.0L2021.0,908.6Z" fill="#B24A47" stroke="#B24A47" stroke-width="0.9"/>
<path d="M2030.3,888.9L2041.5,871.2L2045.2,873.2L2034.0,891.0Z" fill="#B24A47" stroke="#B24A47" stroke-width="0.9"/>
<path d="M2041.5,871.2L2050.9,853.4L2054.6,855.3L2045.2,873.2Z" fill="#B14A47" stroke="#B14A47" stroke-width="0.9"/>
<path d="M2050.9,853.4L2058.5,835.6L2062.2,837.4L2054.6,855.3Z" fill="#B14A47" stroke="#B14A47" stroke-width="0.9"/>
<path d="M2058.5,835.6L2064.3,817.8L2068.0,819.5L2062.2,837.4Z" fill="#B04947" stroke="#B04947" stroke-width="0.9"/>
<path d="M2064.3,817.8L2068.4,800.0L2072.1,801.6L2068.0,819.5Z" fill="#B04946" stroke="#B04946" stroke-width="0.9"/>
<path d="M2068.4,800.0L2070.8,782.3L2074.5,783.8L2072.1,801.6Z" fill="#B04946" stroke="#B04946" stroke-width="0.9"/>
<path d="M2070.8,782.3L2071.5,764.7L2075.2,766.1L2074.5,783.8Z" fill="#AF4946" stroke="#AF4946" stroke-width="0.9"/>
<path d="M2071.5,764.7L2070.7,747.2L2074.3,748.5L2075.2,766.1Z" fill="#AF4946" stroke="#AF4946" stroke-width="0.9"/>
<path d="M2070.7,747.2L2068.2,729.9L2071.8,731.1L2074.3,748.5Z" fill="#AF4946" stroke="#AF4946" stroke-width="0.9"/>
<path d="M2068.2,729.9L2064.1,712.7L2067.7,713.9L2071.8,731.1Z" fill="#AE4946" stroke="#AE4946" stroke-width="0.9"/>
<path d="M2064.1,712.7L2058.6,695.8L2062.1,696.9L2067.7,713.9Z" fill="#AE4846" stroke="#AE4846" stroke-width="0.9"/>
<path d="M2058.6,695.8L2051.6,679.2L2055.0,680.2L2062.1,696.9Z" fill="#AE4846" stroke="#AE4846" stroke-width="0.9"/>
<path d="M2051.6,679.2L2043.1,662.8L2046.6,663.7L2055.0,680.2Z" fill="#AE4846" stroke="#AE4846" stroke-width="0.9"/>
<path d="M2043.1,662.8L2033.3,646.7L2036.7,647.6L2046.6,663.7Z" fill="#AE4845" stroke="#AE4845" stroke-width="0.9"/>
<path d="M2033.3,646.7L2022.2,630.9L2025.5,631.7L2036.7,647.6Z" fill="#AD4845" stroke="#AD4845" stroke-width="0.9"/>
<path d="M2022.2,630.9L2009.8,615.5L2013.0,616.2L2025.5,631.7Z" fill="#AD4845" stroke="#AD4845" stroke-width="0.9"/>
<path d="M2009.8,615.5L1996.1,600.4L1999.2,601.0L2013.0,616.2Z" fill="#AD4845" stroke="#AD4845" stroke-width="0.9"/>
<path d="M1996.1,600.4L1981.2,585.6L1984.3,586.3L1999.2,601.0Z" fill="#AD4845" stroke="#AD4845" stroke-width="0.9"/>
<path d="M1981.2,585.6L1965.2,571.3L1968.2,571.9L1984.3,586.3Z" fill="#AD4845" stroke="#AD4845" stroke-width="0.9"/>
<path d="M1965.2,571.3L1948.1,557.4L1951.0,557.9L1968.2,571.9Z" fill="#AD4845" stroke="#AD4845" stroke-width="0.9"/>
<path d="M1948.1,557.4L1930.0,543.9L1932.8,544.3L1951.0,557.9Z" fill="#AD4845" stroke="#AD4845" stroke-width="0.9"/>
<path d="M1468.5,1151.6L1504.7,1145.7L1506.2,1149.3L1469.9,1155.2Z" fill="#9BBA59" stroke="#9BBA59" stroke-width="0.9"/>
<path d="M1504.7,1145.7L1540.3,1139.1L1541.9,1142.6L1506.2,1149.3Z" fill="#9BB959" stroke="#9BB959" stroke-width="0.9"/>
<path d="M1540.3,1139.1L1575.0,1131.9L1576.9,1135.3L1541.9,1142.6Z" fill="#9AB959" stroke="#9AB959" stroke-width="0.9"/>
<path d="M1020.3,1162.5L1060.8,1166.0L1060.1,1169.7L1019.4,1166.1Z" fill="#8466A5" stroke="#8466A5" stroke-width="0.9"/>
<path d="M1060.8,1166.0L1101.7,1168.7L1101.2,1172.3L1060.1,1169.7Z" fill="#8366A4" stroke="#8366A4" stroke-width="0.9"/>
<path d="M1101.7,1168.7L1142.9,1170.4L1142.6,1174.1L1101.2,1172.3Z" fill="#8365A4" stroke="#8365A4" stroke-width="0.9"/>
<path d="M1142.9,1170.4L1184.2,1171.2L1184.1,1174.9L1142.6,1174.1Z" fill="#8365A3" stroke="#8365A3" stroke-width="0.9"/>
<path d="M1184.2,1171.2L1225.5,1171.1L1225.6,1174.8L1184.1,1174.9Z" fill="#8265A3" stroke="#8265A3" stroke-width="0.9"/>
<path d="M1225.5,1171.1L1266.8,1170.1L1267.1,1173.8L1225.6,1174.8Z" fill="#8264A2" stroke="#8264A2" stroke-width="0.9"/>
<path d="M1266.8,1170.1L1307.9,1168.2L1308.4,1171.9L1267.1,1173.8Z" fill="#8164A2" stroke="#8164A2" stroke-width="0.9"/>
<path d="M1307.9,1168.2L1348.7,1165.4L1349.5,1169.0L1308.4,1171.9Z" fill="#8164A1" stroke="#8164A1" stroke-width="0.9"/>
<path d="M1348.7,1165.4L1389.2,1161.6L1390.1,1165.3L1349.5,1169.0Z" fill="#8063A1" stroke="#8063A1" stroke-width="0.9"/>
<path d="M1389.2,1161.6L1429.2,1157.0L1430.3,1160.7L1390.1,1165.3Z" fill="#8063A0" stroke="#8063A0" stroke-width="0.9"/>
<path d="M1429.2,1157.0L1468.5,1151.6L1469.9,1155.2L1430.3,1160.7Z" fill="#8063A0" stroke="#8063A0" stroke-width="0.9"/>
<path d="M918.3,1149.4L951.8,1154.4L950.6,1158.0L916.9,1153.0Z" fill="#FF9E49" stroke="#FF9E49" stroke-width="0.9"/>
<path d="M951.8,1154.4L985.9,1158.8L984.8,1162.4L950.6,1158.0Z" fill="#FF9D48" stroke="#FF9D48" stroke-width="0.9"/>
<path d="M985.9,1158.8L1020.3,1162.5L1019.4,1166.1L984.8,1162.4Z" fill="#FE9D48" stroke="#FE9D48" stroke-width="0.9"/>
<path d="M694.1,1095.7L728.7,1106.6L726.4,1109.9L691.7,1098.9Z" fill="#2E517D" stroke="#2E517D" stroke-width="0.9"/>
<path d="M728.7,1106.6L764.5,1116.8L762.4,1120.2L726.4,1109.9Z" fill="#2E517D" stroke="#2E517D" stroke-width="0.9"/>
<path d="M764.5,1116.8L801.4,1126.2L799.5,1129.6L762.4,1120.2Z" fill="#2E517D" stroke="#2E517D" stroke-width="0.9"/>
<path d="M801.4,1126.2L839.5,1134.8L837.7,1138.3L799.5,1129.6Z" fill="#2E507C" stroke="#2E507C" stroke-width="0.9"/>
<path d="M839.5,1134.8L878.4,1142.5L876.8,1146.0L837.7,1138.3Z" fill="#2E507C" stroke="#2E507C" stroke-width="0.9"/>
<path d="M878.4,1142.5L918.3,1149.4L916.9,1153.0L876.8,1146.0Z" fill="#2E507C" stroke="#2E507C" stroke-width="0.9"/>
<path d="M534.4,1027.0L558.1,1039.5L555.0,1042.4L531.2,1029.8Z" fill="#7F2E2E" stroke="#7F2E2E" stroke-width="0.9"/>
<path d="M558.1,1039.5L583.0,1051.7L580.1,1054.7L555.0,1042.4Z" fill="#7F2E2E" stroke="#7F2E2E" stroke-width="0.9"/>
<path d="M583.0,1051.7L609.1,1063.4L606.3,1066.5L580.1,1054.7Z" fill="#7F2D2D" stroke="#7F2D2D" stroke-width="0.9"/>
<path d="M609.1,1063.4L636.3,1074.7L633.6,1077.8L606.3,1066.5Z" fill="#7F2D2D" stroke="#7F2D2D" stroke-width="0.9"/>
<path d="M636.3,1074.7L664.7,1085.4L662.1,1088.6L633.6,1077.8Z" fill="#7F2D2D" stroke="#7F2D2D" stroke-width="0.9"/>
<path d="M664.7,1085.4L694.1,1095.7L691.7,1098.9L662.1,1088.6Z" fill="#7E2D2D" stroke="#7E2D2D" stroke-width="0.9"/>
<path d="M434.8,959.0L452.1,973.1L448.7,975.7L431.3,961.4Z" fill="#667E33" stroke="#667E33" stroke-width="0.9"/>
<path d="M452.1,973.1L470.7,987.1L467.3,989.7L448.7,975.7Z" fill="#667E33" stroke="#667E33" stroke-width="0.9"/>
<path d="M470.7,987.1L490.7,1000.7L487.4,1003.4L467.3,989.7Z" fill="#667E33" stroke="#667E33" stroke-width="0.9"/>
<path d="M490.7,1000.7L511.9,1014.0L508.7,1016.8L487.4,1003.4Z" fill="#667D33" stroke="#667D33" stroke-width="0.9"/>
<path d="M511.9,1014.0L534.4,1027.0L531.2,1029.8L508.7,1016.8Z" fill="#667D33" stroke="#667D33" stroke-width="0.9"/>
<path d="M331.6,794.0L334.9,810.7L331.1,812.4L327.9,795.6Z" fill="#523F69" stroke="#523F69" stroke-width="0.9"/>
<path d="M334.9,810.7L339.7,827.4L335.9,829.2L331.1,812.4Z" fill="#523F69" stroke="#523F69" stroke-width="0.9"/>
<path d="M339.7,827.4L346.0,844.2L342.2,846.0L335.9,829.2Z" fill="#523F69" stroke="#523F69" stroke-width="0.9"/>
<path d="M346.0,844.2L353.9,861.0L350.1,862.9L342.2,846.0Z" fill="#523F6A" stroke="#523F6A" stroke-width="0.9"/>
<path d="M353.9,861.0L363.4,877.6L359.6,879.6L350.1,862.9Z" fill="#523F6A" stroke="#523F6A" stroke-width="0.9"/>
<path d="M363.4,877.6L374.4,894.2L370.7,896.3L359.6,879.6Z" fill="#523F6A" stroke="#523F6A" stroke-width="0.9"/>
<path d="M374.4,894.2L387.1,910.7L383.4,912.9L370.7,896.3Z" fill="#523F6A" stroke="#523F6A" stroke-width="0.9"/>
<path d="M387.1,910.7L401.4,927.0L397.8,929.3L383.4,912.9Z" fill="#523F6A" stroke="#523F6A" stroke-width="0.9"/>
<path d="M401.4,927.0L417.3,943.1L413.7,945.5L397.8,929.3Z" fill="#523F69" stroke="#523F69" stroke-width="0.9"/>
<path d="M417.3,943.1L434.8,959.0L431.3,961.4L413.7,945.5Z" fill="#523F69" stroke="#523F69" stroke-width="0.9"/>
<path d="M330.2,782.2L331.6,794.0L327.9,795.6L326.5,783.7Z" fill="#296F82" stroke="#296F82" stroke-width="0.9"/>
<path d="M1508.7,386.8L1478.5,381.8L1479.6,381.2L1509.8,386.3Z" fill="#7093C5" stroke="#7093C5" stroke-width="0.9"/>
<path d="M1478.5,381.8L1448.1,377.3L1449.0,376.7L1479.6,381.2Z" fill="#7093C5" stroke="#7093C5" stroke-width="0.9"/>
<path d="M1448.1,377.3L1417.4,373.3L1418.2,372.7L1449.0,376.7Z" fill="#7093C6" stroke="#7093C6" stroke-width="0.9"/>
<path d="M1417.4,373.3L1386.4,369.9L1387.1,369.2L1418.2,372.7Z" fill="#7093C6" stroke="#7093C6" stroke-width="0.9"/>
<path d="M1386.4,369.9L1355.3,367.0L1355.8,366.3L1387.1,369.2Z" fill="#7093C6" stroke="#7093C6" stroke-width="0.9"/>
<path d="M1355.3,367.0L1324.0,364.6L1324.4,363.9L1355.8,366.3Z" fill="#7094C7" stroke="#7094C7" stroke-width="0.9"/>
<path d="M1324.0,364.6L1292.5,362.8L1292.9,362.1L1324.4,363.9Z" fill="#7194C7" stroke="#7194C7" stroke-width="0.9"/>
<path d="M1292.5,362.8L1261.0,361.5L1261.2,360.8L1292.9,362.1Z" fill="#7194C7" stroke="#7194C7" stroke-width="0.9"/>
<path d="M1261.0,361.5L1229.4,360.7L1229.5,360.0L1261.2,360.8Z" fill="#7194C7" stroke="#7194C7" stroke-width="0.9"/>
<path d="M1229.4,360.7L1197.7,360.5L1197.7,359.8L1229.5,360.0Z" fill="#7195C8" stroke="#7195C8" stroke-width="0.9"/>
<path d="M1197.7,360.5L1166.1,360.8L1166.0,360.1L1197.7,359.8Z" fill="#7195C8" stroke="#7195C8" stroke-width="0.9"/>
<path d="M1166.1,360.8L1134.5,361.7L1134.3,361.0L1166.0,360.1Z" fill="#7295C8" stroke="#7295C8" stroke-width="0.9"/>
<path d="M1134.5,361.7L1103.0,363.0L1102.6,362.4L1134.3,361.0Z" fill="#7295C9" stroke="#7295C9" stroke-width="0.9"/>
<path d="M1103.0,363.0L1071.5,365.0L1071.1,364.3L1102.6,362.4Z" fill="#7296C9" stroke="#7296C9" stroke-width="0.9"/>
<path d="M1071.5,365.0L1040.3,367.4L1039.7,366.8L1071.1,364.3Z" fill="#7296C9" stroke="#7296C9" stroke-width="0.9"/>
<path d="M1040.3,367.4L1009.1,370.4L1008.4,369.8L1039.7,366.8Z" fill="#7296CA" stroke="#7296CA" stroke-width="0.9"/>
<path d="M1009.1,370.4L978.2,374.0L977.4,373.4L1008.4,369.8Z" fill="#7396CA" stroke="#7396CA" stroke-width="0.9"/>
<path d="M978.2,374.0L947.6,378.0L946.6,377.4L977.4,373.4Z" fill="#7397CA" stroke="#7397CA" stroke-width="0.9"/>
<path d="M947.6,378.0L917.2,382.6L916.1,382.1L946.6,377.4Z" fill="#7397CB" stroke="#7397CB" stroke-width="0.9"/>
<path d="M917.2,382.6L887.1,387.8L885.9,387.2L916.1,382.1Z" fill="#7397CB" stroke="#7397CB" stroke-width="0.9"/>
<path d="M887.1,387.8L857.3,393.4L856.0,392.9L885.9,387.2Z" fill="#7397CC" stroke="#7397CC" stroke-width="0.9"/>
<path d="M857.3,393.4L828.0,399.6L826.6,399.1L856.0,392.9Z" fill="#7498CC" stroke="#7498CC" stroke-width="0.9"/>
<path d="M828.0,399.6L799.0,406.4L797.5,405.9L826.6,399.1Z" fill="#7498CC" stroke="#7498CC" stroke-width="0.9"/>
<path d="M799.0,406.4L770.6,413.6L768.9,413.1L797.5,405.9Z" fill="#7498CD" stroke="#7498CD" stroke-width="0.9"/>
<path d="M770.6,413.6L742.6,421.4L740.8,420.9L768.9,413.1Z" fill="#7498CD" stroke="#7498CD" stroke-width="0.9"/>
<path d="M742.6,421.4L715.1,429.7L713.3,429.2L740.8,420.9Z" fill="#7499CD" stroke="#7499CD" stroke-width="0.9"/>
<path d="M715.1,429.7L688.3,438.5L686.3,438.1L713.3,429.2Z" fill="#7499CE" stroke="#7499CE" stroke-width="0.9"/>
<path d="M688.3,438.5L662.0,447.8L659.9,447.4L686.3,438.1Z" fill="#7599CE" stroke="#7599CE" stroke-width="0.9"/>
<path d="M662.0,447.8L636.4,457.6L634.2,457.3L659.9,447.4Z" fill="#7599CE" stroke="#7599CE" stroke-width="0.9"/>
<path d="M636.4,457.6L611.6,467.9L609.3,467.6L634.2,457.3Z" fill="#759ACE" stroke="#759ACE" stroke-width="0.9"/>
<path d="M611.6,467.9L587.4,478.7L585.0,478.5L609.3,467.6Z" fill="#759ACF" stroke="#759ACF" stroke-width="0.9"/>
<path d="M587.4,478.7L564.1,490.0L561.6,489.8L585.0,478.5Z" fill="#759ACF" stroke="#759ACF" stroke-width="0.9"/>
<path d="M564.1,490.0L541.6,501.8L538.9,501.6L561.6,489.8Z" fill="#769ACF" stroke="#769ACF" stroke-width="0.9"/>
<path d="M541.6,501.8L519.9,514.0L517.2,513.9L538.9,501.6Z" fill="#769AD0" stroke="#769AD0" stroke-width="0.9"/>
<path d="M519.9,514.0L499.2,526.7L496.4,526.7L517.2,513.9Z" fill="#769BD0" stroke="#769BD0" stroke-width="0.9"/>
<path d="M499.2,526.7L479.5,539.9L476.6,539.9L496.4,526.7Z" fill="#769BD0" stroke="#769BD0" stroke-width="0.9"/>
<path d="M479.5,539.9L460.8,553.5L457.8,553.6L476.6,539.9Z" fill="#769BD0" stroke="#769BD0" stroke-width="0.9"/>
<path d="M460.8,553.5L443.2,567.6L440.1,567.7L457.8,553.6Z" fill="#769BD1" stroke="#769BD1" stroke-width="0.9"/>
<path d="M443.2,567.6L426.7,582.0L423.5,582.2L440.1,567.7Z" fill="#769BD1" stroke="#769BD1" stroke-width="0.9"/>
<path d="M426.7,582.0L411.3,596.9L408.1,597.1L423.5,582.2Z" fill="#779CD1" stroke="#779CD1" stroke-width="0.9"/>
<path d="M411.3,596.9L397.2,612.1L393.9,612.4L408.1,597.1Z" fill="#779CD1" stroke="#779CD1" stroke-width="0.9"/>
<path d="M397.2,612.1L384.4,627.7L381.0,628.1L393.9,612.4Z" fill="#779CD2" stroke="#779CD2" stroke-width="0.9"/>
<path d="M384.4,627.7L372.9,643.7L369.4,644.1L381.0,628.1Z" fill="#779CD2" stroke="#779CD2" stroke-width="0.9"/>
<path d="M372.9,643.7L362.7,660.0L359.2,660.5L369.4,644.1Z" fill="#779CD2" stroke="#779CD2" stroke-width="0.9"/>
<path d="M362.7,660.0L354.0,676.6L350.4,677.2L359.2,660.5Z" fill="#779CD2" stroke="#779CD2" stroke-width="0.9"/>
<path d="M354.0,676.6L346.8,693.4L343.1,694.1L350.4,677.2Z" fill="#779CD2" stroke="#779CD2" stroke-width="0.9"/>
<path d="M346.8,693.4L341.0,710.6L337.3,711.3L343.1,694.1Z" fill="#779CD2" stroke="#779CD2" stroke-width="0.9"/>
<path d="M341.0,710.6L336.8,727.9L333.0,728.8L337.3,711.3Z" fill="#779DD2" stroke="#779DD2" stroke-width="0.9"/>
<path d="M336.8,727.9L334.3,745.5L330.4,746.4L333.0,728.8Z" fill="#779DD3" stroke="#779DD3" stroke-width="0.9"/>
<path d="M334.3,745.5L333.3,763.3L329.5,764.3L330.4,746.4Z" fill="#779DD3" stroke="#779DD3" stroke-width="0.9"/>
<path d="M333.3,763.3L334.1,781.1L330.2,782.2L329.5,764.3Z" fill="#779DD3" stroke="#779DD3" stroke-width="0.9"/>
<path d="M1881.2,514.1L1860.7,502.5L1863.4,502.3L1883.9,514.0Z" fill="#C16B6A" stroke="#C16B6A" stroke-width="0.9"/>
<path d="M1860.7,502.5L1839.5,491.3L1842.0,491.1L1863.4,502.3Z" fill="#C16C6A" stroke="#C16C6A" stroke-width="0.9"/>
<path d="M1839.5,491.3L1817.6,480.6L1820.0,480.3L1842.0,491.1Z" fill="#C16C6A" stroke="#C16C6A" stroke-width="0.9"/>
<path d="M1817.6,480.6L1794.9,470.3L1797.2,470.0L1820.0,480.3Z" fill="#C16C6A" stroke="#C16C6A" stroke-width="0.9"/>
<path d="M1794.9,470.3L1771.5,460.4L1773.8,460.1L1797.2,470.0Z" fill="#C16C6A" stroke="#C16C6A" stroke-width="0.9"/>
<path d="M1771.5,460.4L1747.6,451.0L1749.7,450.6L1773.8,460.1Z" fill="#C16C6A" stroke="#C16C6A" stroke-width="0.9"/>
<path d="M1747.6,451.0L1723.0,442.0L1725.0,441.6L1749.7,450.6Z" fill="#C16C6A" stroke="#C16C6A" stroke-width="0.9"/>
<path d="M1723.0,442.0L1697.8,433.5L1699.7,433.1L1725.0,441.6Z" fill="#C26C6A" stroke="#C26C6A" stroke-width="0.9"/>
<path d="M1697.8,433.5L1672.1,425.4L1673.9,425.0L1699.7,433.1Z" fill="#C26C6A" stroke="#C26C6A" stroke-width="0.9"/>
<path d="M1672.1,425.4L1645.9,417.8L1647.6,417.4L1673.9,425.0Z" fill="#C26C6A" stroke="#C26C6A" stroke-width="0.9"/>
<path d="M1645.9,417.8L1619.3,410.7L1620.9,410.2L1647.6,417.4Z" fill="#C26C6A" stroke="#C26C6A" stroke-width="0.9"/>
<path d="M1619.3,410.7L1592.2,404.0L1593.7,403.5L1620.9,410.2Z" fill="#C26C6A" stroke="#C26C6A" stroke-width="0.9"/>
<path d="M1592.2,404.0L1564.7,397.8L1566.1,397.3L1593.7,403.5Z" fill="#C36C6A" stroke="#C36C6A" stroke-width="0.9"/>
<path d="M1564.7,397.8L1536.9,392.1L1538.1,391.5L1566.1,397.3Z" fill="#C36D6B" stroke="#C36D6B" stroke-width="0.9"/>
<path d="M1536.9,392.1L1508.7,386.8L1509.8,386.3L1538.1,391.5Z" fill="#C36D6B" stroke="#C36D6B" stroke-width="0.9"/>
<path d="M1927.1,543.8L1912.3,533.7L1915.2,533.6L1930.0,543.9Z" fill="#4B7AB3" stroke="#4B7AB3" stroke-width="0.9"/>
<path d="M1912.3,533.7L1897.0,523.7L1899.8,523.7L1915.2,533.6Z" fill="#4B7AB3" stroke="#4B7AB3" stroke-width="0.9"/>
<path d="M1897.0,523.7L1881.2,514.1L1883.9,514.0L1899.8,523.7Z" fill="#4B7AB3" stroke="#4B7AB3" stroke-width="0.9"/>
<path d="M1573.1,1128.8L1611.8,1119.7L1613.9,1122.7L1575.0,1131.9Z" fill="#BE4F4C" stroke="#BE4F4C" stroke-width="0.9"/>
<path d="M1611.8,1119.7L1649.3,1109.7L1651.6,1112.6L1613.9,1122.7Z" fill="#BD4F4C" stroke="#BD4F4C" stroke-width="0.9"/>
<path d="M1649.3,1109.7L1685.5,1098.9L1688.0,1101.8L1651.6,1112.6Z" fill="#BD4F4C" stroke="#BD4F4C" stroke-width="0.9"/>
<path d="M1685.5,1098.9L1720.4,1087.4L1723.1,1090.1L1688.0,1101.8Z" fill="#BD4F4C" stroke="#BD4F4C" stroke-width="0.9"/>
<path d="M1720.4,1087.4L1753.9,1075.1L1756.7,1077.8L1723.1,1090.1Z" fill="#BC4E4B" stroke="#BC4E4B" stroke-width="0.9"/>
<path d="M1753.9,1075.1L1785.9,1062.1L1788.9,1064.7L1756.7,1077.8Z" fill="#BC4E4B" stroke="#BC4E4B" stroke-width="0.9"/>
<path d="M1785.9,1062.1L1816.4,1048.5L1819.5,1051.0L1788.9,1064.7Z" fill="#BC4E4B" stroke="#BC4E4B" stroke-width="0.9"/>
<path d="M1816.4,1048.5L1845.2,1034.2L1848.4,1036.7L1819.5,1051.0Z" fill="#BB4E4B" stroke="#BB4E4B" stroke-width="0.9"/>
<path d="M1845.2,1034.2L1872.4,1019.5L1875.7,1021.9L1848.4,1036.7Z" fill="#BB4E4B" stroke="#BB4E4B" stroke-width="0.9"/>
<path d="M1872.4,1019.5L1897.9,1004.2L1901.3,1006.5L1875.7,1021.9Z" fill="#BB4E4B" stroke="#BB4E4B" stroke-width="0.9"/>
<path d="M1897.9,1004.2L1921.6,988.5L1925.2,990.7L1901.3,1006.5Z" fill="#BA4E4B" stroke="#BA4E4B" stroke-width="0.9"/>
<path d="M1921.6,988.5L1943.6,972.3L1947.2,974.5L1925.2,990.7Z" fill="#BA4D4B" stroke="#BA4D4B" stroke-width="0.9"/>
<path d="M1943.6,972.3L1963.8,955.9L1967.5,957.9L1947.2,974.5Z" fill="#BA4D4A" stroke="#BA4D4A" stroke-width="0.9"/>
<path d="M1963.8,955.9L1982.2,939.1L1985.9,941.0L1967.5,957.9Z" fill="#BA4D4A" stroke="#BA4D4A" stroke-width="0.9"/>
<path d="M1982.2,939.1L1998.7,922.0L2002.5,923.8L1985.9,941.0Z" fill="#B94D4A" stroke="#B94D4A" stroke-width="0.9"/>
<path d="M1998.7,922.0L2013.5,904.7L2017.3,906.4L2002.5,923.8Z" fill="#B94D4A" stroke="#B94D4A" stroke-width="0.9"/>
<path d="M2013.5,904.7L2026.4,887.3L2030.3,888.9L2017.3,906.4Z" fill="#B94D4A" stroke="#B94D4A" stroke-width="0.9"/>
<path d="M2026.4,887.3L2037.6,869.7L2041.5,871.2L2030.3,888.9Z" fill="#B94D4A" stroke="#B94D4A" stroke-width="0.9"/>
<path d="M2037.6,869.7L2046.9,852.0L2050.9,853.4L2041.5,871.2Z" fill="#B84D4A" stroke="#B84D4A" stroke-width="0.9"/>
<path d="M2046.9,852.0L2054.5,834.3L2058.5,835.6L2050.9,853.4Z" fill="#B84D4A" stroke="#B84D4A" stroke-width="0.9"/>
<path d="M2054.5,834.3L2060.4,816.5L2064.3,817.8L2058.5,835.6Z" fill="#B84C4A" stroke="#B84C4A" stroke-width="0.9"/>
<path d="M2060.4,816.5L2064.5,798.8L2068.4,800.0L2064.3,817.8Z" fill="#B84C4A" stroke="#B84C4A" stroke-width="0.9"/>
<path d="M2064.5,798.8L2066.9,781.2L2070.8,782.3L2068.4,800.0Z" fill="#B74C49" stroke="#B74C49" stroke-width="0.9"/>
<path d="M2066.9,781.2L2067.7,763.7L2071.5,764.7L2070.8,782.3Z" fill="#B74C49" stroke="#B74C49" stroke-width="0.9"/>
<path d="M2067.7,763.7L2066.8,746.3L2070.7,747.2L2071.5,764.7Z" fill="#B74C49" stroke="#B74C49" stroke-width="0.9"/>
<path d="M2066.8,746.3L2064.4,729.0L2068.2,729.9L2070.7,747.2Z" fill="#B74C49" stroke="#B74C49" stroke-width="0.9"/>
<path d="M2064.4,729.0L2060.4,712.0L2064.1,712.7L2068.2,729.9Z" fill="#B74C49" stroke="#B74C49" stroke-width="0.9"/>
<path d="M2060.4,712.0L2054.9,695.2L2058.6,695.8L2064.1,712.7Z" fill="#B74C49" stroke="#B74C49" stroke-width="0.9"/>
<path d="M2054.9,695.2L2047.9,678.6L2051.6,679.2L2058.6,695.8Z" fill="#B74C49" stroke="#B74C49" stroke-width="0.9"/>
<path d="M2047.9,678.6L2039.6,662.3L2043.1,662.8L2051.6,679.2Z" fill="#B74C49" stroke="#B74C49" stroke-width="0.9"/>
<path d="M2039.6,662.3L2029.8,646.2L2033.3,646.7L2043.1,662.8Z" fill="#B64C49" stroke="#B64C49" stroke-width="0.9"/>
<path d="M2029.8,646.2L2018.7,630.5L2022.2,630.9L2033.3,646.7Z" fill="#B64C49" stroke="#B64C49" stroke-width="0.9"/>
<path d="M2018.7,630.5L2006.4,615.1L2009.8,615.5L2022.2,630.9Z" fill="#B64C49" stroke="#B64C49" stroke-width="0.9"/>
<path d="M2006.4,615.1L1992.8,600.1L1996.1,600.4L2009.8,615.5Z" fill="#B64C49" stroke="#B64C49" stroke-width="0.9"/>
<path d="M1992.8,600.1L1978.0,585.5L1981.2,585.6L1996.1,600.4Z" fill="#B64C49" stroke="#B64C49" stroke-width="0.9"/>
<path d="M1978.0,585.5L1962.1,571.2L1965.2,571.3L1981.2,585.6Z" fill="#B64C49" stroke="#B64C49" stroke-width="0.9"/>
<path d="M1962.1,571.2L1945.1,557.3L1948.1,557.4L1965.2,571.3Z" fill="#B64C49" stroke="#B64C49" stroke-width="0.9"/>
<path d="M1945.1,557.3L1927.1,543.8L1930.0,543.9L1948.1,557.4Z" fill="#B64C49" stroke="#B64C49" stroke-width="0.9"/>
<path d="M1467.1,1148.4L1503.2,1142.6L1504.7,1145.7L1468.5,1151.6Z" fill="#9BBA59" stroke="#9BBA59" stroke-width="0.9"/>
<path d="M1503.2,1142.6L1538.5,1136.1L1540.3,1139.1L1504.7,1145.7Z" fill="#9BBA59" stroke="#9BBA59" stroke-width="0.9"/>
<path d="M1538.5,1136.1L1573.1,1128.8L1575.0,1131.9L1540.3,1139.1Z" fill="#9BBA59" stroke="#9BBA59" stroke-width="0.9"/>
<path d="M1021.2,1159.3L1061.6,1162.8L1060.8,1166.0L1020.3,1162.5Z" fill="#8164A2" stroke="#8164A2" stroke-width="0.9"/>
<path d="M1061.6,1162.8L1102.2,1165.4L1101.7,1168.7L1060.8,1166.0Z" fill="#8164A2" stroke="#8164A2" stroke-width="0.9"/>
<path d="M1102.2,1165.4L1143.2,1167.1L1142.9,1170.4L1101.7,1168.7Z" fill="#8164A2" stroke="#8164A2" stroke-width="0.9"/>
<path d="M1143.2,1167.1L1184.3,1167.9L1184.2,1171.2L1142.9,1170.4Z" fill="#8164A1" stroke="#8164A1" stroke-width="0.9"/>
<path d="M1184.3,1167.9L1225.4,1167.8L1225.5,1171.1L1184.2,1171.2Z" fill="#8163A1" stroke="#8163A1" stroke-width="0.9"/>
<path d="M1225.4,1167.8L1266.5,1166.8L1266.8,1170.1L1225.5,1171.1Z" fill="#8163A1" stroke="#8163A1" stroke-width="0.9"/>
<path d="M1266.5,1166.8L1307.3,1164.9L1307.9,1168.2L1266.8,1170.1Z" fill="#8063A1" stroke="#8063A1" stroke-width="0.9"/>
<path d="M1307.3,1164.9L1348.0,1162.1L1348.7,1165.4L1307.9,1168.2Z" fill="#8063A0" stroke="#8063A0" stroke-width="0.9"/>
<path d="M1348.0,1162.1L1388.2,1158.4L1389.2,1161.6L1348.7,1165.4Z" fill="#8063A0" stroke="#8063A0" stroke-width="0.9"/>
<path d="M1388.2,1158.4L1428.0,1153.8L1429.2,1157.0L1389.2,1161.6Z" fill="#8063A0" stroke="#8063A0" stroke-width="0.9"/>
<path d="M1428.0,1153.8L1467.1,1148.4L1468.5,1151.6L1429.2,1157.0Z" fill="#8062A0" stroke="#8062A0" stroke-width="0.9"/>
<path d="M919.7,1146.2L953.1,1151.2L951.8,1154.4L918.3,1149.4Z" fill="#FA9A47" stroke="#FA9A47" stroke-width="0.9"/>
<path d="M953.1,1151.2L987.0,1155.6L985.9,1158.8L951.8,1154.4Z" fill="#FA9A47" stroke="#FA9A47" stroke-width="0.9"/>
<path d="M987.0,1155.6L1021.2,1159.3L1020.3,1162.5L985.9,1158.8Z" fill="#FA9A47" stroke="#FA9A47" stroke-width="0.9"/>
<path d="M696.7,1092.8L731.1,1103.7L728.7,1106.6L694.1,1095.7Z" fill="#2D4E7A" stroke="#2D4E7A" stroke-width="0.9"/>
<path d="M731.1,1103.7L766.7,1113.8L764.5,1116.8L728.7,1106.6Z" fill="#2C4E79" stroke="#2C4E79" stroke-width="0.9"/>
<path d="M766.7,1113.8L803.5,1123.2L801.4,1126.2L764.5,1116.8Z" fill="#2C4E79" stroke="#2C4E79" stroke-width="0.9"/>
<path d="M803.5,1123.2L841.3,1131.7L839.5,1134.8L801.4,1126.2Z" fill="#2C4E79" stroke="#2C4E79" stroke-width="0.9"/>
<path d="M841.3,1131.7L880.1,1139.4L878.4,1142.5L839.5,1134.8Z" fill="#2C4E79" stroke="#2C4E79" stroke-width="0.9"/>
<path d="M880.1,1139.4L919.7,1146.2L918.3,1149.4L878.4,1142.5Z" fill="#2C4E79" stroke="#2C4E79" stroke-width="0.9"/>
<path d="M537.7,1024.6L561.3,1037.1L558.1,1039.5L534.4,1027.0Z" fill="#7B2C2C" stroke="#7B2C2C" stroke-width="0.9"/>
<path d="M561.3,1037.1L586.1,1049.2L583.0,1051.7L558.1,1039.5Z" fill="#7B2C2C" stroke="#7B2C2C" stroke-width="0.9"/>
<path d="M586.1,1049.2L612.1,1060.8L609.1,1063.4L583.0,1051.7Z" fill="#7B2C2C" stroke="#7B2C2C" stroke-width="0.9"/>
<path d="M612.1,1060.8L639.2,1072.0L636.3,1074.7L609.1,1063.4Z" fill="#7B2C2C" stroke="#7B2C2C" stroke-width="0.9"/>
<path d="M639.2,1072.0L667.4,1082.7L664.7,1085.4L636.3,1074.7Z" fill="#7B2C2C" stroke="#7B2C2C" stroke-width="0.9"/>
<path d="M667.4,1082.7L696.7,1092.8L694.1,1095.7L664.7,1085.4Z" fill="#7B2C2C" stroke="#7B2C2C" stroke-width="0.9"/>
<path d="M438.5,956.9L455.7,971.1L452.1,973.1L434.8,959.0Z" fill="#637931" stroke="#637931" stroke-width="0.9"/>
<path d="M455.7,971.1L474.3,984.9L470.7,987.1L452.1,973.1Z" fill="#637931" stroke="#637931" stroke-width="0.9"/>
<path d="M474.3,984.9L494.1,998.4L490.7,1000.7L470.7,987.1Z" fill="#637931" stroke="#637931" stroke-width="0.9"/>
<path d="M494.1,998.4L515.3,1011.7L511.9,1014.0L490.7,1000.7Z" fill="#637931" stroke="#637931" stroke-width="0.9"/>
<path d="M515.3,1011.7L537.7,1024.6L534.4,1027.0L511.9,1014.0Z" fill="#627931" stroke="#627931" stroke-width="0.9"/>
<path d="M335.5,792.8L338.8,809.5L334.9,810.7L331.6,794.0Z" fill="#4F3C66" stroke="#4F3C66" stroke-width="0.9"/>
<path d="M338.8,809.5L343.6,826.1L339.7,827.4L334.9,810.7Z" fill="#4F3C66" stroke="#4F3C66" stroke-width="0.9"/>
<path d="M343.6,826.1L349.9,842.8L346.0,844.2L339.7,827.4Z" fill="#4F3C66" stroke="#4F3C66" stroke-width="0.9"/>
<path d="M349.9,842.8L357.8,859.5L353.9,861.0L346.0,844.2Z" fill="#4F3C66" stroke="#4F3C66" stroke-width="0.9"/>
<path d="M357.8,859.5L367.3,876.1L363.4,877.6L353.9,861.0Z" fill="#4F3C66" stroke="#4F3C66" stroke-width="0.9"/>
<path d="M367.3,876.1L378.3,892.6L374.4,894.2L363.4,877.6Z" fill="#4F3C66" stroke="#4F3C66" stroke-width="0.9"/>
<path d="M378.3,892.6L390.9,908.9L387.1,910.7L374.4,894.2Z" fill="#4F3C66" stroke="#4F3C66" stroke-width="0.9"/>
<path d="M390.9,908.9L405.2,925.2L401.4,927.0L387.1,910.7Z" fill="#4F3C66" stroke="#4F3C66" stroke-width="0.9"/>
<path d="M405.2,925.2L421.0,941.2L417.3,943.1L401.4,927.0Z" fill="#4F3C66" stroke="#4F3C66" stroke-width="0.9"/>
<path d="M421.0,941.2L438.5,956.9L434.8,959.0L417.3,943.1Z" fill="#4F3C66" stroke="#4F3C66" stroke-width="0.9"/>
<path d="M334.1,781.1L335.5,792.8L331.6,794.0L330.2,782.2Z" fill="#286B7E" stroke="#286B7E" stroke-width="0.9"/>
<path d="M1507.5,387.8L1477.5,382.8L1478.5,381.8L1508.7,386.8Z" fill="#7296CA" stroke="#7296CA" stroke-width="0.9"/>
<path d="M1477.5,382.8L1447.1,378.3L1448.1,377.3L1478.5,381.8Z" fill="#7296CA" stroke="#7296CA" stroke-width="0.9"/>
<path d="M1447.1,378.3L1416.5,374.4L1417.4,373.3L1448.1,377.3Z" fill="#7296CA" stroke="#7296CA" stroke-width="0.9"/>
<path d="M1416.5,374.4L1385.7,370.9L1386.4,369.9L1417.4,373.3Z" fill="#7396CA" stroke="#7396CA" stroke-width="0.9"/>
<path d="M1385.7,370.9L1354.7,368.0L1355.3,367.0L1386.4,369.9Z" fill="#7396CA" stroke="#7396CA" stroke-width="0.9"/>
<path d="M1354.7,368.0L1323.5,365.7L1324.0,364.6L1355.3,367.0Z" fill="#7396CA" stroke="#7396CA" stroke-width="0.9"/>
<path d="M1323.5,365.7L1292.2,363.8L1292.5,362.8L1324.0,364.6Z" fill="#7396CA" stroke="#7396CA" stroke-width="0.9"/>
<path d="M1292.2,363.8L1260.7,362.5L1261.0,361.5L1292.5,362.8Z" fill="#7397CA" stroke="#7397CA" stroke-width="0.9"/>
<path d="M1260.7,362.5L1229.3,361.8L1229.4,360.7L1261.0,361.5Z" fill="#7397CA" stroke="#7397CA" stroke-width="0.9"/>
<path d="M1229.3,361.8L1197.7,361.6L1197.7,360.5L1229.4,360.7Z" fill="#7397CA" stroke="#7397CA" stroke-width="0.9"/>
<path d="M1197.7,361.6L1166.2,361.9L1166.1,360.8L1197.7,360.5Z" fill="#7397CB" stroke="#7397CB" stroke-width="0.9"/>
<path d="M1166.2,361.9L1134.8,362.7L1134.5,361.7L1166.1,360.8Z" fill="#7397CB" stroke="#7397CB" stroke-width="0.9"/>
<path d="M1134.8,362.7L1103.3,364.1L1103.0,363.0L1134.5,361.7Z" fill="#7397CB" stroke="#7397CB" stroke-width="0.9"/>
<path d="M1103.3,364.1L1072.0,366.0L1071.5,365.0L1103.0,363.0Z" fill="#7397CB" stroke="#7397CB" stroke-width="0.9"/>
<path d="M1072.0,366.0L1040.9,368.5L1040.3,367.4L1071.5,365.0Z" fill="#7397CB" stroke="#7397CB" stroke-width="0.9"/>
<path d="M1040.9,368.5L1009.9,371.5L1009.1,370.4L1040.3,367.4Z" fill="#7397CB" stroke="#7397CB" stroke-width="0.9"/>
<path d="M1009.9,371.5L979.1,375.0L978.2,374.0L1009.1,370.4Z" fill="#7397CB" stroke="#7397CB" stroke-width="0.9"/>
<path d="M979.1,375.0L948.5,379.1L947.6,378.0L978.2,374.0Z" fill="#7397CB" stroke="#7397CB" stroke-width="0.9"/>
<path d="M948.5,379.1L918.3,383.7L917.2,382.6L947.6,378.0Z" fill="#7397CB" stroke="#7397CB" stroke-width="0.9"/>
<path d="M918.3,383.7L888.3,388.8L887.1,387.8L917.2,382.6Z" fill="#7397CB" stroke="#7397CB" stroke-width="0.9"/>
<path d="M888.3,388.8L858.7,394.4L857.3,393.4L887.1,387.8Z" fill="#7397CB" stroke="#7397CB" stroke-width="0.9"/>
<path d="M858.7,394.4L829.4,400.6L828.0,399.6L857.3,393.4Z" fill="#7397CB" stroke="#7397CB" stroke-width="0.9"/>
<path d="M829.4,400.6L800.6,407.3L799.0,406.4L828.0,399.6Z" fill="#7397CB" stroke="#7397CB" stroke-width="0.9"/>
<path d="M800.6,407.3L772.2,414.5L770.6,413.6L799.0,406.4Z" fill="#7397CC" stroke="#7397CC" stroke-width="0.9"/>
<path d="M772.2,414.5L744.4,422.2L742.6,421.4L770.6,413.6Z" fill="#7397CC" stroke="#7397CC" stroke-width="0.9"/>
<path d="M744.4,422.2L717.1,430.5L715.1,429.7L742.6,421.4Z" fill="#7398CC" stroke="#7398CC" stroke-width="0.9"/>
<path d="M717.1,430.5L690.3,439.3L688.3,438.5L715.1,429.7Z" fill="#7398CC" stroke="#7398CC" stroke-width="0.9"/>
<path d="M690.3,439.3L664.2,448.5L662.0,447.8L688.3,438.5Z" fill="#7398CC" stroke="#7398CC" stroke-width="0.9"/>
<path d="M664.2,448.5L638.7,458.3L636.4,457.6L662.0,447.8Z" fill="#7498CC" stroke="#7498CC" stroke-width="0.9"/>
<path d="M638.7,458.3L613.9,468.6L611.6,467.9L636.4,457.6Z" fill="#7498CC" stroke="#7498CC" stroke-width="0.9"/>
<path d="M613.9,468.6L589.9,479.4L587.4,478.7L611.6,467.9Z" fill="#7498CC" stroke="#7498CC" stroke-width="0.9"/>
<path d="M589.9,479.4L566.6,490.6L564.1,490.0L587.4,478.7Z" fill="#7498CC" stroke="#7498CC" stroke-width="0.9"/>
<path d="M566.6,490.6L544.2,502.4L541.6,501.8L564.1,490.0Z" fill="#7498CC" stroke="#7498CC" stroke-width="0.9"/>
<path d="M544.2,502.4L522.7,514.6L519.9,514.0L541.6,501.8Z" fill="#7498CC" stroke="#7498CC" stroke-width="0.9"/>
<path d="M522.7,514.6L502.1,527.2L499.2,526.7L519.9,514.0Z" fill="#7498CC" stroke="#7498CC" stroke-width="0.9"/>
<path d="M502.1,527.2L482.5,540.3L479.5,539.9L499.2,526.7Z" fill="#7498CC" stroke="#7498CC" stroke-width="0.9"/>
<path d="M482.5,540.3L463.9,553.9L460.8,553.5L479.5,539.9Z" fill="#7498CC" stroke="#7498CC" stroke-width="0.9"/>
<path d="M463.9,553.9L446.4,567.9L443.2,567.6L460.8,553.5Z" fill="#7498CC" stroke="#7498CC" stroke-width="0.9"/>
<path d="M446.4,567.9L430.0,582.3L426.7,582.0L443.2,567.6Z" fill="#7498CC" stroke="#7498CC" stroke-width="0.9"/>
<path d="M430.0,582.3L414.7,597.1L411.3,596.9L426.7,582.0Z" fill="#7498CC" stroke="#7498CC" stroke-width="0.9"/>
<path d="M414.7,597.1L400.7,612.2L397.2,612.1L411.3,596.9Z" fill="#7498CD" stroke="#7498CD" stroke-width="0.9"/>
<path d="M400.7,612.2L387.9,627.8L384.4,627.7L397.2,612.1Z" fill="#7498CD" stroke="#7498CD" stroke-width="0.9"/>
<path d="M387.9,627.8L376.5,643.7L372.9,643.7L384.4,627.7Z" fill="#7498CD" stroke="#7498CD" stroke-width="0.9"/>
<path d="M376.5,643.7L366.4,659.9L362.7,660.0L372.9,643.7Z" fill="#7498CD" stroke="#7498CD" stroke-width="0.9"/>
<path d="M366.4,659.9L357.8,676.4L354.0,676.6L362.7,660.0Z" fill="#7498CD" stroke="#7498CD" stroke-width="0.9"/>
<path d="M357.8,676.4L350.6,693.2L346.8,693.4L354.0,676.6Z" fill="#7498CD" stroke="#7498CD" stroke-width="0.9"/>
<path d="M350.6,693.2L344.9,710.3L341.0,710.6L346.8,693.4Z" fill="#7498CD" stroke="#7498CD" stroke-width="0.9"/>
<path d="M344.9,710.3L340.8,727.6L336.8,727.9L341.0,710.6Z" fill="#7498CD" stroke="#7498CD" stroke-width="0.9"/>
<path d="M340.8,727.6L338.2,745.1L334.3,745.5L336.8,727.9Z" fill="#7498CD" stroke="#7498CD" stroke-width="0.9"/>
<path d="M338.2,745.1L337.3,762.7L333.3,763.3L334.3,745.5Z" fill="#7498CD" stroke="#7498CD" stroke-width="0.9"/>
<path d="M337.3,762.7L338.1,780.5L334.1,781.1L333.3,763.3Z" fill="#7498CD" stroke="#7498CD" stroke-width="0.9"/>
<path d="M1878.4,514.6L1858.0,503.1L1860.7,502.5L1881.2,514.1Z" fill="#C76F6D" stroke="#C76F6D" stroke-width="0.9"/>
<path d="M1858.0,503.1L1836.9,491.9L1839.5,491.3L1860.7,502.5Z" fill="#C76F6D" stroke="#C76F6D" stroke-width="0.9"/>
<path d="M1836.9,491.9L1815.1,481.2L1817.6,480.6L1839.5,491.3Z" fill="#C76F6D" stroke="#C76F6D" stroke-width="0.9"/>
<path d="M1815.1,481.2L1792.5,471.0L1794.9,470.3L1817.6,480.6Z" fill="#C76F6D" stroke="#C76F6D" stroke-width="0.9"/>
<path d="M1792.5,471.0L1769.3,461.1L1771.5,460.4L1794.9,470.3Z" fill="#C76F6D" stroke="#C76F6D" stroke-width="0.9"/>
<path d="M1769.3,461.1L1745.4,451.7L1747.6,451.0L1771.5,460.4Z" fill="#C86F6D" stroke="#C86F6D" stroke-width="0.9"/>
<path d="M1745.4,451.7L1720.9,442.8L1723.0,442.0L1747.6,451.0Z" fill="#C86F6D" stroke="#C86F6D" stroke-width="0.9"/>
<path d="M1720.9,442.8L1695.8,434.3L1697.8,433.5L1723.0,442.0Z" fill="#C86F6D" stroke="#C86F6D" stroke-width="0.9"/>
<path d="M1695.8,434.3L1670.3,426.3L1672.1,425.4L1697.8,433.5Z" fill="#C86F6D" stroke="#C86F6D" stroke-width="0.9"/>
<path d="M1670.3,426.3L1644.2,418.7L1645.9,417.8L1672.1,425.4Z" fill="#C86F6D" stroke="#C86F6D" stroke-width="0.9"/>
<path d="M1644.2,418.7L1617.6,411.6L1619.3,410.7L1645.9,417.8Z" fill="#C86F6D" stroke="#C86F6D" stroke-width="0.9"/>
<path d="M1617.6,411.6L1590.7,405.0L1592.2,404.0L1619.3,410.7Z" fill="#C86F6D" stroke="#C86F6D" stroke-width="0.9"/>
<path d="M1590.7,405.0L1563.3,398.8L1564.7,397.8L1592.2,404.0Z" fill="#C86F6D" stroke="#C86F6D" stroke-width="0.9"/>
<path d="M1563.3,398.8L1535.6,393.1L1536.9,392.1L1564.7,397.8Z" fill="#C86F6D" stroke="#C86F6D" stroke-width="0.9"/>
<path d="M1535.6,393.1L1507.5,387.8L1508.7,386.8L1536.9,392.1Z" fill="#C86F6D" stroke="#C86F6D" stroke-width="0.9"/>
<path d="M1924.0,544.3L1909.4,534.1L1912.3,533.7L1927.1,543.8Z" fill="#4D7EBA" stroke="#4D7EBA" stroke-width="0.9"/>
<path d="M1909.4,534.1L1894.2,524.2L1897.0,523.7L1912.3,533.7Z" fill="#4D7EBA" stroke="#4D7EBA" stroke-width="0.9"/>
<path d="M1894.2,524.2L1878.4,514.6L1881.2,514.1L1897.0,523.7Z" fill="#4D7EBA" stroke="#4D7EBA" stroke-width="0.9"/>
<path d="M1571.1,1126.2L1609.6,1117.2L1611.8,1119.7L1573.1,1128.8Z" fill="#BE4F4C" stroke="#BE4F4C" stroke-width="0.9"/>
<path d="M1609.6,1117.2L1646.9,1107.3L1649.3,1109.7L1611.8,1119.7Z" fill="#BE4F4C" stroke="#BE4F4C" stroke-width="0.9"/>
<path d="M1646.9,1107.3L1683.0,1096.5L1685.5,1098.9L1649.3,1109.7Z" fill="#BE4F4C" stroke="#BE4F4C" stroke-width="0.9"/>
<path d="M1683.0,1096.5L1717.7,1085.0L1720.4,1087.4L1685.5,1098.9Z" fill="#BE4F4C" stroke="#BE4F4C" stroke-width="0.9"/>
<path d="M1717.7,1085.0L1751.0,1072.8L1753.9,1075.1L1720.4,1087.4Z" fill="#BE4F4C" stroke="#BE4F4C" stroke-width="0.9"/>
<path d="M1751.0,1072.8L1782.9,1059.9L1785.9,1062.1L1753.9,1075.1Z" fill="#BE4F4C" stroke="#BE4F4C" stroke-width="0.9"/>
<path d="M1782.9,1059.9L1813.2,1046.4L1816.4,1048.5L1785.9,1062.1Z" fill="#BE4F4C" stroke="#BE4F4C" stroke-width="0.9"/>
<path d="M1813.2,1046.4L1841.9,1032.2L1845.2,1034.2L1816.4,1048.5Z" fill="#BE4F4C" stroke="#BE4F4C" stroke-width="0.9"/>
<path d="M1841.9,1032.2L1869.0,1017.6L1872.4,1019.5L1845.2,1034.2Z" fill="#BE4F4C" stroke="#BE4F4C" stroke-width="0.9"/>
<path d="M1869.0,1017.6L1894.3,1002.4L1897.9,1004.2L1872.4,1019.5Z" fill="#BD4F4C" stroke="#BD4F4C" stroke-width="0.9"/>
<path d="M1894.3,1002.4L1918.0,986.7L1921.6,988.5L1897.9,1004.2Z" fill="#BD4F4C" stroke="#BD4F4C" stroke-width="0.9"/>
<path d="M1918.0,986.7L1939.9,970.7L1943.6,972.3L1921.6,988.5Z" fill="#BD4F4C" stroke="#BD4F4C" stroke-width="0.9"/>
<path d="M1939.9,970.7L1960.0,954.3L1963.8,955.9L1943.6,972.3Z" fill="#BD4F4C" stroke="#BD4F4C" stroke-width="0.9"/>
<path d="M1960.0,954.3L1978.3,937.6L1982.2,939.1L1963.8,955.9Z" fill="#BD4F4C" stroke="#BD4F4C" stroke-width="0.9"/>
<path d="M1978.3,937.6L1994.8,920.6L1998.7,922.0L1982.2,939.1Z" fill="#BD4F4C" stroke="#BD4F4C" stroke-width="0.9"/>
<path d="M1994.8,920.6L2009.5,903.4L2013.5,904.7L1998.7,922.0Z" fill="#BD4F4C" stroke="#BD4F4C" stroke-width="0.9"/>
<path d="M2009.5,903.4L2022.4,886.1L2026.4,887.3L2013.5,904.7Z" fill="#BD4F4C" stroke="#BD4F4C" stroke-width="0.9"/>
<path d="M2022.4,886.1L2033.6,868.6L2037.6,869.7L2026.4,887.3Z" fill="#BD4F4C" stroke="#BD4F4C" stroke-width="0.9"/>
<path d="M2033.6,868.6L2042.9,851.0L2046.9,852.0L2037.6,869.7Z" fill="#BD4F4C" stroke="#BD4F4C" stroke-width="0.9"/>
<path d="M2042.9,851.0L2050.5,833.4L2054.5,834.3L2046.9,852.0Z" fill="#BD4F4C" stroke="#BD4F4C" stroke-width="0.9"/>
<path d="M2050.5,833.4L2056.3,815.7L2060.4,816.5L2054.5,834.3Z" fill="#BD4F4C" stroke="#BD4F4C" stroke-width="0.9"/>
<path d="M2056.3,815.7L2060.4,798.1L2064.5,798.8L2060.4,816.5Z" fill="#BD4F4C" stroke="#BD4F4C" stroke-width="0.9"/>
<path d="M2060.4,798.1L2062.9,780.6L2066.9,781.2L2064.5,798.8Z" fill="#BD4F4C" stroke="#BD4F4C" stroke-width="0.9"/>
<path d="M2062.9,780.6L2063.7,763.1L2067.7,763.7L2066.9,781.2Z" fill="#BD4F4C" stroke="#BD4F4C" stroke-width="0.9"/>
<path d="M2063.7,763.1L2062.9,745.8L2066.8,746.3L2067.7,763.7Z" fill="#BD4F4C" stroke="#BD4F4C" stroke-width="0.9"/>
<path d="M2062.9,745.8L2060.5,728.6L2064.4,729.0L2066.8,746.3Z" fill="#BD4E4C" stroke="#BD4E4C" stroke-width="0.9"/>
<path d="M2060.5,728.6L2056.5,711.7L2060.4,712.0L2064.4,729.0Z" fill="#BD4E4C" stroke="#BD4E4C" stroke-width="0.9"/>
<path d="M2056.5,711.7L2051.1,694.9L2054.9,695.2L2060.4,712.0Z" fill="#BD4E4B" stroke="#BD4E4B" stroke-width="0.9"/>
<path d="M2051.1,694.9L2044.2,678.4L2047.9,678.6L2054.9,695.2Z" fill="#BD4E4B" stroke="#BD4E4B" stroke-width="0.9"/>
<path d="M2044.2,678.4L2035.9,662.2L2039.6,662.3L2047.9,678.6Z" fill="#BD4E4B" stroke="#BD4E4B" stroke-width="0.9"/>
<path d="M2035.9,662.2L2026.2,646.2L2029.8,646.2L2039.6,662.3Z" fill="#BD4E4B" stroke="#BD4E4B" stroke-width="0.9"/>
<path d="M2026.2,646.2L2015.2,630.6L2018.7,630.5L2029.8,646.2Z" fill="#BD4E4B" stroke="#BD4E4B" stroke-width="0.9"/>
<path d="M2015.2,630.6L2002.9,615.3L2006.4,615.1L2018.7,630.5Z" fill="#BD4E4B" stroke="#BD4E4B" stroke-width="0.9"/>
<path d="M2002.9,615.3L1989.4,600.3L1992.8,600.1L2006.4,615.1Z" fill="#BC4E4B" stroke="#BC4E4B" stroke-width="0.9"/>
<path d="M1989.4,600.3L1974.7,585.7L1978.0,585.5L1992.8,600.1Z" fill="#BC4E4B" stroke="#BC4E4B" stroke-width="0.9"/>
<path d="M1974.7,585.7L1958.9,571.5L1962.1,571.2L1978.0,585.5Z" fill="#BC4E4B" stroke="#BC4E4B" stroke-width="0.9"/>
<path d="M1958.9,571.5L1942.0,557.7L1945.1,557.3L1962.1,571.2Z" fill="#BC4E4B" stroke="#BC4E4B" stroke-width="0.9"/>
<path d="M1942.0,557.7L1924.0,544.3L1927.1,543.8L1945.1,557.3Z" fill="#BC4E4B" stroke="#BC4E4B" stroke-width="0.9"/>
<path d="M1465.7,1145.7L1501.5,1139.9L1503.2,1142.6L1467.1,1148.4Z" fill="#9BBA59" stroke="#9BBA59" stroke-width="0.9"/>
<path d="M1501.5,1139.9L1536.7,1133.4L1538.5,1136.1L1503.2,1142.6Z" fill="#9BBA59" stroke="#9BBA59" stroke-width="0.9"/>
<path d="M1536.7,1133.4L1571.1,1126.2L1573.1,1128.8L1538.5,1136.1Z" fill="#9BBA59" stroke="#9BBA59" stroke-width="0.9"/>
<path d="M1022.2,1156.5L1062.3,1160.0L1061.6,1162.8L1021.2,1159.3Z" fill="#8063A0" stroke="#8063A0" stroke-width="0.9"/>
<path d="M1062.3,1160.0L1102.8,1162.6L1102.2,1165.4L1061.6,1162.8Z" fill="#8063A0" stroke="#8063A0" stroke-width="0.9"/>
<path d="M1102.8,1162.6L1143.5,1164.3L1143.2,1167.1L1102.2,1165.4Z" fill="#8062A0" stroke="#8062A0" stroke-width="0.9"/>
<path d="M1143.5,1164.3L1184.4,1165.1L1184.3,1167.9L1143.2,1167.1Z" fill="#8062A0" stroke="#8062A0" stroke-width="0.9"/>
<path d="M1184.4,1165.1L1225.3,1165.0L1225.4,1167.8L1184.3,1167.9Z" fill="#7F62A0" stroke="#7F62A0" stroke-width="0.9"/>
<path d="M1225.3,1165.0L1266.1,1164.0L1266.5,1166.8L1225.4,1167.8Z" fill="#7F62A0" stroke="#7F62A0" stroke-width="0.9"/>
<path d="M1266.1,1164.0L1306.8,1162.1L1307.3,1164.9L1266.5,1166.8Z" fill="#7F629F" stroke="#7F629F" stroke-width="0.9"/>
<path d="M1306.8,1162.1L1347.2,1159.3L1348.0,1162.1L1307.3,1164.9Z" fill="#7F629F" stroke="#7F629F" stroke-width="0.9"/>
<path d="M1347.2,1159.3L1387.2,1155.6L1388.2,1158.4L1348.0,1162.1Z" fill="#7F629F" stroke="#7F629F" stroke-width="0.9"/>
<path d="M1387.2,1155.6L1426.7,1151.1L1428.0,1153.8L1388.2,1158.4Z" fill="#7F629F" stroke="#7F629F" stroke-width="0.9"/>
<path d="M1426.7,1151.1L1465.7,1145.7L1467.1,1148.4L1428.0,1153.8Z" fill="#7F629F" stroke="#7F629F" stroke-width="0.9"/>
<path d="M921.3,1143.6L954.5,1148.5L953.1,1151.2L919.7,1146.2Z" fill="#F69845" stroke="#F69845" stroke-width="0.9"/>
<path d="M954.5,1148.5L988.1,1152.8L987.0,1155.6L953.1,1151.2Z" fill="#F69845" stroke="#F69845" stroke-width="0.9"/>
<path d="M988.1,1152.8L1022.2,1156.5L1021.2,1159.3L987.0,1155.6Z" fill="#F69845" stroke="#F69845" stroke-width="0.9"/>
<path d="M699.3,1090.5L733.6,1101.3L731.1,1103.7L696.7,1092.8Z" fill="#2B4D77" stroke="#2B4D77" stroke-width="0.9"/>
<path d="M733.6,1101.3L769.0,1111.4L766.7,1113.8L731.1,1103.7Z" fill="#2B4D77" stroke="#2B4D77" stroke-width="0.9"/>
<path d="M769.0,1111.4L805.6,1120.6L803.5,1123.2L766.7,1113.8Z" fill="#2B4D77" stroke="#2B4D77" stroke-width="0.9"/>
<path d="M805.6,1120.6L843.2,1129.1L841.3,1131.7L803.5,1123.2Z" fill="#2B4D77" stroke="#2B4D77" stroke-width="0.9"/>
<path d="M843.2,1129.1L881.8,1136.8L880.1,1139.4L841.3,1131.7Z" fill="#2B4D77" stroke="#2B4D77" stroke-width="0.9"/>
<path d="M881.8,1136.8L921.3,1143.6L919.7,1146.2L880.1,1139.4Z" fill="#2B4D77" stroke="#2B4D77" stroke-width="0.9"/>
<path d="M541.1,1022.6L564.6,1035.0L561.3,1037.1L537.7,1024.6Z" fill="#782A2A" stroke="#782A2A" stroke-width="0.9"/>
<path d="M564.6,1035.0L589.3,1047.1L586.1,1049.2L561.3,1037.1Z" fill="#782A2A" stroke="#782A2A" stroke-width="0.9"/>
<path d="M589.3,1047.1L615.1,1058.6L612.1,1060.8L586.1,1049.2Z" fill="#782A2A" stroke="#782A2A" stroke-width="0.9"/>
<path d="M615.1,1058.6L642.1,1069.8L639.2,1072.0L612.1,1060.8Z" fill="#782A2A" stroke="#782A2A" stroke-width="0.9"/>
<path d="M642.1,1069.8L670.2,1080.4L667.4,1082.7L639.2,1072.0Z" fill="#782A2A" stroke="#782A2A" stroke-width="0.9"/>
<path d="M670.2,1080.4L699.3,1090.5L696.7,1092.8L667.4,1082.7Z" fill="#782A2A" stroke="#782A2A" stroke-width="0.9"/>
<path d="M442.3,955.4L459.5,969.4L455.7,971.1L438.5,956.9Z" fill="#607630" stroke="#607630" stroke-width="0.9"/>
<path d="M459.5,969.4L477.9,983.2L474.3,984.9L455.7,971.1Z" fill="#60762F" stroke="#60762F" stroke-width="0.9"/>
<path d="M477.9,983.2L497.7,996.7L494.1,998.4L474.3,984.9Z" fill="#60762F" stroke="#60762F" stroke-width="0.9"/>
<path d="M497.7,996.7L518.8,1009.8L515.3,1011.7L494.1,998.4Z" fill="#60762F" stroke="#60762F" stroke-width="0.9"/>
<path d="M518.8,1009.8L541.1,1022.6L537.7,1024.6L515.3,1011.7Z" fill="#60762F" stroke="#60762F" stroke-width="0.9"/>
<path d="M339.5,792.1L342.8,808.7L338.8,809.5L335.5,792.8Z" fill="#4D3B63" stroke="#4D3B63" stroke-width="0.9"/>
<path d="M342.8,808.7L347.6,825.3L343.6,826.1L338.8,809.5Z" fill="#4D3B63" stroke="#4D3B63" stroke-width="0.9"/>
<path d="M347.6,825.3L354.0,841.9L349.9,842.8L343.6,826.1Z" fill="#4D3B63" stroke="#4D3B63" stroke-width="0.9"/>
<path d="M354.0,841.9L361.8,858.4L357.8,859.5L349.9,842.8Z" fill="#4D3B63" stroke="#4D3B63" stroke-width="0.9"/>
<path d="M361.8,858.4L371.3,874.9L367.3,876.1L357.8,859.5Z" fill="#4D3B63" stroke="#4D3B63" stroke-width="0.9"/>
<path d="M371.3,874.9L382.3,891.4L378.3,892.6L367.3,876.1Z" fill="#4D3B63" stroke="#4D3B63" stroke-width="0.9"/>
<path d="M382.3,891.4L394.9,907.7L390.9,908.9L378.3,892.6Z" fill="#4D3B63" stroke="#4D3B63" stroke-width="0.9"/>
<path d="M394.9,907.7L409.1,923.8L405.2,925.2L390.9,908.9Z" fill="#4D3B63" stroke="#4D3B63" stroke-width="0.9"/>
<path d="M409.1,923.8L424.9,939.7L421.0,941.2L405.2,925.2Z" fill="#4D3B63" stroke="#4D3B63" stroke-width="0.9"/>
<path d="M424.9,939.7L442.3,955.4L438.5,956.9L421.0,941.2Z" fill="#4D3B63" stroke="#4D3B63" stroke-width="0.9"/>
<path d="M338.1,780.5L339.5,792.1L335.5,792.8L334.1,781.1Z" fill="#26687A" stroke="#26687A" stroke-width="0.9"/>
</g>
<g stroke-linejoin="round">
<path d="M1200.5,694.0L338.1,780.5L337.6,773.4L337.3,766.3L337.4,759.3L337.7,752.2L338.2,745.2L339.0,738.2L340.1,731.2L341.4,724.3L343.0,717.4L344.8,710.6L346.9,703.7L349.2,696.9L351.8,690.2L354.6,683.5L357.6,676.8L360.8,670.2L364.3,663.6L368.1,657.1L372.0,650.6L376.2,644.2L380.5,637.8L385.1,631.5L389.9,625.2L395.0,619.0L400.2,612.8L405.6,606.7L411.2,600.7L417.0,594.7L423.0,588.8L429.2,583.0L435.6,577.2L442.2,571.4L448.9,565.8L455.8,560.2L462.9,554.6L470.2,549.2L477.6,543.8L485.2,538.5L493.0,533.2L500.9,528.0L508.9,522.9L517.2,517.9L525.5,512.9L534.0,508.0L542.7,503.2L551.5,498.5L560.4,493.8L569.5,489.2L578.7,484.7L588.0,480.2L597.5,475.9L607.1,471.6L616.8,467.4L626.6,463.2L636.5,459.2L646.6,455.2L656.7,451.3L667.0,447.5L677.4,443.8L687.8,440.1L698.4,436.5L709.1,433.0L719.8,429.6L730.6,426.3L741.6,423.1L752.6,419.9L763.7,416.8L774.9,413.8L786.1,410.9L797.5,408.0L808.9,405.3L820.4,402.6L831.9,400.0L843.5,397.5L855.2,395.1L867.0,392.8L878.8,390.5L890.6,388.4L902.5,386.3L914.5,384.3L926.5,382.3L938.6,380.5L950.7,378.8L962.8,377.1L975.0,375.5L987.2,374.0L999.5,372.6L1011.8,371.3L1024.1,370.0L1036.5,368.9L1048.9,367.8L1061.3,366.8L1073.8,365.9L1086.2,365.1L1098.7,364.4L1111.2,363.7L1123.7,363.2L1136.2,362.7L1148.8,362.3L1161.3,362.0L1173.9,361.8L1186.4,361.6L1199.0,361.6L1211.5,361.6L1224.1,361.7L1236.6,361.9L1249.2,362.2L1261.7,362.6L1274.3,363.0L1286.8,363.6L1299.3,364.2L1311.8,364.9L1324.2,365.7L1336.7,366.6L1349.1,367.6L1361.5,368.6L1373.9,369.8L1386.2,371.0L1398.5,372.3L1410.8,373.7L1423.0,375.1L1435.2,376.7L1447.4,378.4L1459.5,380.1L1471.6,381.9L1483.6,383.8L1495.6,385.8L1507.5,387.8Z" fill="#7397CB" stroke="#7397CB" stroke-width="0.7"/>
<path d="M1200.5,694.0L1507.5,387.8L1519.2,390.0L1530.9,392.2L1542.5,394.5L1554.1,396.8L1565.6,399.3L1577.0,401.8L1588.4,404.4L1599.7,407.1L1610.9,409.9L1622.1,412.8L1633.2,415.7L1644.2,418.7L1655.1,421.8L1665.9,425.0L1676.7,428.2L1687.4,431.6L1697.9,435.0L1708.4,438.5L1718.8,442.1L1729.1,445.7L1739.3,449.5L1749.4,453.3L1759.4,457.2L1769.3,461.1L1779.0,465.2L1788.7,469.3L1798.2,473.5L1807.6,477.8L1816.9,482.1L1826.1,486.5L1835.1,491.0L1844.1,495.6L1852.8,500.2L1861.5,505.0L1870.0,509.7L1878.4,514.6Z" fill="#C9706E" stroke="#C9706E" stroke-width="0.7"/>
<path d="M1200.5,694.0L1878.4,514.6L1886.3,519.4L1894.2,524.2L1901.8,529.1L1909.4,534.1L1916.8,539.2L1924.0,544.3Z" fill="#4E7FBB" stroke="#4E7FBB" stroke-width="0.7"/>
<path d="M1200.5,694.0L1924.0,544.3L1931.5,549.7L1938.8,555.2L1945.9,560.8L1952.8,566.4L1959.6,572.1L1966.2,577.9L1972.6,583.7L1978.8,589.6L1984.8,595.6L1990.6,601.6L1996.2,607.7L2001.7,613.8L2006.9,620.0L2011.9,626.3L2016.7,632.6L2021.3,638.9L2025.6,645.4L2029.8,651.8L2033.7,658.4L2037.4,664.9L2040.9,671.6L2044.1,678.2L2047.1,685.0L2049.8,691.7L2052.4,698.5L2054.6,705.3L2056.7,712.2L2058.4,719.1L2060.0,726.1L2061.2,733.1L2062.2,740.1L2063.0,747.1L2063.5,754.2L2063.7,761.3L2063.6,768.4L2063.3,775.5L2062.7,782.6L2061.8,789.8L2060.7,797.0L2059.2,804.2L2057.5,811.4L2055.5,818.6L2053.2,825.8L2050.6,833.0L2047.7,840.2L2044.6,847.4L2041.1,854.6L2037.4,861.8L2033.3,869.0L2029.0,876.1L2024.3,883.3L2019.4,890.4L2014.2,897.5L2008.6,904.6L2002.8,911.6L1996.6,918.6L1990.2,925.6L1983.5,932.5L1976.4,939.4L1969.1,946.3L1961.4,953.1L1953.5,959.8L1945.2,966.5L1936.7,973.1L1927.9,979.7L1918.7,986.2L1909.3,992.7L1899.6,999.1L1889.6,1005.4L1879.3,1011.6L1868.7,1017.7L1857.8,1023.8L1846.7,1029.8L1835.3,1035.6L1823.6,1041.4L1811.6,1047.1L1799.4,1052.7L1786.9,1058.2L1774.1,1063.6L1761.1,1068.9L1747.9,1074.0L1734.4,1079.1L1720.6,1084.0L1706.7,1088.8L1692.4,1093.5L1678.0,1098.1L1663.3,1102.5L1648.5,1106.8L1633.4,1111.0L1618.1,1115.0L1602.6,1118.9L1587.0,1122.6L1571.1,1126.2Z" fill="#BE4F4C" stroke="#BE4F4C" stroke-width="0.7"/>
<path d="M1200.5,694.0L1571.1,1126.2L1556.5,1129.4L1541.7,1132.4L1526.7,1135.4L1511.7,1138.1L1496.5,1140.8L1481.1,1143.3L1465.7,1145.7Z" fill="#9BBA59" stroke="#9BBA59" stroke-width="0.7"/>
<path d="M1200.5,694.0L1465.7,1145.7L1449.3,1148.1L1432.8,1150.3L1416.1,1152.4L1399.4,1154.3L1382.6,1156.1L1365.7,1157.7L1348.7,1159.2L1331.7,1160.5L1314.6,1161.6L1297.4,1162.6L1280.2,1163.4L1263.0,1164.1L1245.7,1164.6L1228.4,1164.9L1211.1,1165.1L1193.8,1165.1L1176.5,1165.0L1159.2,1164.7L1141.9,1164.2L1124.7,1163.6L1107.5,1162.8L1090.3,1161.9L1073.2,1160.8L1056.1,1159.5L1039.1,1158.1L1022.2,1156.5Z" fill="#7F629F" stroke="#7F629F" stroke-width="0.7"/>
<path d="M1200.5,694.0L1022.2,1156.5L1005.1,1154.7L988.1,1152.8L971.2,1150.7L954.5,1148.5L937.8,1146.1L921.3,1143.6Z" fill="#F59745" stroke="#F59745" stroke-width="0.7"/>
<path d="M1200.5,694.0L921.3,1143.6L905.4,1140.9L889.6,1138.2L874.0,1135.3L858.5,1132.3L843.2,1129.1L828.1,1125.8L813.0,1122.4L798.2,1118.8L783.5,1115.2L769.0,1111.4L754.7,1107.4L740.6,1103.4L726.6,1099.2L712.9,1094.9L699.3,1090.5Z" fill="#2B4C76" stroke="#2B4C76" stroke-width="0.7"/>
<path d="M1200.5,694.0L699.3,1090.5L685.7,1085.9L672.4,1081.2L659.3,1076.4L646.4,1071.4L633.7,1066.4L621.2,1061.3L609.0,1056.0L597.1,1050.7L585.4,1045.2L573.9,1039.7L562.7,1034.1L551.8,1028.4L541.1,1022.6Z" fill="#772A2A" stroke="#772A2A" stroke-width="0.7"/>
<path d="M1200.5,694.0L541.1,1022.6L530.8,1016.8L520.7,1011.0L511.0,1005.1L501.5,999.1L492.2,993.0L483.2,986.9L474.5,980.7L466.0,974.5L457.8,968.1L449.9,961.8L442.3,955.4Z" fill="#5F752F" stroke="#5F752F" stroke-width="0.7"/>
<path d="M1200.5,694.0L442.3,955.4L434.5,948.6L427.1,941.8L419.9,934.9L413.1,928.0L406.5,921.0L400.3,914.0L394.3,906.9L388.7,899.9L383.3,892.8L378.3,885.7L373.5,878.5L369.1,871.4L364.9,864.2L361.1,857.0L357.5,849.8L354.3,842.6L351.3,835.4L348.6,828.2L346.2,821.0L344.1,813.7L342.3,806.5L340.8,799.3L339.5,792.1Z" fill="#4C3A62" stroke="#4C3A62" stroke-width="0.7"/>
<path d="M1200.5,694.0L339.5,792.1L338.7,786.3L338.1,780.5Z" fill="#266779" stroke="#266779" stroke-width="0.7"/>
</g>
<g fill="none" stroke="#A6A6A6" stroke-width="4.4" stroke-linejoin="miter">
<path d="M457.0,224.5L484.0,224.5L716.0,419.5"/>
<path d="M1808.5,311.0L1780.0,311.0L1722.5,431.0"/>
<path d="M2046.4,417.7L2017.6,417.7L1922.3,524.1"/>
<path d="M2115.5,1472.5L2087.0,1472.5L1522.5,1361.0"/>
<path d="M1487.5,1569.0L1461.0,1569.0L1245.0,1392.0"/>
<path d="M968.5,1429.0L968.5,1377.5"/>
<path d="M751.0,1413.5L780.5,1413.5L800.0,1345.0"/>
<path d="M272.0,1411.0L307.0,1411.0L607.0,1276.0"/>
</g>
<g font-family="&quot;Liberation Sans&quot;, Arial, sans-serif" font-weight="bold" text-anchor="middle">
<text y="280.2" font-size="90" fill="#17375E" text-anchor="start"><tspan x="796.9" textLength="203.5" lengthAdjust="spacingAndGlyphs">2025</tspan> <tspan x="1026.3" textLength="179.6" lengthAdjust="spacingAndGlyphs">ACD</tspan> <tspan x="1229.3" textLength="398.8" lengthAdjust="spacingAndGlyphs">REVENUE</tspan></text>
<text x="384.1" y="188.6" font-size="57.5" fill="#7397CB" textLength="387.5" lengthAdjust="spacingAndGlyphs">State Projects,</text>
<text x="382.6" y="265.8" font-size="57.5" fill="#7397CB" textLength="289.5" lengthAdjust="spacingAndGlyphs">$1,254,931</text>
<text x="240.0" y="476.0" font-size="57.5" fill="#266779" textLength="441.6" lengthAdjust="spacingAndGlyphs">Regional Grants,</text>
<text x="240.1" y="554.2" font-size="57.5" fill="#266779" textLength="213.5" lengthAdjust="spacingAndGlyphs">$16,030</text>
<text x="1939.9" y="156.7" font-size="57.5" fill="#C9706E" textLength="345.5" lengthAdjust="spacingAndGlyphs">State Service</text>
<text x="1941.2" y="233.5" font-size="57.5" fill="#C9706E" textLength="196.6" lengthAdjust="spacingAndGlyphs">Grants,</text>
<text x="1941.9" y="311.3" font-size="57.5" fill="#C9706E" textLength="243.9" lengthAdjust="spacingAndGlyphs">$348,889</text>
<text x="2213.6" y="418.7" font-size="57.5" fill="#4E7FBB" textLength="312.7" lengthAdjust="spacingAndGlyphs">Trees Sales,</text>
<text x="2212.2" y="495.1" font-size="57.5" fill="#4E7FBB" textLength="210.1" lengthAdjust="spacingAndGlyphs">$56,311</text>
<text x="186.7" y="1021.1" font-size="57.5" fill="#4C3A62" textLength="287.9" lengthAdjust="spacingAndGlyphs">Co. Service</text>
<text x="187.4" y="1100.2" font-size="57.5" fill="#4C3A62" textLength="285.4" lengthAdjust="spacingAndGlyphs">Allocation,</text>
<text x="188.2" y="1177.2" font-size="57.5" fill="#4C3A62" textLength="245.0" lengthAdjust="spacingAndGlyphs">$226,992</text>
<text x="267.0" y="1272.5" font-size="57.5" fill="#5F752F" textLength="480.4" lengthAdjust="spacingAndGlyphs">Co. Project Funds,</text>
<text x="265.6" y="1351.8" font-size="57.5" fill="#5F752F" textLength="241.9" lengthAdjust="spacingAndGlyphs">$103,181</text>
<text x="195.3" y="1422.5" font-size="57.5" fill="#772A2A" textLength="235.6" lengthAdjust="spacingAndGlyphs">Property</text>
<text x="196.8" y="1500.5" font-size="57.5" fill="#772A2A" textLength="181.8" lengthAdjust="spacingAndGlyphs">Mgmt,</text>
<text x="196.7" y="1578.3" font-size="57.5" fill="#772A2A" textLength="243.0" lengthAdjust="spacingAndGlyphs">$123,699</text>
<text x="590.5" y="1428.5" font-size="57.5" fill="#2B4C76" textLength="302.1" lengthAdjust="spacingAndGlyphs">Charges for</text>
<text x="592.0" y="1505.5" font-size="57.5" fill="#2B4C76" textLength="233.6" lengthAdjust="spacingAndGlyphs">Services,</text>
<text x="591.0" y="1584.5" font-size="57.5" fill="#2B4C76" textLength="241.7" lengthAdjust="spacingAndGlyphs">$140,254</text>
<text x="1074.0" y="1473.0" font-size="57.5" fill="#F59745" textLength="501.2" lengthAdjust="spacingAndGlyphs">Local Govt. Service</text>
<text x="1077.5" y="1551.0" font-size="57.5" fill="#F59745" textLength="452.5" lengthAdjust="spacingAndGlyphs">Charges, $58,020</text>
<text x="2228.8" y="933.0" font-size="57.5" fill="#BE4F4C" textLength="120.1" lengthAdjust="spacingAndGlyphs">Rain</text>
<text x="2229.3" y="1011.1" font-size="57.5" fill="#BE4F4C" textLength="264.4" lengthAdjust="spacingAndGlyphs">Guardian,</text>
<text x="2229.1" y="1088.1" font-size="57.5" fill="#BE4F4C" textLength="243.1" lengthAdjust="spacingAndGlyphs">$917,090</text>
<text x="1765.6" y="1485.3" font-size="57.5" fill="#7F629F" textLength="296.9" lengthAdjust="spacingAndGlyphs">Local Govt.</text>
<text x="1764.5" y="1563.9" font-size="57.5" fill="#7F629F" textLength="488.6" lengthAdjust="spacingAndGlyphs">Projects, $247,870</text>
<text x="2240.0" y="1474.0" font-size="57.5" fill="#9BBA59" textLength="227.9" lengthAdjust="spacingAndGlyphs">Interest,</text>
<text x="2239.5" y="1551.0" font-size="57.5" fill="#9BBA59" textLength="208.5" lengthAdjust="spacingAndGlyphs">$63,181</text>
</g>
</svg>
</body></html>
